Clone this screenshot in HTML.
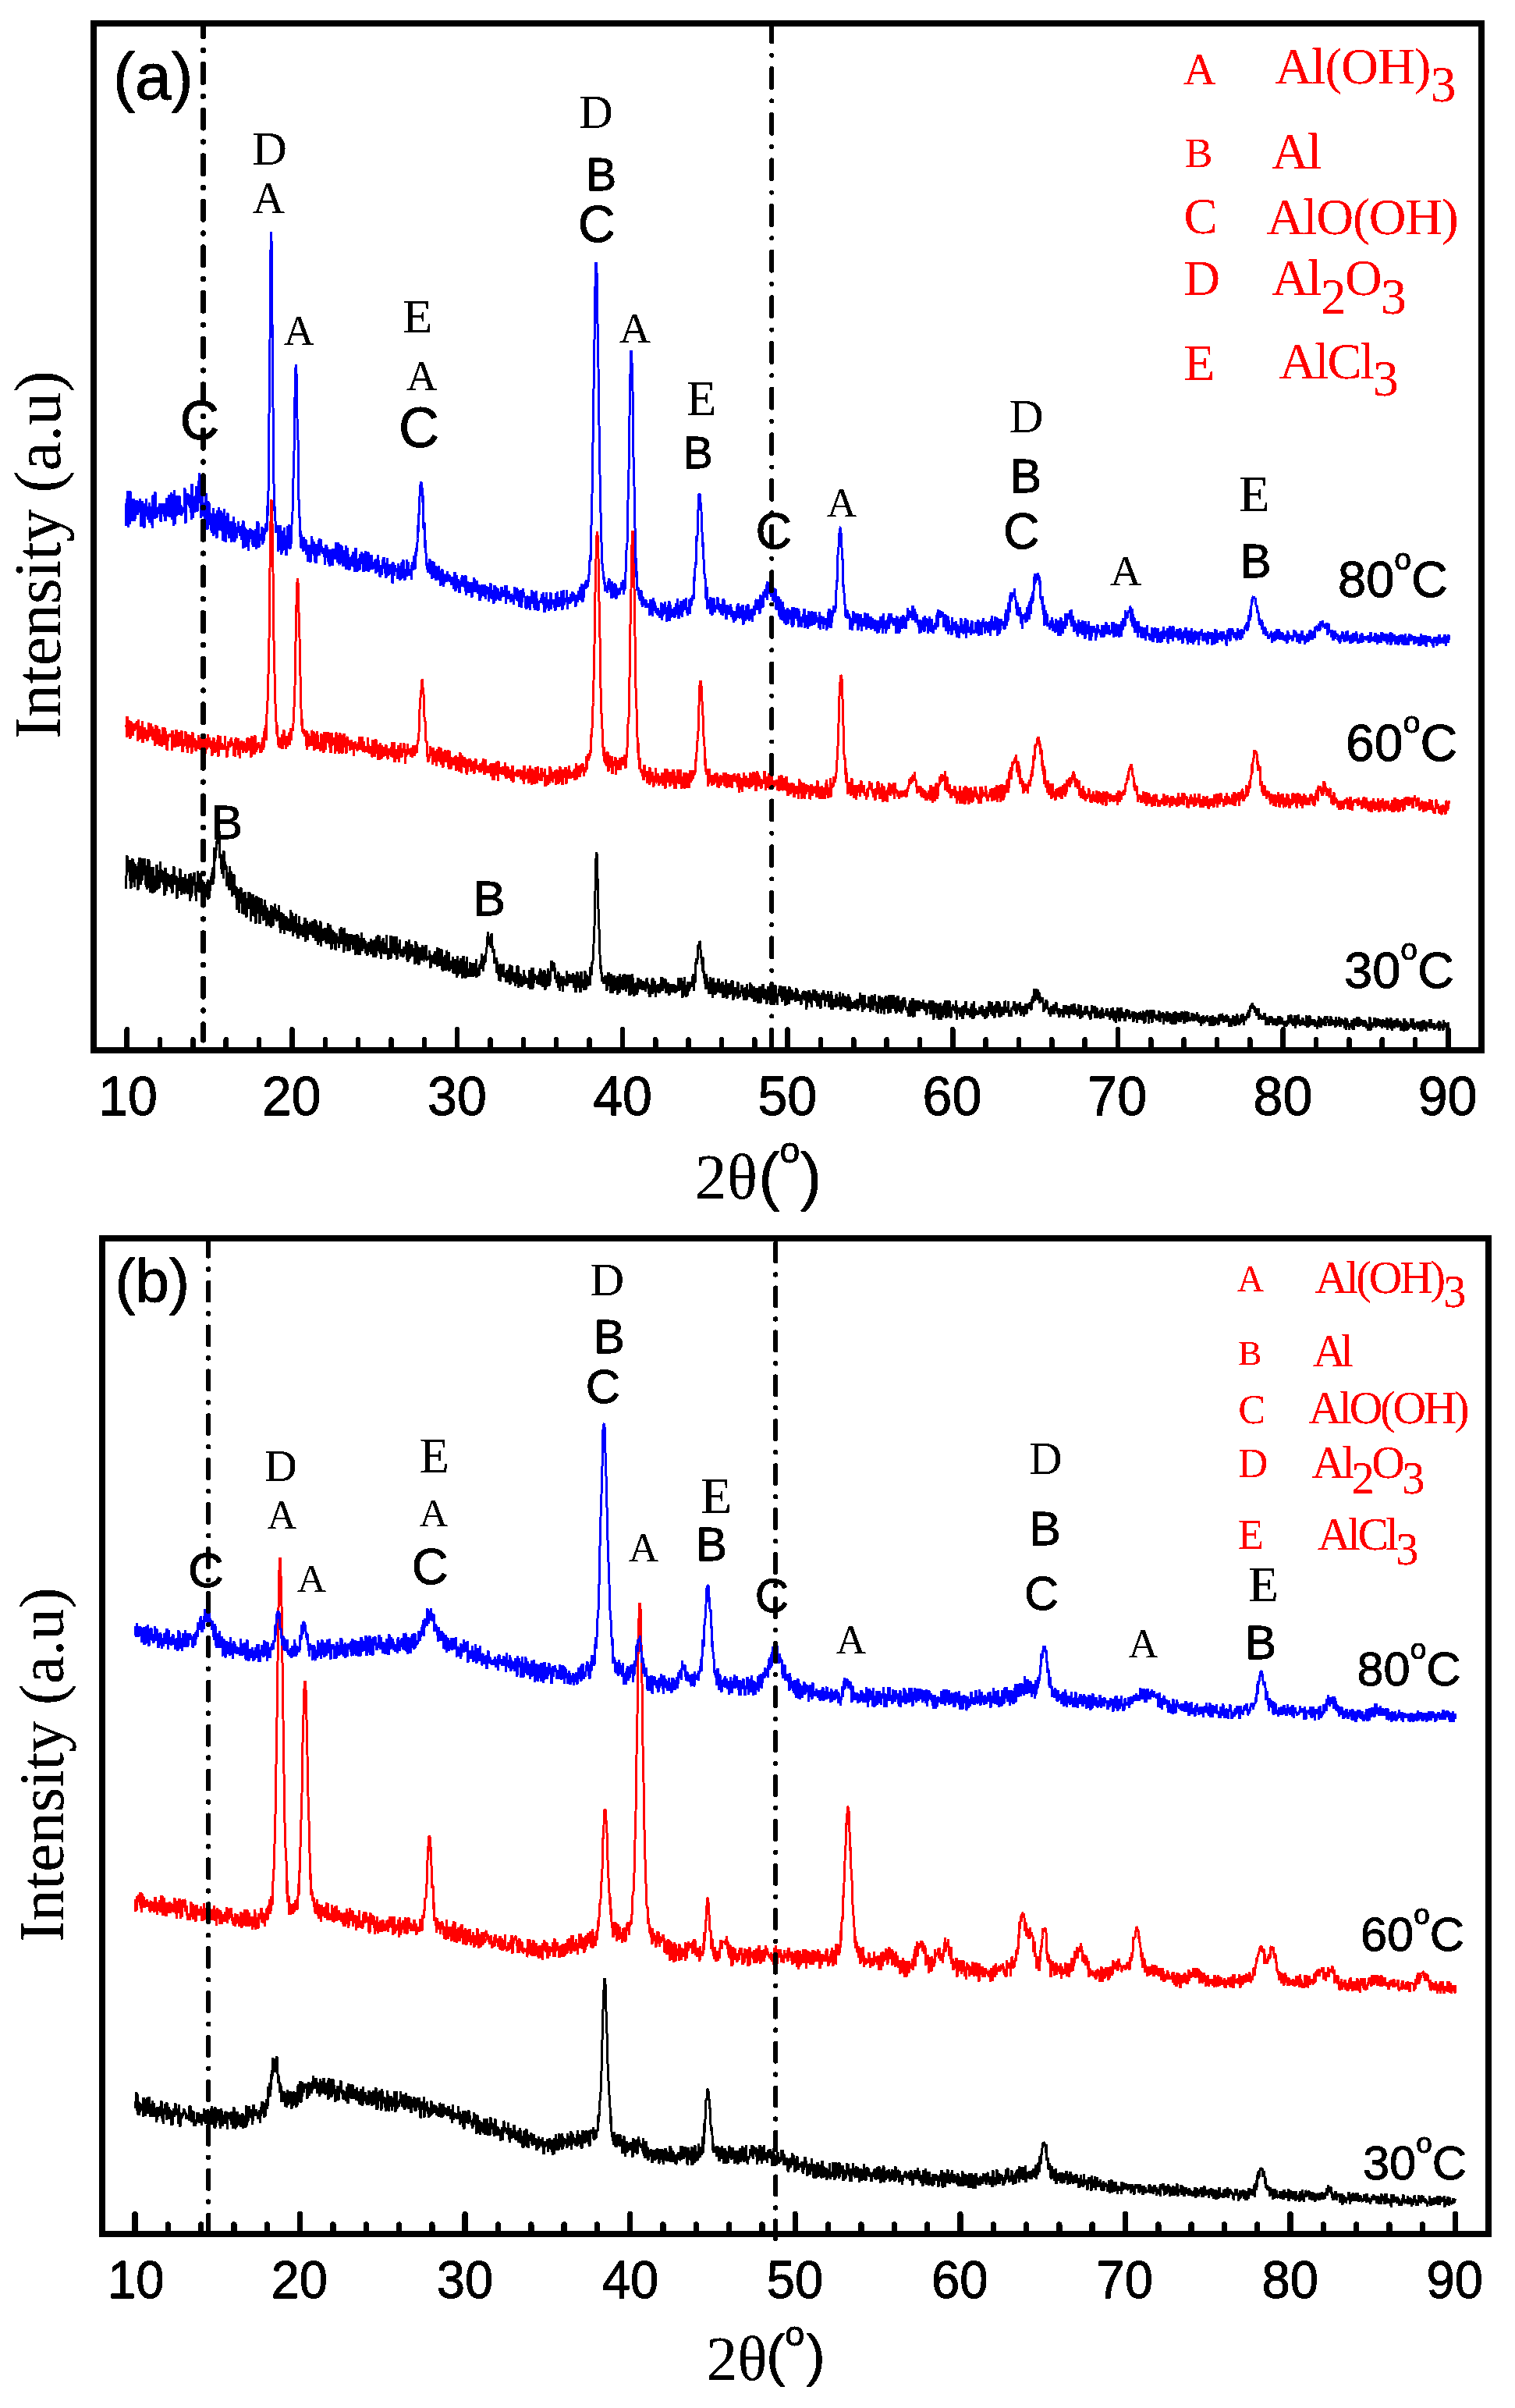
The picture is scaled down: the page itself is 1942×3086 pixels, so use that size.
<!DOCTYPE html>
<html lang="en"><head><meta charset="utf-8"><title>XRD patterns</title>
<style>html,body{margin:0;padding:0;background:#fff}svg{display:block}</style></head>
<body>
<svg width="1942" height="3086" viewBox="0 0 1942 3086">
<defs><filter id="bs" x="-5%" y="-5%" width="110%" height="110%" color-interpolation-filters="sRGB"><feComponentTransfer><feFuncA type="discrete" tableValues="0 0 1 1 1"/></feComponentTransfer></filter><filter id="ba" x="-5%" y="-5%" width="110%" height="110%" color-interpolation-filters="sRGB"><feComponentTransfer><feFuncA type="discrete" tableValues="0 1 1 1 1"/></feComponentTransfer></filter></defs>
<rect width="1942" height="3086" fill="#fff"/>
<g shape-rendering="crispEdges">
<path d="M161.5,1139l.5-16.5 .5-4 .5-22.5 .5,18.5 .5-1 .5,3 .5-6 .5,7 .5-5.5 .5-9.5 .5,26 .5,0 .5,10 .5-19.5 .5-5.5 .5-1.5 .5-12 .5,30.5 .5-25 .5-.5 .5,11.5 .5,20 .5-14.5 .5-15 .5,4 .5,16 .5-9.5 .5-7 .5,6.5 .5,11.5 .5,12.5 .5-35.5 .5,7 .5-2 .5-11.5 .5,10.5 .5-1 .5,25 .5-14.5 .5-17.5 .5,27 .5-12 .5-16 .5,13.5 .5,0 .5-3 .5,10.5 .5-21 .5,18 .5,15 .5-2 .5,3.5 .5,0 .5,4.5 .5-30.5 .5,23 .5-31 .5,14.5 .5-14 .5,33 .5,3.5 .5-17.5 .5,23 .5-28.5 .5,9.5 .5,.5 .5-14 .5,17.5 .5,16 .5-33 .5,22.5 .5-12 .5,22 .5-14.5 .5,2.5 .5-.5 .5-4.5 .5-19 .5,32.5 .5-32 .5,19 .5,4 .5-16.5 .5,11.5 .5,12 .5-13.5 .5-10 .5-10.5 .5,10 .5,4.5 .5,1 .5-5 .5,15.5 .5-11 .5,5.5 .5,9 .5-17.5 .5,6.5 .5,24.5 .5-10.5 .5-25 .5,14 .5,7.5 .5,8 .5-12.5 .5-7.5 .5-2 .5,16 .5-4 .5-9 .5,3.5 .5-2 .5,13 .5-16 .5,13.5 .5,4 .5-4 .5-14.5 .5,24.5 .5-22.5 .5,12.5 .5-13 .5-11 .5,22 .5,1 .5-4 .5,4 .5-10 .5-1 .5,6.5 .5,22.5 .5-11 .5-15 .5,12 .5-11.5 .5,.5 .5,15 .5-15.5 .5-12.5 .5,8.5 .5,11.5 .5,.5 .5,12.5 .5-22 .5,16.5 .5-3 .5-6.5 .5,11 .5-3.5 .5-15 .5,21.5 .5-25.5 .5,14.5 .5-.5 .5,5 .5-13 .5,8 .5-1 .5,12.5 .5-19.5 .5,9.5 .5-3.5 .5-11.5 .5,34.5 .5-20.5 .5-15.5 .5,32 .5-27.5 .5,16 .5,5.5 .5-16.5 .5,2.5 .5-1 .5,4.5 .5-16.5 .5,4.5 .5,12 .5,13 .5-4.5 .5,12 .5-11 .5-13.5 .5,4.5 .5-18.5 .5,9.5 .5-1 .5,14 .5,4.5 .5-13.5 .5,0 .5-10.5 .5,15.5 .5,4 .5,2 .5-13.5 .5,28 .5-6.5 .5-14 .5-5 .5,2.5 .5,5 .5-2 .5,5.5 .5,2.5 .5,6.5 .5-2.5 .5-14 .5,5.5 .5-9 .5-2.5 .5,25.5 .5-25 .5,24 .5-24 .5,5.5 .5,8 .5-12.5 .5,2.5 .5-8.5 .5-4.5 .5,1.5 .5-8 .5,21.5 .5-22.5 .5,17 .5-41.5 .5,15.5 .5,1.5 .5-13.5 .5,10 .5-9 .5-13 .5,2.5 .5,1.5 .5-9 .5-1 .5-1 .5,3 .5-9.5 .5,11.5 .5,23.5 .5-4 .5-1 .5,8 .5,11 .5-9.5 .5,15.5 .5-5.5 .5-7 .5,18.5 .5-35 .5,14.5 .5,10 .5-11 .5,9 .5-4.5 .5,1 .5,26.5 .5-11.5 .5-6 .5,15 .5-15.5 .5,13 .5-4.5 .5,14 .5-30.5 .5,24 .5-5.5 .5-12 .5,24.5 .5-19 .5,27 .5-10 .5,3 .5-5 .5,10 .5-27 .5,20.5 .5-6 .5,10.5 .5-2 .5,7.5 .5-14 .5,28.5 .5,.5 .5-19.5 .5,2.5 .5,4 .5,11 .5,6 .5-30 .5,6.5 .5-4 .5,0 .5-4.5 .5,20.5 .5-15 .5,28 .5-6 .5-19 .5,0 .5,5 .5,20.5 .5-22.5 .5-6 .5,15 .5,4.5 .5-10 .5,23 .5-13.5 .5,2.5 .5-13 .5,8.5 .5-1 .5-16 .5,21.5 .5-21 .5,18 .5-14 .5,33 .5-14.5 .5,5.5 .5,1 .5-22 .5-4.5 .5,15 .5,12.5 .5-8 .5,7 .5,2 .5-24 .5,18 .5,15.5 .5-23.5 .5-12 .5,16 .5-2.5 .5,9 .5-12.5 .5,10 .5-18.5 .5,26.5 .5,7.5 .5-2.5 .5-28 .5,18.5 .5-20.5 .5,20.5 .5-3 .5-9 .5,13.5 .5-2 .5,8 .5-7.5 .5,1 .5-19.5 .5,6 .5,7 .5,8 .5-3 .5,15 .5-23 .5,6.5 .5,5 .5-4.5 .5,7 .5-10 .5,19.5 .5-16.5 .5,14 .5-11 .5,15 .5-28 .5,19 .5-9 .5,6.5 .5,9.5 .5-22.5 .5-1.5 .5,3.5 .5,12 .5-19.5 .5,18.5 .5-13 .5,1.5 .5,7.5 .5,7.5 .5-9.5 .5,1.5 .5,4.5 .5-2 .5-14.5 .5,13 .5,5.5 .5,9.5 .5,7 .5-10.5 .5-5.5 .5-10 .5,10.5 .5,6.5 .5,5 .5-20.5 .5,11 .5,5.5 .5,9.5 .5-14 .5-7.5 .5-1.5 .5,3.5 .5-2.5 .5,14 .5,2.5 .5-3 .5,4.5 .5-15.5 .5,8 .5-7 .5,4.5 .5,11 .5-11.5 .5-16.5 .5,15 .5-4 .5-7.5 .5,7 .5,16.5 .5,7 .5-20 .5,14 .5,1.5 .5-21.5 .5,10.5 .5,.5 .5,2 .5-16 .5,11.5 .5,13 .5,2.5 .5,5 .5-19.5 .5,19.5 .5-10 .5-18.5 .5,19.5 .5-10 .5,8.5 .5-6 .5,12.5 .5-8.5 .5-5 .5,11.5 .5-6 .5-6 .5,15.5 .5-15 .5-2 .5,1 .5-8.5 .5,8.5 .5,22 .5-24.5 .5,8.5 .5-10 .5,4.5 .5,19.5 .5-5.5 .5-13.5 .5,6 .5-7.5 .5,.5 .5-1 .5,.5 .5,11 .5,3 .5-1 .5-6 .5-10.5 .5,12 .5-7.5 .5,16.5 .5-3 .5,2 .5-9.5 .5-13 .5,25 .5,2.5 .5-24 .5,14.5 .5,9.5 .5-20 .5,25.5 .5-18.5 .5-6.5 .5,22 .5-9.5 .5-8 .5,14 .5-24 .5,32.5 .5-23.5 .5,10 .5-6 .5,8 .5,4 .5-15 .5,14.5 .5-9.5 .5-3.5 .5,4.5 .5-7 .5,2 .5,16 .5-10 .5,12 .5-6.5 .5-12.5 .5-7 .5,10 .5,9 .5-2.5 .5-7 .5,16.5 .5-24.5 .5,4.5 .5,12.5 .5,15 .5-12.5 .5-12.5 .5,14.5 .5,1 .5,2.5 .5-12 .5-3.5 .5,8.5 .5,2.5 .5,11 .5,1.5 .5-22 .5,2 .5,4 .5-1.5 .5,6.5 .5,.5 .5-2 .5,9.5 .5-13 .5-8 .5-4 .5,4.5 .5,0 .5-6.5 .5,22 .5-4 .5-5.5 .5-4 .5-6 .5,6 .5,24 .5-31.5 .5,17.5 .5,5 .5-5 .5-4 .5,10 .5-16.5 .5,14.5 .5,8 .5-21.5 .5,2 .5,8.5 .5,7.5 .5,3.5 .5-6 .5-11.5 .5-4 .5,12 .5,1.5 .5-13 .5,10.5 .5,2.5 .5,6.5 .5-18 .5,13.5 .5-14.5 .5,6.5 .5,3 .5,14 .5,2.5 .5-13 .5,2 .5,4.5 .5-20.5 .5,18.5 .5-17 .5,25 .5-1.5 .5-8 .5-11.5 .5,21.5 .5-12 .5-1.5 .5,4.5 .5-20 .5,19 .5,5 .5-6 .5-1.5 .5-9.5 .5,14 .5-4 .5-1.5 .5-5 .5,12.5 .5,3.5 .5-7.5 .5,4.5 .5,4 .5,2 .5-11.5 .5-3.5 .5-2 .5,4 .5,4.5 .5,3.5 .5-12 .5,5 .5-9.5 .5,19.5 .5-14 .5,6.5 .5-9.5 .5,3.5 .5-3 .5,20.5 .5-11.5 .5-4.5 .5-6.5 .5,3 .5,10 .5,9.5 .5-26.5 .5,4.5 .5,6.5 .5-4 .5-8.5 .5,14.5 .5,6 .5-20 .5,15.5 .5,6.5 .5,.5 .5-12 .5,19 .5-10.5 .5-12 .5,15.5 .5-18 .5,17.5 .5-18.5 .5,17.5 .5-11.5 .5,14.5 .5-3 .5-2.5 .5-3.5 .5,9 .5-24.5 .5,19 .5,0 .5,1.5 .5,2 .5,8.5 .5-14.5 .5,6 .5-5.5 .5,12.5 .5-29 .5,30 .5-20 .5-9.5 .5,6 .5,8 .5,3 .5-2 .5,7.5 .5-7 .5-.5 .5-14.5 .5,19.5 .5,4.5 .5-12 .5-11.5 .5,4 .5,25.5 .5-19 .5-.5 .5-1 .5,12.5 .5-10.5 .5-2 .5-5.5 .5,12 .5,9.5 .5-9.5 .5,8.5 .5-5.5 .5-.5 .5,.5 .5-1 .5,8.5 .5-4.5 .5-9 .5,6 .5-1.5 .5,5 .5-2.5 .5,2 .5-15.5 .5,15.5 .5,8 .5-22.5 .5,25 .5-10.5 .5-4.5 .5-13 .5,24 .5-17 .5,4 .5,9 .5-13 .5,.5 .5-1.5 .5,9 .5,6 .5-1.5 .5,0 .5-6 .5,4 .5-6.5 .5,20.5 .5-13 .5-16.5 .5,6 .5,22.5 .5-24.5 .5,8 .5,7 .5-12.5 .5,18 .5,5.5 .5-21 .5,16.5 .5-16.5 .5-1 .5,10.5 .5,0 .5-6.5 .5,12 .5-19 .5,5 .5-1.5 .5,15 .5,.5 .5-1 .5-16 .5,12 .5,3 .5-17.5 .5,7 .5,12 .5,1 .5-3.5 .5,2.5 .5-2 .5-1 .5-2 .5-6.5 .5,5.5 .5-1 .5,18 .5-12.5 .5-2 .5-1.5 .5,1 .5-1 .5,7 .5-4.5 .5,7 .5-12.5 .5,9 .5,4.5 .5-16.5 .5,11 .5,1 .5-5 .5-1 .5-10.5 .5,24.5 .5-17 .5-2.5 .5,16 .5-20 .5,22.5 .5-4 .5,1.5 .5-6 .5-8.5 .5-4.5 .5,26.5 .5-15.5 .5,0 .5,17 .5-17.5 .5,3 .5,.5 .5,1 .5-7.5 .5,4.5 .5,15 .5-4 .5-21 .5,.5 .5,17.5 .5-3.5 .5-2 .5,11.5 .5-22.5 .5,24.5 .5-8.5 .5,3.5 .5-2.5 .5,5 .5-8.5 .5-2.5 .5,11 .5-4.5 .5-11.5 .5,21 .5-1 .5,2 .5-10.5 .5,2 .5-5.5 .5-4.5 .5,8.5 .5,1 .5-6.5 .5,20 .5-27.5 .5,6.5 .5,1.5 .5,16 .5-12.5 .5-.5 .5-4.5 .5,1 .5-4 .5,19 .5-3.5 .5,3.5 .5-13.5 .5,20 .5-22.5 .5-6.5 .5,12.5 .5,3.5 .5,5 .5-14 .5,13 .5,9 .5-20.5 .5,1 .5-8 .5,16 .5,5 .5-1 .5,1 .5,4.5 .5-10.5 .5,7 .5-15.5 .5,1.5 .5,8.5 .5-8.5 .5,11 .5,6.5 .5-8 .5-9 .5,0 .5,17 .5-17.5 .5,7 .5-2.5 .5,2.5 .5,8 .5-13 .5-7 .5,23 .5-10 .5,4 .5-6.5 .5,6.5 .5,3.5 .5,.5 .5-13.5 .5-1 .5,5.5 .5-2 .5,2.5 .5-11 .5-9 .5,16.5 .5,2 .5-2.5 .5,7 .5-8 .5-11.5 .5,9 .5-10 .5,8.5 .5-10 .5-1 .5-4 .5-3.5 .5-14.5 .5,10 .5-16 .5,15.5 .5,0 .5-1.5 .5-5 .5,0 .5-2.5 .5,12.5 .5-16 .5,17.5 .5-18.5 .5,16 .5,8.5 .5-.5 .5-.5 .5-3.5 .5,1.5 .5,17.5 .5-2.5 .5-3 .5,5 .5-7.5 .5,17 .5,3 .5-14.5 .5,8 .5,8.5 .5-12.5 .5,20 .5-1.5 .5-13.5 .5,10.5 .5,5.5 .5-22 .5,15 .5-5.5 .5-.5 .5,7.5 .5-9 .5-6.5 .5,0 .5,11 .5,5.5 .5-5 .5-1 .5,1.5 .5,10 .5-5.5 .5-9.5 .5,3.5 .5,11.5 .5-13.5 .5,1.5 .5,3 .5-8 .5,15.5 .5-20.5 .5,25 .5-14.5 .5-6 .5,12 .5-15.5 .5,17.5 .5,2 .5-10.5 .5,1.5 .5,10.5 .5-12.5 .5,5.5 .5,2.5 .5,9.5 .5-16 .5,4.5 .5,8.5 .5-22.5 .5,12 .5-12 .5,0 .5,28 .5-12 .5,9.5 .5-13 .5,6 .5-7.5 .5-.5 .5,3.5 .5,1.5 .5,11 .5-13.5 .5,4.5 .5-4.5 .5,3 .5-11 .5,18.5 .5-12.5 .5,4.5 .5-2 .5,9 .5-3.5 .5-3.5 .5,1 .5,1.5 .5,3 .5-1.5 .5,6 .5,2.5 .5-7.5 .5-15 .5,23.5 .5,.5 .5-16.5 .5-.5 .5-10.5 .5,20 .5-13.5 .5,21 .5-27 .5,14 .5,5 .5-8.5 .5-3 .5,8 .5-5.5 .5,1.5 .5,2 .5-3.5 .5,2.5 .5,7.5 .5-9 .5,4.5 .5-7 .5,12.5 .5-16.5 .5,17 .5-20.5 .5,6.5 .5-5 .5,19.5 .5-5.5 .5-12 .5,6 .5,14 .5-10.5 .5,5 .5-15.5 .5,0 .5,15.5 .5,9.5 .5-18 .5,8.5 .5-11.5 .5,16.5 .5-13 .5,0 .5-10 .5,10 .5,4 .5,8.5 .5-20 .5,14.5 .5-11.5 .5-1.5 .5-7 .5-7 .5,3 .5,10.5 .5-8 .5,1 .5,1.5 .5-6 .5,10.5 .5-4 .5,7.5 .5,7 .5-5.5 .5,1.5 .5,8 .5,.5 .5-9.5 .5,4.5 .5-8.5 .5,20 .5-18.5 .5,10.5 .5,12 .5-7 .5-8 .5-3.5 .5,1 .5,11.5 .5-4 .5-2.5 .5,13.5 .5-19.5 .5,2.5 .5,1 .5,4.5 .5,.5 .5-4 .5,7.5 .5-1.5 .5-6.5 .5-10.5 .5,19 .5-13 .5,2 .5,4 .5-8 .5,3 .5,6.5 .5-3 .5,5 .5-9 .5,5 .5-6.5 .5,6 .5,4 .5-3.5 .5-9 .5,9.5 .5,2.5 .5,7 .5-8.5 .5-3 .5-5.5 .5,23 .5-21 .5-1.5 .5,7.5 .5-12 .5,21 .5-6.5 .5,2 .5-11 .5,3.5 .5,10.5 .5,0 .5,7.5 .5-6 .5-21 .5,13.5 .5-3.5 .5,11 .5-9 .5,4.5 .5-6 .5,6.5 .5,6.5 .5-15.5 .5-8.5 .5,5 .5,19 .5-10 .5-4 .5-5 .5,14.5 .5-5.5 .5-3.5 .5-3.5 .5,2.5 .5-1.5 .5,6 .5,4.5 .5-23.5 .5,1.5 .5,8.5 .5-1 .5-15 .5,2.5 .5-5 .5-9 .5-12 .5-12 .5-11 .5-22 .5-23 .5-23 .5-19 .5-7.5 .5,1.5 .5,10.5 .5,21 .5,19 .5,20 .5,23 .5,3 .5,24.5 .5,8 .5,19 .5-5 .5,11 .5-2 .5,8.5 .5,3 .5-5.5 .5,3 .5,1 .5,5 .5-7.5 .5,3 .5-3 .5-3.5 .5,8.5 .5,2 .5-8.5 .5,17.5 .5-17 .5,11.5 .5-2.5 .5-15.5 .5,12.5 .5-11 .5,11 .5,5.5 .5,9 .5-8 .5-17 .5,9 .5,13.5 .5-9.5 .5,12 .5-18.5 .5,1.5 .5-6 .5,7.5 .5,12 .5-16 .5,13 .5-2.5 .5,2 .5-7.5 .5,2 .5,14 .5-23 .5,15 .5,5.5 .5-8 .5,9 .5-24.5 .5,10 .5-6 .5,5.5 .5,2.5 .5,4 .5-9.5 .5,12.5 .5-18 .5,19 .5-9 .5-10.5 .5,0 .5,0 .5,5 .5,8.5 .5,8.5 .5-3.5 .5-15.5 .5-3 .5,10.5 .5-8.5 .5,9.5 .5-4 .5,19.5 .5-26.5 .5,14.5 .5,11.5 .5-16.5 .5-3 .5,18 .5-24.5 .5,0 .5,3.5 .5,12 .5,2.5 .5-6.5 .5,15.5 .5-16 .5,1.5 .5-2 .5,11.5 .5-9 .5-3 .5,15.5 .5-3 .5-2 .5-16.5 .5,1.5 .5,6 .5,0 .5-1 .5,1.5 .5,6.5 .5-12.5 .5,9.5 .5-4.5 .5-1 .5,1.5 .5,8 .5-3.5 .5-8 .5,8.5 .5-1.5 .5,2 .5-4.5 .5,9 .5-4.5 .5-11 .5-1 .5-1 .5,13.5 .5-8 .5,2.5 .5,2 .5,10 .5,4 .5-14 .5,14 .5-9 .5,5 .5-11 .5-7 .5,12.5 .5,6 .5-20.5 .5,11 .5,2 .5,2.5 .5-12 .5,3.5 .5,11 .5,6.5 .5-12.5 .5,6.5 .5-6 .5,2 .5-6 .5,1.5 .5-2.5 .5,5 .5,7 .5-6.5 .5,3.5 .5-9.5 .5,10 .5-18.5 .5,3 .5,8 .5-10.5 .5,17 .5-2.5 .5-8.5 .5,7.5 .5-11.5 .5,4.5 .5,3.5 .5-8.5 .5,19 .5-12 .5,12 .5-8.5 .5,3.5 .5-9 .5,4.5 .5-1 .5,5 .5,8 .5-14 .5,3 .5,4 .5,3.5 .5-7 .5-2 .5-1.5 .5,4.5 .5,1.5 .5-6.5 .5,3 .5,7.5 .5-5.5 .5-4 .5,9 .5,0 .5-.5 .5,.5 .5-8 .5,4.5 .5,1 .5-1.5 .5-13.5 .5,12.5 .5,2.5 .5,1 .5-5.5 .5,2.5 .5-13.5 .5,2 .5-2 .5,11.5 .5,13 .5,1 .5-21 .5,13 .5,4.5 .5-11.5 .5-11 .5,23.5 .5-13 .5-.5 .5,15 .5-9 .5,3 .5,5 .5-12.5 .5-6 .5,12.5 .5-6 .5,5.5 .5-3 .5-8.5 .5,5.5 .5-3 .5,.5 .5,1 .5,2.5 .5-2 .5-11.5 .5,13 .5-16.5 .5,21.5 .5-20 .5,2.5 .5,7.5 .5-14.5 .5-11.5 .5-5 .5,7.5 .5-4 .5-2 .5-9 .5-9.5 .5,1 .5-2 .5-4.5 .5,1 .5,0 .5,10 .5,9.5 .5,0 .5,1 .5,8 .5,9 .5-18.5 .5,21 .5-2.5 .5,1 .5,8.5 .5,2.5 .5,4 .5-6 .5,13.5 .5-20 .5,6.5 .5-1 .5,10 .5-4 .5,8 .5-9.5 .5,15.5 .5-4 .5-8.5 .5-8.5 .5,4 .5-2.5 .5,20 .5-3.5 .5-14 .5,22 .5-15 .5-10.5 .5,20.5 .5,1.5 .5-9 .5-6.5 .5,15.5 .5-12.5 .5,3.5 .5,4 .5-1.5 .5-5 .5-4 .5,12.5 .5-18 .5,15.5 .5-.5 .5,2 .5-6.5 .5,4.5 .5,4 .5-13 .5,8 .5,2.5 .5-12 .5,2.5 .5,18 .5-3.5 .5-13 .5,10.5 .5-2 .5,7 .5-1.5 .5-21 .5,11 .5,12 .5,1.5 .5-15.5 .5-4.5 .5,10.5 .5-6 .5,4.5 .5-8.5 .5,14 .5-1.5 .5-.5 .5-11 .5-4 .5,3 .5,12.5 .5-16.5 .5,18 .5,7.5 .5-17 .5,3.5 .5,8.5 .5-.5 .5-11 .5,3.5 .5,2 .5-2.5 .5,6 .5-2 .5,7 .5-21 .5,20.5 .5-2.5 .5-7 .5,4 .5,4 .5-4.5 .5-4 .5,4 .5-7 .5-4 .5,3 .5,.5 .5,7 .5,4.5 .5-4 .5,8.5 .5-10.5 .5-4 .5-.5 .5-1 .5,4 .5,12 .5-20 .5,14.5 .5-4 .5,6 .5-9 .5,8.5 .5-9 .5,8.5 .5-17.5 .5,16.5 .5,2 .5-16.5 .5,17 .5-14 .5,15 .5-6.5 .5,4.5 .5-2 .5-11 .5,19.5 .5-2.5 .5-15.5 .5,11 .5-.5 .5-8 .5-2.5 .5,16.5 .5-12 .5,9.5 .5,6 .5-9 .5-9.5 .5,13 .5-16.5 .5,3.5 .5,18.5 .5-17.5 .5,8 .5-10 .5,6.5 .5,2.5 .5-14.5 .5,8.5 .5,9.5 .5,1.5 .5-4 .5-9 .5,9.5 .5-6 .5-2 .5,5.5 .5,12 .5-18 .5,13.5 .5-5.5 .5-12 .5,4 .5,5 .5-2 .5,5.5 .5-9 .5,0 .5,14 .5-7 .5-6 .5,6 .5,12.5 .5-16.5 .5-6 .5,17 .5,5.5 .5-3 .5-18 .5-4 .5,22 .5-10 .5,4.5 .5-4.5 .5,13 .5-11 .5-3 .5,3.5 .5-9.5 .5,9.5 .5-1.5 .5-12.5 .5,5 .5-.5 .5-2.5 .5,13.5 .5,5.5 .5-5.5 .5-12.5 .5-2 .5,18 .5-7.5 .5,1.5 .5-8.5 .5-3.5 .5,25 .5-16.5 .5,3 .5-7 .5,19 .5-13 .5,1 .5,1.5 .5,0 .5,10 .5-22.5 .5,17 .5-8.5 .5,1.5 .5-1.5 .5,7 .5-11.5 .5,5 .5,8 .5-8 .5,.5 .5,6 .5-2 .5-2.5 .5,2.5 .5-6.5 .5,12.5 .5-14 .5-3.5 .5,14.5 .5-12 .5,2.5 .5,5 .5,6.5 .5-8 .5,0 .5,0 .5,6 .5-6 .5,5 .5,8 .5-11 .5-1 .5-4 .5,1.5 .5-3.5 .5,1 .5,3.5 .5,6.5 .5,1 .5-6 .5,5 .5-11 .5,22 .5,0 .5-13.5 .5,4 .5-2.5 .5,4.5 .5-9.5 .5-6 .5,16 .5-13 .5,10 .5-9 .5,1.5 .5,12 .5,4.5 .5-12 .5-2 .5,5 .5-6 .5-8 .5,12 .5-12 .5,15 .5-6 .5,4.5 .5-11.5 .5,5 .5,9.5 .5,5.5 .5-3.5 .5-3 .5-10.5 .5,11.5 .5-3 .5-3 .5,11.5 .5-14.5 .5,17.5 .5-16.5 .5,0 .5,4 .5-8.5 .5,6 .5,4 .5-12.5 .5,6 .5-3.5 .5,6.5 .5,11 .5-11 .5,2 .5,3 .5-9.5 .5,9.5 .5-5 .5-1 .5-7.5 .5,7.5 .5,12 .5,1 .5-10.5 .5,2.5 .5-3 .5-5 .5-4 .5,23.5 .5-18.5 .5,8.5 .5,9.5 .5-13.5 .5,1.5 .5,3 .5-4 .5,4 .5-4 .5,10.5 .5-4.5 .5-11.5 .5-1 .5,4.5 .5,.5 .5-1 .5,11.5 .5-11 .5,1.5 .5,4.5 .5-13.5 .5,15.5 .5,1 .5,6 .5-16.5 .5,3.5 .5,4.5 .5-4 .5-7.5 .5,16.5 .5-8 .5,4.5 .5-10 .5,14 .5-9 .5-2.5 .5,10.5 .5,2 .5-14 .5,13.5 .5,4.5 .5-9.5 .5-11.5 .5,13.5 .5,3.5 .5-14 .5,18.5 .5-13 .5,.5 .5,8.5 .5-6 .5,7 .5-8.5 .5,3 .5-2.5 .5,1.5 .5,2.5 .5-1 .5-5.5 .5,9 .5-7.5 .5,9 .5-4 .5-4.5 .5-4.5 .5,5.5 .5,9 .5-8 .5,5.5 .5-7.5 .5-1.5 .5-2.5 .5-8 .5,15 .5-2 .5-.5 .5,5.5 .5-12 .5,18.5 .5-21.5 .5,11.5 .5-10 .5,6.5 .5,10 .5-18.5 .5,12 .5-.5 .5,.5 .5,.5 .5,3.5 .5-2 .5-.5 .5,3.5 .5-1.5 .5-5.5 .5-7.5 .5,14 .5-8 .5,13.5 .5-15 .5-4.5 .5,16 .5-12.5 .5-5.5 .5,18.5 .5-18 .5,19 .5-15.5 .5,9.5 .5-1.5 .5-13.5 .5,12 .5-2.5 .5,3.5 .5,3 .5,7 .5-12.5 .5,1 .5,13.5 .5-7.5 .5,0 .5-15.5 .5,1 .5,5.5 .5,3 .5,4.5 .5,9 .5-21 .5,6 .5,7 .5-2.5 .5,6 .5-9.5 .5-4.5 .5,19 .5-9.5 .5-11.5 .5,6 .5,2 .5-10 .5,16 .5-4.5 .5-3.5 .5-2 .5,16 .5-12 .5-4.5 .5-7 .5,5 .5,12 .5,5.5 .5-18.5 .5-4 .5,12.5 .5-.5 .5,6 .5-10.5 .5,5.5 .5-12.5 .5,3.5 .5,4.5 .5,1 .5,6.5 .5,5 .5-18 .5,21 .5-16.5 .5,2.5 .5,10.5 .5-19.5 .5,2 .5,4.5 .5,6 .5,7 .5,0 .5-13.5 .5,11.5 .5-8 .5,13 .5-12 .5,9.5 .5-14.5 .5,12.5 .5-14.5 .5,10 .5-11.5 .5,10 .5-4 .5-1.5 .5,8.5 .5,4 .5-4.5 .5,1.5 .5,2.5 .5,3.5 .5-1 .5-4 .5,9.5 .5-16 .5,9.5 .5-13.5 .5,20.5 .5-14 .5,2.5 .5,8.5 .5-10.5 .5-4.5 .5-6 .5,10 .5,14.5 .5-11 .5,10.5 .5-6 .5-8.5 .5-6.5 .5,8 .5,6 .5-6 .5,3 .5,3 .5-6.5 .5-7.5 .5,8 .5,6 .5-9.5 .5-1.5 .5,.5 .5,5 .5,1 .5,.5 .5-8 .5,9 .5-4.5 .5-2 .5-5.5 .5,4.5 .5,3.5 .5,5 .5,2 .5-2.5 .5,1.5 .5-9.5 .5,13.5 .5,0 .5-1 .5-8 .5,3 .5-2.5 .5-5.5 .5,6.5 .5-8 .5-1.5 .5,16 .5,0 .5,2 .5-9 .5,3.5 .5,3.5 .5-6 .5-9.5 .5,24.5 .5-4 .5,0 .5-8 .5-6 .5,6 .5,1.5 .5-11 .5,6 .5,7 .5,6.5 .5-6 .5-7 .5-6 .5,21 .5-11.5 .5,4.5 .5-5 .5-9.5 .5,21.5 .5-7.5 .5,3.5 .5-13.5 .5,5 .5,9.5 .5-11.5 .5-2.5 .5-3 .5-1.5 .5,15 .5-6 .5-12 .5,22.5 .5-2 .5-.5 .5-20 .5,13 .5,8 .5-15.5 .5,1.5 .5,3.5 .5-10.5 .5,13.5 .5,5 .5-2 .5,5.5 .5-9.5 .5-.5 .5-1 .5-3.5 .5-2.5 .5,2 .5,4.5 .5-3 .5,4.5 .5-.5 .5,4 .5-8 .5-8.5 .5,5.5 .5,18.5 .5-7 .5-7.5 .5,1 .5,1 .5-2.5 .5,4.5 .5,3 .5,3.5 .5-10.5 .5,.5 .5,0 .5,2 .5,7 .5-12 .5,16.5 .5-8 .5,3.5 .5-13 .5,3.5 .5-1 .5,3.5 .5-11.5 .5,14.5 .5-14 .5,13.5 .5,4 .5-7 .5-.5 .5,0 .5-.5 .5,3 .5,4.5 .5-2 .5,5.5 .5-9 .5-3.5 .5,0 .5-5 .5,5.5 .5-1 .5,15 .5-8 .5,7.5 .5-22.5 .5,13.5 .5,5 .5-4.5 .5-5 .5,4 .5-.5 .5,0 .5,1 .5,4.5 .5-5 .5,.5 .5-1.5 .5,2.5 .5-7 .5,8 .5-5.5 .5,7 .5-9 .5,3.5 .5-.5 .5-5.5 .5,13 .5-4.5 .5-2 .5,7.5 .5-9.5 .5,1.5 .5,7 .5,4 .5-10 .5,9.5 .5-9 .5-6 .5,8 .5,4.5 .5-6.5 .5,1.5 .5-9.5 .5-5 .5,13 .5-10 .5,8 .5-3.5 .5,4.5 .5,4.5 .5-15.5 .5,9 .5,0 .5,9 .5-7.5 .5-5.5 .5,1.5 .5,14.5 .5-16.5 .5,5.5 .5,1.5 .5-8.5 .5,2 .5-6 .5,5.5 .5,9.5 .5-3 .5-12 .5,19.5 .5-16.5 .5,2 .5,15.5 .5-7 .5-3 .5,9.5 .5-9.5 .5,2.5 .5-5.5 .5,2.5 .5,.5 .5,7 .5-10.5 .5,2.5 .5-9.5 .5,.5 .5,14.5 .5-6.5 .5,0 .5,6 .5-6 .5,3 .5-2.5 .5-9 .5,14.5 .5,5 .5-2 .5-6.5 .5,1 .5,1 .5,6.5 .5-2 .5-9 .5,1 .5,0 .5-2.5 .5,0 .5,2.5 .5-9.5 .5,12.5 .5-5 .5-4.5 .5,6 .5-3.5 .5,11.5 .5-13.5 .5,7 .5,1.5 .5-7 .5-2 .5,9 .5-4.5 .5-3 .5-3 .5,12 .5,5 .5-12 .5,6 .5,3.5 .5-1 .5-9 .5,6.5 .5,.5 .5,7 .5-9.5 .5,4.5 .5-1.5 .5-1 .5-9.5 .5,7 .5,7 .5-11 .5,3 .5-6 .5,5.5 .5,0 .5,1.5 .5-6.5 .5-1 .5-1.5 .5,4 .5-1.5 .5,8 .5-14.5 .5,6 .5-8 .5-1 .5,7.5 .5-5 .5-.5 .5-12 .5,16 .5-1.5 .5-13 .5-1.5 .5,2.5 .5,.5 .5-.5 .5,2 .5-3 .5,13 .5-9.5 .5,0 .5,14 .5-7 .5-.5 .5,1 .5,5 .5-4.5 .5,4 .5-2.5 .5-3 .5,6.5 .5,3.5 .5,8 .5-6.5 .5-2.5 .5,3 .5,3 .5-12.5 .5,8 .5-7.5 .5,1 .5,5.5 .5,3.5 .5,1 .5,1 .5,6.5 .5-4.5 .5-.5 .5-3.5 .5,11.5 .5-2.5 .5-10 .5,0 .5,7 .5,1.5 .5-7 .5,8 .5-12.5 .5,5.5 .5,6.5 .5-8.5 .5,4 .5-1 .5-1 .5-8.5 .5,8 .5,2.5 .5,.5 .5,3 .5,1 .5-7 .5,1 .5,10 .5-4.5 .5-4 .5-1.5 .5,6.5 .5,.5 .5-6 .5,2.5 .5-2 .5-.5 .5,9.5 .5-15.5 .5,10.5 .5-9.5 .5,2 .5,8 .5-11 .5,2 .5-1 .5,2.5 .5,5 .5,4 .5-9 .5,8 .5-11 .5,15.5 .5-11.5 .5,0 .5,3.5 .5-.5 .5-1.5 .5-7.5 .5,13 .5-1 .5-5.5 .5-4 .5,7.5 .5,4 .5-14.5 .5,3.5 .5,6 .5-4.5 .5,2.5 .5,1 .5,4.5 .5,.5 .5,1 .5-.5 .5-7.5 .5-6 .5,10.5 .5,1 .5,0 .5-5.5 .5,12.5 .5-17.5 .5,12.5 .5-1 .5,1.5 .5,2.5 .5-4.5 .5-1 .5-3 .5,5.5 .5-2 .5,2 .5-9.5 .5-2 .5,8 .5,2.5 .5-10 .5,2.5 .5,3.5 .5,3 .5,0 .5,3.5 .5-5.5 .5,3 .5,4 .5-7.5 .5,10.5 .5-11 .5,2.5 .5-9.5 .5,8.5 .5-2 .5-.5 .5,4.5 .5-6.5 .5,6.5 .5-10 .5,6.5 .5,9 .5-6 .5,2.5 .5-7.5 .5-2 .5,13.5 .5-2 .5-.5 .5-4.5 .5,6 .5-8 .5,5.5 .5,0 .5-7.5 .5,11.5 .5-6.5 .5,3.5 .5-11 .5,1.5 .5,3.5 .5,4.5 .5,3.5 .5-4 .5-2.5 .5,3.5 .5-3.5 .5,1.5 .5,1.5 .5-5.5 .5,5.5 .5-9 .5,3 .5,7.5 .5-6.5 .5,5.5 .5-1 .5-2 .5,8 .5-5 .5-5 .5,.5 .5,3 .5-7.5 .5,12.5 .5-5.5 .5-8 .5,3.5 .5,11.5 .5-5.5 .5,7.5 .5-8.5 .5,2 .5,7 .5,0 .5-13.5 .5,9 .5-9.5 .5,3 .5-6.5 .5,11.5 .5-7.5 .5,1 .5,12.5 .5-4.5 .5-5 .5-8 .5,10.5 .5-10.5 .5,4.5 .5,8 .5,.5 .5-3 .5,3 .5-3 .5-4.5 .5,4 .5,8 .5-8.5 .5,2 .5,1 .5-9 .5,1.5 .5-2.5 .5,9.5 .5-3.5 .5-4.5 .5,0 .5,10 .5,.5 .5-2 .5-2 .5,2.5 .5-2.5 .5,1.5 .5-3.5 .5-3 .5,1.5 .5,5 .5,6.5 .5-12 .5-1 .5,8.5 .5,.5 .5-7 .5,.5 .5,0 .5,4.5 .5,7.5 .5-12.5 .5,5 .5-4 .5,3 .5,1.5 .5-.5 .5-6.5 .5,.5 .5,9 .5-3 .5-.5 .5,2 .5-6.5 .5,9.5 .5-9.5 .5-1.5 .5,.5 .5,4 .5,10 .5-9 .5,1 .5,6 .5-9 .5-5 .5,3.5 .5,1.5 .5-6 .5,6.5 .5,2 .5,8.5 .5-5.5 .5-3 .5-3 .5-1 .5-5 .5,7.5 .5-7.5 .5,7.5 .5,9 .5-10 .5,4 .5-6 .5-4 .5,9 .5-2 .5,3.5 .5-2 .5,2.5 .5-5 .5,4.5 .5,2.5 .5-7.5 .5,1 .5,7 .5-3 .5-3 .5-6.5 .5,6 .5,8.5 .5-9 .5,1 .5-3.5 .5,4 .5,.5 .5,1.5 .5-4.5 .5-2.5 .5,15 .5-8.5 .5-5 .5,3.5 .5,3 .5,3 .5-4 .5-3 .5,4 .5-9 .5,2.5 .5,10.5 .5-5 .5-1.5 .5-2.5 .5-2.5 .5,6.5 .5-1 .5,8.5 .5-12.5 .5,4 .5-1.5 .5-2.5 .5,13 .5-2.5 .5-5.5 .5-7.5 .5,8 .5,1 .5-5 .5-5 .5,16.5 .5-15 .5,11.5 .5-8.5 .5,1.5 .5,6.5 .5-10 .5,4 .5,1 .5,6 .5-1 .5-4 .5-6.5 .5,11.5 .5-7.5 .5,3.5 .5-9.5 .5,7.5 .5,3 .5-4 .5,4.5 .5,3.5 .5,1.5 .5-10.5 .5-4.5 .5-1 .5,7 .5-6.5 .5,10 .5-10.5 .5,13.5 .5-5 .5-7.5 .5,8.5 .5,1.5 .5,0 .5-2.5 .5,3 .5-.5 .5-4 .5,2 .5-6.5 .5,9.5 .5-9.5 .5,5 .5-4.5 .5,10 .5-3.5 .5-6 .5,6.5 .5-2.5 .5,4 .5-2.5 .5-.5 .5-1 .5-6.5 .5,10 .5,1 .5-8 .5,7 .5,3 .5-1 .5,2 .5-2 .5-6 .5,11.5 .5-9 .5-3 .5,9.5 .5-10 .5,7.5 .5-8 .5,9.5 .5,.5 .5-8 .5,5 .5,.5 .5-3.5 .5,2.5 .5-2.5 .5-3 .5-1.5 .5,6 .5,1.5 .5,1.5 .5-1.5 .5,1 .5-5 .5,10 .5-12 .5,7.5 .5-4.5 .5-.5 .5,10 .5-6 .5-8 .5,7 .5-3.5 .5,10.5 .5-12 .5,4 .5-3 .5,0 .5,6 .5,2 .5,.5 .5-6.5 .5-2 .5,5.5 .5-4.5 .5,9 .5-13.5 .5,8.5 .5-8 .5,1 .5-2.5 .5,1 .5,8.5 .5-5.5 .5-2 .5-.5 .5,1.5 .5,2 .5,6 .5-4 .5,0 .5-.5 .5,4 .5-7.5 .5,5.5 .5-6.5 .5,0 .5,8 .5-2.5 .5-1.5 .5-3.5 .5,6.5 .5,7 .5-6 .5,0 .5-3 .5,5.5 .5-7 .5,10.5 .5-7.5 .5-1 .5,5.5 .5-11 .5,2 .5,0 .5,2.5 .5,9 .5-12.5 .5,12.5 .5-3.5 .5,2.5 .5-6 .5-8.5 .5,1.5 .5,12 .5-8 .5,3.5 .5-.5 .5,5.5 .5-1 .5-4.5 .5-1 .5,4 .5-9.5 .5,1.5 .5-3 .5,2 .5-3 .5,11 .5-5.5 .5,9.5 .5-10 .5,2.5 .5-4 .5,5.5 .5-1 .5-4.5 .5,2.5 .5-5.5 .5,.5 .5-3 .5,8 .5-9 .5-1.5 .5,8.5 .5-6 .5-6.5 .5,0 .5,1.5 .5-3.5 .5,4 .5-6 .5,0 .5,6.5 .5-.5 .5-2 .5-.5 .5,1 .5-1 .5,8 .5-5 .5,2 .5,7 .5-1.5 .5-4 .5-4.5 .5,4 .5-4 .5,15 .5-7.5 .5,4.5 .5-1.5 .5-3.5 .5,5.5 .5,.5 .5-1 .5,.5 .5,2 .5-5.5 .5,4 .5-1.5 .5-1 .5,4 .5-8.5 .5,2 .5,5.5 .5,8 .5-4 .5-6 .5,10 .5-6 .5-3.5 .5,2.5 .5,7.5 .5-3 .5-7 .5-1.5 .5,7.5 .5-8 .5,3.5 .5,5.5 .5-8 .5,1 .5,4.5 .5-2 .5,7 .5-5.5 .5,2.5 .5,.5 .5-5.5 .5,6 .5,2.5 .5-7 .5-1.5 .5,1.5 .5,7.5 .5-6.5 .5-2 .5-3.5 .5,5.5 .5-6 .5,10.5 .5-8 .5-2 .5,10 .5-2.5 .5,.5 .5-6.5 .5,8 .5-2 .5-1 .5,3.5 .5,1 .5-5.5 .5,7.5 .5-4.5 .5-3 .5,3.5 .5-1.5 .5,5.5 .5-5.5 .5-2 .5,.5 .5,4 .5-11 .5,1.5 .5,4.5 .5,3.5 .5,.5 .5-4 .5-5.5 .5-1.5 .5,7.5 .5-1 .5,3 .5,3 .5-8 .5,10 .5-8 .5,1 .5,1.5 .5-8.5 .5,16.5 .5-10 .5,6.5 .5-8 .5-4 .5,2.5 .5-.5 .5-3 .5,0 .5,11.5 .5-6.5 .5,3.5 .5,5 .5-7.5 .5,2 .5,5 .5-3 .5-1 .5-5 .5,0 .5,7.5 .5-4.5 .5,5.5 .5-1 .5-1 .5,1 .5-2 .5,4.5 .5-13.5 .5,5 .5,4.5 .5,6 .5-15 .5,5.5 .5,4 .5,4 .5-8 .5-6 .5,10 .5,2 .5-1.5 .5,0 .5,.5 .5-6 .5,6 .5,1 .5-3.5 .5-4 .5,1.5 .5,5.5 .5-6 .5,8.5 .5-4.5 .5-2 .5,5 .5-4 .5,8.5 .5-2 .5-9.5 .5,1.5 .5-6.5 .5,12 .5-2 .5-1 .5-7 .5,13 .5-1 .5-7.5 .5-1 .5,.5 .5,6 .5-2 .5-2 .5-1 .5-5 .5,3.5 .5-5 .5,12.5 .5-5 .5,.5 .5-2 .5-2.5 .5-3.5 .5,4 .5,1.5 .5,.5 .5,5.5 .5,.5 .5-8.5 .5,.5 .5,8.5 .5-12.5 .5,6.5 .5,5 .5-3 .5-2.5 .5,5 .5-5.5 .5-1 .5,4.5 .5-1.5 .5,3.5 .5,2.5 .5,1 .5-14 .5,9.5 .5,1 .5,1 .5-5 .5,0 .5,3 .5-5 .5-4 .5,10.5 .5,0 .5-8.5 .5,10.5 .5-9 .5,6 .5-7.5 .5,5.5 .5-3 .5,1 .5,3.5 .5,1.5 .5-7 .5,11 .5-10.5 .5-3.5 .5,5.5 .5,10 .5-10.5 .5-4 .5,3 .5,4.5 .5,1 .5-.5 .5,3 .5,4 .5-8 .5,1.5 .5-2 .5,1.5 .5,4 .5-4 .5-6 .5,8.5 .5,3 .5-6 .5,7.5 .5-3.5 .5-11.5 .5,4.5 .5-3 .5,3 .5-2 .5,5 .5,2 .5-11 .5,11.5 .5-4 .5,5 .5-5.5 .5-7 .5,7.5 .5,2.5 .5,0 .5-2 .5-4.5 .5,.5 .5,.5 .5-1 .5,5 .5,1.5 .5,2 .5-2 .5-2.5 .5,3.5 .5-2.5 .5-4.5 .5,8.5 .5-4.5 .5,0 .5,6 .5-3 .5,.5 .5,5.5 .5-3.5 .5-1 .5-3.5 .5-8.5 .5,0 .5,4 .5,12.5 .5-9 .5-1.5 .5,4.5 .5,2.5 .5-3 .5,.5 .5-1 .5-3 .5-1 .5-5.5 .5,8 .5,0 .5,1.5 .5,3 .5-10.5 .5,1 .5,8 .5-10 .5,8 .5-1 .5,2 .5-6 .5,6.5 .5-8 .5,9 .5-3.5 .5-2 .5,2.5 .5,5 .5-10 .5,3.5 .5-4.5 .5,9.5 .5-1 .5-7 .5,3 .5-4 .5,5 .5,4.5 .5-7 .5,2.5 .5-7.5 .5,15 .5-12.5 .5,5.5 .5-2 .5,6 .5-5.5 .5-.5 .5-4.5 .5,11.5 .5-13 .5,14.5 .5-1 .5,2.5 .5-12.5 .5,1 .5,4 .5,4.5 .5-9.5 .5,10 .5-10.5 .5,8 .5-2.5 .5,.5 .5-1 .5,3 .5-10.5 .5,12 .5-7 .5,2 .5-2.5 .5,6 .5-1 .5-3.5 .5-2.5 .5,12.5 .5-9 .5,3.5 .5-4 .5,6 .5,1.5 .5-1.5 .5,3 .5,0 .5-15.5 .5,5.5 .5-2.5 .5,8 .5-1.5 .5-6.5 .5,12.5 .5-6.5 .5,6.5 .5-10 .5,6.5 .5,2 .5-7 .5,3 .5-1.5 .5-1.5 .5,3 .5-9.5 .5,11 .5-2.5 .5-6 .5,8.5 .5-11 .5,3 .5,10 .5-2.5 .5-5.5 .5,9.5 .5-8 .5,1 .5,1 .5,2.5 .5-.5 .5-6.5 .5,2.5 .5,4 .5,2.5 .5-3.5 .5,2.5 .5,0 .5-8 .5,3.5 .5,8.5 .5-9 .5,4.5 .5-9 .5,13.5 .5-11 .5,6.5 .5-1 .5-9 .5,6 .5,6 .5-8 .5,7 .5-5.5 .5,7 .5,2.5 .5-12.5 .5,6 .5-4.5 .5-1 .5,4 .5,1 .5,1 .5,0 .5-10 .5,6 .5-6 .5,9.5 .5,2 .5-2 .5-3.5 .5,3.5 .5,2 .5-1 .5-5 .5,1 .5,7 .5-5.5 .5,1 .5-.5 .5,2 .5,0 .5-3.5 .5-.5 .5,.5 .5,2 .5,1.5 .5-8.5 .5,13 .5-11.5 .5,5 .5-5 .5,2.5 .5,2 .5,2.5 .5-1 .5,2.5 .5-5 .5,8 .5-13.5 .5,8 .5,0 .5-3 .5,1.5 .5-3.5 .5,5.5 .5-3.5 .5,5 .5-1.5 .5,0 .5-1 .5-4.5 .5,7 .5,.5" fill="none" stroke="#000" stroke-width="3" stroke-linejoin="miter" stroke-miterlimit="2"/>
<path d="M161.5,928.5l.5,3 .5-13.5 .5,27 .5-27 .5,7.5 .5,11 .5-13.5 .5,1.5 .5,1 .5,11.5 .5,10 .5-13.5 .5-9 .5,13 .5-8.5 .5,4.5 .5,9.5 .5-15 .5,6.5 .5-7 .5,6 .5,3 .5-9.5 .5,5.5 .5,1 .5-3 .5-4 .5-2 .5,10 .5-.5 .5,16 .5-27.5 .5,15 .5,2 .5,8 .5-6.5 .5-10.5 .5,7 .5,4 .5-6.5 .5,8.5 .5-19.5 .5,27.5 .5-2 .5-13.5 .5,7.5 .5-4.5 .5-6.5 .5,7 .5,7.5 .5-10.5 .5,0 .5,2.5 .5,4 .5,7 .5-14.5 .5,9 .5-2.5 .5-15.5 .5,11 .5,2.5 .5,1 .5,3 .5-16.5 .5,14.5 .5-5.5 .5-5.5 .5,15 .5,2 .5-10.5 .5,11.5 .5-9 .5,3.5 .5-9 .5,21 .5-26 .5,13.5 .5,6 .5-19 .5,12.5 .5,1 .5,7 .5,3.5 .5-12.5 .5-7.5 .5,21.5 .5-1.5 .5-12.5 .5,6.5 .5,0 .5,1.5 .5-2.5 .5,9.5 .5-24.5 .5,21.5 .5-5 .5-4.5 .5,11 .5-23 .5,23 .5-6 .5-11.5 .5,12.5 .5-6 .5,16.5 .5,0 .5-10.5 .5-8.5 .5,1 .5,2 .5-1.5 .5-3 .5,2.5 .5,2.5 .5-1.5 .5-1.5 .5-1.5 .5,21 .5-25 .5,3.5 .5,11.5 .5-6 .5,6 .5,3 .5,3.5 .5-4 .5-13 .5,16 .5-22 .5,13 .5-3 .5-4.5 .5,13 .5-6 .5,9.5 .5-19 .5,18 .5-3 .5-2.5 .5-12 .5,9 .5-9.5 .5-2 .5,27.5 .5-6 .5,6.5 .5-17 .5,8.5 .5,0 .5-.5 .5-4.5 .5-1.5 .5-12 .5,18.5 .5-1.5 .5,5.5 .5-10.5 .5,15.5 .5-17 .5-6 .5,17 .5-10.5 .5-6 .5,10.5 .5,5 .5-4 .5,2 .5,10 .5-7.5 .5,6 .5-25.5 .5,16.5 .5,3 .5-8.5 .5-3.5 .5,9.5 .5-5.5 .5-2 .5,13.5 .5,1.5 .5-7.5 .5-6 .5,7.5 .5,2.5 .5-1.5 .5-15.5 .5,8.5 .5,5.5 .5,2 .5,2.5 .5-1.5 .5-14.5 .5,3.5 .5-4 .5,23.5 .5-12.5 .5,3 .5,3.5 .5-10 .5-6.5 .5,5.5 .5,2.5 .5,12.5 .5-5 .5-14.5 .5,13.5 .5,.5 .5-13.5 .5,7 .5-13 .5,16.5 .5-5 .5-7.5 .5,5 .5,7 .5-6 .5,6.5 .5,2 .5-10.5 .5,4 .5,16 .5-12.5 .5-7.5 .5,7 .5-10.5 .5,19 .5-6 .5,5.5 .5-1 .5-4 .5,4.5 .5-6 .5-6.5 .5-2.5 .5,4.5 .5-10.5 .5,27.5 .5-26.5 .5,12.5 .5-9.5 .5-3.5 .5,13 .5-1.5 .5,1 .5,5.5 .5-9 .5,7.5 .5,1 .5-6 .5,.5 .5,6 .5-3.5 .5,1 .5-15 .5,14 .5,2.5 .5-3.5 .5,3.5 .5,11 .5-13 .5,4.5 .5-11.5 .5,0 .5,3 .5-4 .5,7.5 .5-7 .5,6 .5-9.5 .5-1.5 .5,7.5 .5-3 .5,3 .5,.5 .5,2 .5,10.5 .5,2.5 .5-5 .5-8 .5,14 .5-22.5 .5-2 .5,15.5 .5-2 .5-1 .5,1.5 .5-13 .5,4 .5,18 .5-1.5 .5-13.5 .5,19 .5-21.5 .5,4 .5,6.5 .5-11.5 .5,5.5 .5,2.5 .5-2 .5,9.5 .5-2 .5-12.5 .5,3 .5,6.5 .5-2 .5-5.5 .5,9 .5,3 .5-11 .5,10.5 .5-18 .5,0 .5,16 .5-10.5 .5-1 .5,5.5 .5-3.5 .5,7.5 .5-13.5 .5,8 .5,16.5 .5-13 .5-14.5 .5,18 .5-.5 .5,6 .5-9.5 .5-6 .5,15.5 .5-5.5 .5-19 .5,19 .5-7.5 .5,10 .5-11.5 .5,8.5 .5-4.5 .5,2.5 .5-4.5 .5-3.5 .5,3.5 .5,4 .5-2 .5,8.5 .5-9.5 .5,1.5 .5,8 .5-13.5 .5,3 .5-9 .5,4 .5,11 .5-10.5 .5,7.5 .5-20 .5-4.5 .5,11 .5-15 .5,20 .5-8.5 .5-25.5 .5-1 .5-15.5 .5-9.5 .5-24.5 .5-19 .5-26.5 .5-47.5 .5-43 .5-24.5 .5-35 .5-19.5 .5-9 .5,8.5 .5,21.5 .5,28.5 .5,34 .5,45 .5,42.5 .5,23.5 .5,19 .5,27 .5,12 .5,2 .5,21 .5,16 .5-9.5 .5-2.5 .5,14.5 .5,11.5 .5-5 .5,1.5 .5,6.5 .5-.5 .5-6 .5-6.5 .5,3 .5-1 .5,7 .5-12.5 .5,18.5 .5-10.5 .5-3.5 .5,9 .5-19.5 .5,7.5 .5,1 .5,11 .5-9.5 .5,14 .5-14 .5,7 .5-9 .5,13.5 .5-10.5 .5,5 .5-7.5 .5-5 .5,6 .5,9.5 .5-16.5 .5-4.5 .5,8 .5,7 .5-15.5 .5,1.5 .5,2.5 .5-8.5 .5-1.5 .5-1.5 .5-19.5 .5-15 .5-11.5 .5-26.5 .5-30 .5-24.5 .5-23.5 .5-8.5 .5-20.5 .5-5 .5,6 .5,10.5 .5,27.5 .5,16.5 .5,15.5 .5,34.5 .5,14.5 .5,23 .5,19 .5,22 .5-9 .5,8.5 .5,8.5 .5,2 .5-.5 .5-5 .5,2 .5,7 .5-6.5 .5,4 .5-3.5 .5,18 .5-19 .5,24.5 .5-17 .5-3.5 .5-.5 .5,14.5 .5,2 .5-13.5 .5,9 .5-3.5 .5-.5 .5,3 .5,4.5 .5-19 .5,.5 .5,14.5 .5-2 .5,6 .5-18 .5,5.5 .5,19 .5-21 .5,12 .5-8.5 .5,3 .5-7 .5,19 .5-22 .5,4.5 .5,2 .5,15.5 .5-6.5 .5,3 .5-5 .5,1.5 .5,2 .5,8 .5-9.5 .5-12.5 .5,19 .5-7.5 .5-9 .5,7 .5-6 .5,20.5 .5-15.5 .5-11 .5,15.5 .5-8 .5,15.5 .5-8.5 .5-14 .5,9.5 .5-4.5 .5,2.5 .5,1 .5-8.5 .5,14.5 .5-7.5 .5,0 .5,12 .5,7.5 .5-17.5 .5,17.5 .5-26 .5,17 .5-8.5 .5,4 .5-6.5 .5,2.5 .5,2.5 .5-.5 .5,5.5 .5,10.5 .5-18 .5,3.5 .5-11.5 .5-.5 .5,23.5 .5-20 .5,4.5 .5,5.5 .5,6.5 .5-4.5 .5,11 .5-14.5 .5-11.5 .5,14 .5,0 .5-7 .5,4 .5-2 .5,17 .5-17 .5-6 .5,12.5 .5-15 .5,16 .5,0 .5-9 .5,2 .5,0 .5,16.5 .5-9 .5-11.5 .5-.5 .5,8.5 .5,1 .5-5.5 .5,7.5 .5-3.5 .5,9.5 .5-4.5 .5-3.5 .5,1.5 .5-7.5 .5,13 .5-3.5 .5-5.5 .5,4 .5-5 .5,17.5 .5-16.5 .5,7 .5-1 .5-8 .5,5.5 .5-2 .5,4 .5,.5 .5,3.5 .5,.5 .5-8.5 .5-1 .5-.5 .5-1.5 .5-6.5 .5,17 .5-5 .5-.5 .5-10.5 .5,1 .5-2 .5,12.5 .5,5.5 .5,0 .5-5 .5-7 .5,7.5 .5,.5 .5,5 .5,.5 .5-7.5 .5,2 .5,5.5 .5-2 .5-4 .5-12 .5,8.5 .5,11 .5-5 .5,6 .5-9.5 .5,3 .5,5.5 .5-.5 .5-2 .5,5 .5,2 .5,.5 .5-22 .5,8.5 .5,1 .5,0 .5-9 .5,21 .5-16.5 .5,8 .5-13.5 .5,9.5 .5,2 .5-5 .5,12 .5,8 .5-19.5 .5,.5 .5,19 .5-8.5 .5-6.5 .5-7 .5,15 .5-4 .5,10 .5-17.5 .5,5 .5-1 .5,1 .5,9 .5-1.5 .5-10.5 .5,4 .5-1 .5,8.5 .5-8 .5-6.5 .5,5.5 .5,2.5 .5,7 .5,2.5 .5,.5 .5-7 .5-6 .5,8 .5-5.5 .5-3 .5,6.5 .5,1 .5,3.5 .5-13 .5-5.5 .5,16 .5-10.5 .5,14 .5-15 .5,4 .5-9 .5,26 .5-16 .5,2.5 .5-3 .5,2 .5,8 .5-5 .5-1 .5,8.5 .5-18 .5,18 .5,3.5 .5-21.5 .5,12 .5-11 .5-3.5 .5,6.5 .5,10 .5,1.5 .5-8 .5-3.5 .5,3 .5-2 .5,1 .5-8.5 .5,11.5 .5,.5 .5,14 .5-8 .5-6 .5,1.5 .5,2 .5-7.5 .5-7.5 .5,7.5 .5,3.5 .5,2.5 .5-6 .5-1.5 .5,4.5 .5,2.5 .5,3.5 .5-6 .5,5 .5-10.5 .5,13 .5-6.5 .5-9.5 .5,7.5 .5,2.5 .5-8.5 .5,12.5 .5-8 .5,5 .5-11 .5,8.5 .5,1.5 .5-10 .5-1 .5-5.5 .5,2 .5-8 .5-3.5 .5-12 .5-18 .5-10.5 .5-4 .5-5 .5-5 .5-10.5 .5-3 .5,0 .5,9.5 .5,7 .5,2 .5,25 .5,4 .5,6.5 .5-1.5 .5,26.5 .5-.5 .5,2 .5-1.5 .5,6.5 .5,13.5 .5-4 .5,10.5 .5-4.5 .5-4.5 .5,4.5 .5-5 .5-11 .5,6 .5,7 .5-8.5 .5,3 .5-5 .5,21 .5-21 .5,2 .5,1.5 .5,13 .5,1.5 .5-12 .5,8 .5-10 .5,6.5 .5,13 .5-6 .5-7 .5-9 .5,7 .5-7 .5-3 .5,17 .5,0 .5-3 .5,6 .5-19 .5,22 .5-17.5 .5,10.5 .5,.5 .5,4.5 .5,5.5 .5-10.5 .5-5 .5-5 .5,10 .5-8 .5-3.5 .5,8.5 .5,6.5 .5-7 .5-5 .5,8.5 .5-9.5 .5-2 .5,21.5 .5-8.5 .5,11 .5-23 .5,18 .5-8.5 .5,14 .5-14 .5-1.5 .5,6.5 .5-1.5 .5-4.5 .5,9.5 .5-1 .5,1.5 .5-3.5 .5-7.5 .5,0 .5,9.5 .5-11 .5,19 .5-11.5 .5-6 .5,13.5 .5-7.5 .5,9 .5-7 .5,11 .5-15 .5-10 .5,2.5 .5-1 .5,16 .5,9 .5-14 .5-8 .5,14.5 .5-1.5 .5-6 .5,6 .5-3 .5-8 .5,13 .5-8 .5-3 .5,5 .5,13 .5,2 .5-3 .5-13 .5-3.5 .5,9.5 .5-3 .5,2 .5-9 .5,2 .5-1 .5,13 .5,2.5 .5-12.5 .5,9 .5,1 .5-10 .5,5.5 .5,6 .5-13 .5,16.5 .5-10.5 .5,2 .5-2 .5-8.5 .5,13 .5-2.5 .5-2.5 .5,1.5 .5,4.5 .5-4 .5-2.5 .5,4.5 .5,5 .5-5 .5-6 .5,11.5 .5-7.5 .5,6 .5-5 .5-5.5 .5-2 .5,2.5 .5,5 .5-11 .5,15.5 .5,5 .5-9.5 .5-6 .5-4 .5,13.5 .5,1.5 .5-2.5 .5,4.5 .5-9.5 .5,3 .5,4 .5-3.5 .5,5 .5,.5 .5-5.5 .5-5 .5,2 .5,13 .5-16.5 .5,9 .5-7 .5,19.5 .5-17 .5,9 .5-11 .5,19.5 .5-22 .5,12 .5-11.5 .5,15 .5-14.5 .5,5.5 .5-8 .5,8.5 .5,3 .5,12.5 .5-25 .5,16.5 .5-3.5 .5-4.5 .5,3 .5,4.5 .5-3 .5,0 .5-5 .5,2.5 .5,6.5 .5-10 .5,3 .5,4 .5,2 .5,.5 .5-4 .5-11 .5,18 .5,1.5 .5,1.5 .5-6 .5,4 .5-8 .5-5.5 .5,6.5 .5-.5 .5,8.5 .5-1 .5-9 .5,.5 .5,2.5 .5,1 .5,9.5 .5-13 .5,12 .5-18.5 .5,5 .5,16.5 .5-9 .5-2 .5,3.5 .5-5.5 .5,2 .5,1.5 .5,0 .5,1 .5-6.5 .5,6.5 .5-7.5 .5,9 .5-5 .5,3 .5,0 .5-7 .5,1.5 .5,3 .5,4 .5,3.5 .5-7 .5-4 .5,6.5 .5-2 .5,5.5 .5,3 .5,4.5 .5-24 .5,8.5 .5,2.5 .5,6 .5-.5 .5-4.5 .5,5 .5-9 .5,1.5 .5,4.5 .5-9.5 .5,18.5 .5-16.5 .5-2 .5,10 .5-14.5 .5,9.5 .5,2 .5,10 .5,3.5 .5-11 .5-10 .5,10.5 .5,3 .5-11 .5,9 .5,8.5 .5-7.5 .5-9 .5,2 .5-7.5 .5,8 .5-.5 .5,13.5 .5-20.5 .5,0 .5,12.5 .5,2.5 .5-7.5 .5,5 .5,3.5 .5,.5 .5-2.5 .5,1 .5-14.5 .5,16.5 .5-4.5 .5-7 .5,3 .5,1 .5-2 .5,3 .5-1.5 .5-7.5 .5,22.5 .5-10 .5,10 .5-14.5 .5,13 .5-12 .5,11.5 .5-4 .5-1.5 .5-6.5 .5,3 .5,7.5 .5-21.5 .5,7.5 .5-4 .5,2.5 .5,10.5 .5,1.5 .5-7.5 .5,9.5 .5-13 .5,1 .5,5 .5,1.5 .5-3.5 .5-6.5 .5,11 .5,8 .5-14.5 .5,3 .5-8 .5,7.5 .5-6 .5,7 .5,9.5 .5-7 .5-8.5 .5,10.5 .5-17.5 .5,20 .5-6 .5-9.5 .5,5 .5-4 .5,18.5 .5-8.5 .5-11 .5,2 .5,6 .5-5 .5,5.5 .5,.5 .5-12.5 .5,14 .5,7.5 .5-9.5 .5,2 .5-8 .5,0 .5,5.5 .5-8 .5-5 .5,16.5 .5-10.5 .5,6 .5-.5 .5,1.5 .5,1.5 .5-.5 .5-6 .5,7.5 .5-8 .5,4.5 .5-6.5 .5,4.5 .5-6.5 .5,15 .5-7.5 .5-7 .5-7.5 .5,7 .5,13.5 .5-13.5 .5,11 .5-8.5 .5-1 .5-5 .5,9 .5,5 .5-2 .5-2 .5-11 .5,7.5 .5-9 .5,2 .5,8 .5-10.5 .5,10.5 .5-6 .5,11.5 .5-11.5 .5,4 .5,3 .5-3.5 .5,0 .5-17 .5,17.5 .5-18 .5,5.5 .5-8 .5,8.5 .5-4 .5,1.5 .5-7 .5,3.5 .5-7 .5,0 .5,2.5 .5-23.5 .5,3.5 .5-10.5 .5-21.5 .5-7.5 .5-4.5 .5-27.5 .5-29.5 .5-16.5 .5-29.5 .5-38 .5-20.5 .5-22 .5-18.5 .5-12.5 .5-5 .5,4.5 .5,10.5 .5,19 .5,22.5 .5,33 .5,23 .5,23 .5,34.5 .5,30.5 .5,6 .5,27 .5,2.5 .5,17 .5,14.5 .5,9 .5,11 .5-11.5 .5,7.5 .5,11.5 .5,1.5 .5-13 .5,7.5 .5,8 .5,2 .5-14 .5,9.5 .5-14 .5,19.5 .5,5.5 .5-19 .5,6.5 .5-8 .5,7 .5,7 .5,.5 .5-1 .5-12 .5,4 .5,18.5 .5-10.5 .5-4.5 .5,5 .5-5.5 .5,5 .5-6 .5,.5 .5-6 .5,23 .5-7 .5-.5 .5,1.5 .5-6.5 .5-6.5 .5,11 .5,1 .5-1 .5-6.5 .5-7.5 .5,15.5 .5-2.5 .5-3.5 .5-1.5 .5,.5 .5-3 .5-6.5 .5,8.5 .5-2.5 .5,4.5 .5-5 .5,3 .5-11 .5,9.5 .5,7.5 .5-15.5 .5,2 .5-3 .5-9.5 .5-8.5 .5-22 .5-8 .5,0 .5-29 .5-22.5 .5-15.5 .5-52.5 .5-12 .5-33 .5-41.5 .5-15.5 .5-13 .5-5.5 .5,5 .5,18 .5,20.5 .5,30.5 .5,28 .5,33 .5,30 .5,37 .5,13.5 .5,12.5 .5,24 .5,12.5 .5,20.5 .5-13.5 .5,20.5 .5,2 .5,12 .5-14.5 .5,1 .5,12.5 .5,4.5 .5-1.5 .5,2.5 .5-3.5 .5,8 .5-5.5 .5-3.5 .5,14 .5-15.5 .5-4.5 .5,9 .5,2 .5,1 .5-1 .5,5 .5-5 .5-3 .5,15.5 .5-10.5 .5,9 .5-6 .5,2.5 .5,7.5 .5-23 .5,20.5 .5-7.5 .5,6 .5-9 .5,3 .5-1 .5-6 .5,7 .5,13 .5-3.5 .5,1 .5-11 .5,0 .5-1.5 .5-9.5 .5,11 .5-3.5 .5,11 .5,.5 .5-3 .5-9 .5,2 .5,13 .5-7 .5,5 .5-10 .5,9.5 .5-8.5 .5-1 .5,5 .5-6.5 .5-3 .5,17 .5-4.5 .5-8 .5,3.5 .5,7.5 .5-11 .5-9 .5,25 .5-22.5 .5,7 .5-9 .5,0 .5,14.5 .5-11.5 .5,13.5 .5-5.5 .5,0 .5,5.5 .5,0 .5,5 .5-18.5 .5,4 .5,10 .5,.5 .5-9 .5-4.5 .5,8.5 .5-12.5 .5,1 .5,19 .5-16.5 .5,21 .5-11.5 .5,1 .5,10.5 .5-6 .5-8.5 .5-1.5 .5-.5 .5-8 .5,15 .5-2.5 .5-5 .5,11 .5-10.5 .5-8 .5,4.5 .5,7.5 .5,2.5 .5,10 .5-15 .5,6 .5,3.5 .5-3 .5-2 .5-10 .5,5.5 .5,15 .5-11.5 .5-1.5 .5-7.5 .5,9.5 .5,10 .5-16 .5-2.5 .5,6 .5-3 .5-1.5 .5,17 .5-7.5 .5-15 .5,9 .5,6.5 .5-8.5 .5,7 .5-13.5 .5,11 .5-4.5 .5,3.5 .5-5 .5-5 .5,5.5 .5-1 .5-1.5 .5-17 .5,2 .5-3.5 .5-7.5 .5-8.5 .5-6.5 .5-2 .5-9.5 .5-16.5 .5-17 .5-23.5 .5-3 .5-3.5 .5-2.5 .5,3.5 .5,3 .5,12 .5,8 .5,17.5 .5,1 .5,19.5 .5,7 .5,8 .5,4.5 .5,25 .5-9 .5,17 .5-3 .5,7 .5-1.5 .5,1 .5-7 .5,22.5 .5-5 .5,0 .5-18 .5,7.5 .5,0 .5,6.5 .5-5.5 .5,9 .5-3.5 .5,5 .5,2.5 .5-13 .5,1.5 .5-2 .5,12.5 .5-6.5 .5-2 .5-6 .5,11.5 .5-2.5 .5,1 .5-3 .5-7.5 .5,18.5 .5-8.5 .5,2 .5-7 .5,14.5 .5-14.5 .5,2.5 .5-3 .5-1.5 .5,13 .5-8.5 .5-4 .5,6 .5-.5 .5,2 .5-4 .5,5.5 .5-12.5 .5,5 .5,11 .5,1 .5-17.5 .5,14.5 .5-3 .5,8.5 .5-15.5 .5,10 .5,3.5 .5-15.5 .5,5 .5,11 .5-8 .5,8 .5-5 .5-10.5 .5,10 .5,2 .5-6.5 .5,11 .5-16 .5,8.5 .5-1.5 .5-3.5 .5-4.5 .5-1.5 .5,3 .5,7.5 .5-3 .5,3 .5-.5 .5-1.5 .5,4.5 .5,4.5 .5-16.5 .5,12 .5-13 .5,24.5 .5-19.5 .5,3.5 .5,9 .5-3.5 .5,3.5 .5,3.5 .5-12 .5,15 .5-17.5 .5,2.5 .5,8 .5-18 .5,7.5 .5,3 .5,7 .5-10.5 .5,10.5 .5-13 .5,14 .5-1.5 .5-9 .5,1.5 .5,.5 .5-1 .5-1.5 .5,13 .5-6.5 .5,.5 .5-14 .5,10.5 .5,7.5 .5-6.5 .5-4.5 .5,3 .5,6 .5-7 .5-10.5 .5,6.5 .5,6 .5-11.5 .5,10.5 .5,3 .5,10 .5-3 .5-7.5 .5-14.5 .5,14 .5-12.5 .5,3 .5,15 .5-13.5 .5,10 .5-3 .5,5 .5-8 .5,.5 .5,11.5 .5-5.5 .5-2.5 .5-2.5 .5,4 .5-4.5 .5,5 .5-5 .5-11 .5,.5 .5,7 .5,17 .5-3 .5-12 .5-2.5 .5,2 .5,2 .5,10 .5-12 .5-6.5 .5,7 .5-4.5 .5,18.5 .5-11 .5,1.5 .5-.5 .5-12 .5,14 .5,2 .5-6 .5,5.5 .5-5 .5,2 .5,6.5 .5-8.5 .5,6.5 .5-2.5 .5-.5 .5-3.5 .5-1.5 .5,5.5 .5,8 .5-5.5 .5,6 .5-8 .5-11 .5,19.5 .5-8.5 .5,8 .5-2 .5,.5 .5-2.5 .5-15.5 .5,18.5 .5-3.5 .5,3.5 .5,1 .5-4 .5,2.5 .5-14.5 .5,11 .5,4.5 .5-.5 .5-10.5 .5-6.5 .5,8.5 .5,5 .5,1.5 .5,9.5 .5-2.5 .5-13.5 .5,9.5 .5-7 .5,8.5 .5-10 .5,13.5 .5-12.5 .5,1.5 .5-4 .5,12.5 .5-5 .5,2.5 .5,2.5 .5-11 .5,17.5 .5-6 .5-4 .5-1.5 .5-1.5 .5-2 .5,10.5 .5-5 .5-1.5 .5-3.5 .5,5 .5,11.5 .5-9.5 .5-15.5 .5,0 .5,17.5 .5-14.5 .5,11.5 .5,2.5 .5,.5 .5,7.5 .5-15 .5,4.5 .5-6 .5-4.5 .5,3.5 .5,15.5 .5,0 .5-16 .5,11.5 .5-7 .5,7.5 .5-12.5 .5,8.5 .5-1 .5-7 .5,2 .5,.5 .5,3.5 .5,11.5 .5-.5 .5,0 .5-7 .5,3 .5-14 .5,7.5 .5,7.5 .5-5.5 .5-7 .5,8 .5-2 .5,0 .5-5 .5,8.5 .5-6 .5-4 .5,5 .5,4 .5,5.5 .5-1.5 .5-20 .5,19.5 .5-3.5 .5-.5 .5,6.5 .5,2 .5-7.5 .5-5 .5-3 .5,5 .5,1.5 .5-7.5 .5,16.5 .5-1 .5-5 .5,6 .5-5.5 .5-9 .5,8.5 .5,6 .5-14 .5-7 .5,15.5 .5-19 .5,5 .5,9.5 .5-5.5 .5,14.5 .5-12 .5,4.5 .5,3 .5-7.5 .5,3 .5-16.5 .5,24.5 .5-12 .5-2.5 .5-3 .5,5 .5-6 .5,5 .5-6.5 .5-6.5 .5,3 .5-2 .5,6.5 .5-5 .5-8 .5,1 .5-13 .5-3.5 .5-11 .5-6.5 .5-21.5 .5-8.5 .5-13.5 .5-21.5 .5-6 .5-11.5 .5-6 .5-3.5 .5,1 .5,3.5 .5,17.5 .5,9 .5,11 .5,22.5 .5,18.5 .5,19 .5,7 .5-3.5 .5,22 .5-9 .5,13 .5,6.5 .5-13 .5,13.5 .5,1.5 .5,13 .5-16 .5,10.5 .5-6 .5,2.5 .5-6.5 .5,13.5 .5,2 .5,0 .5-20 .5,0 .5,12 .5,8.5 .5-2 .5-7 .5-3 .5,16.5 .5-1.5 .5-15 .5,5 .5,0 .5,13 .5-7.5 .5,3 .5-14 .5,8.5 .5-2.5 .5,1.5 .5,2 .5-3.5 .5-6.5 .5,15.5 .5-14.5 .5,1 .5-7 .5,15 .5-1.5 .5-5.5 .5-1.5 .5,7.5 .5-3 .5-5 .5,10 .5,3.5 .5-4 .5,3.5 .5-4 .5,9 .5-4.5 .5-8.5 .5,10 .5-5 .5-6 .5-1 .5,2.5 .5-10.5 .5,7.5 .5,1.5 .5-7 .5,4.5 .5-.5 .5-4 .5,10 .5,2 .5,1 .5,5.5 .5-9 .5-2 .5,3.5 .5,8.5 .5,2.5 .5-15 .5,7 .5-4 .5,5 .5-16 .5,9.5 .5-9.5 .5,0 .5,15 .5-9 .5,15 .5-3 .5,3 .5-3 .5-8.5 .5,5.5 .5-13 .5,2.5 .5,11.5 .5,9 .5-11 .5-9 .5,7 .5,5 .5,2.5 .5-5.5 .5,10.5 .5-4.5 .5-4.5 .5-5 .5,14.5 .5-15 .5,1 .5-4.5 .5,8 .5-13.5 .5,15.5 .5-14.5 .5,15.5 .5-14.5 .5,1 .5,3.5 .5,6.5 .5-3 .5-5 .5,5.5 .5,5 .5-15.5 .5,20.5 .5-9 .5-11.5 .5,13 .5-2.5 .5-1.5 .5,.5 .5-.5 .5,8 .5-3.5 .5,2.5 .5-5.5 .5,10 .5-9.5 .5,5 .5-5 .5,0 .5,7 .5-.5 .5-5 .5,0 .5-3 .5,6.5 .5-2 .5,3 .5-4.5 .5-2 .5,5.5 .5-7 .5,5.5 .5,1 .5,2.5 .5-9.5 .5,0 .5,3 .5-6 .5,1.5 .5-4 .5-2.5 .5-5.5 .5,4.5 .5,1.5 .5-3.5 .5-4.5 .5,2 .5,4.5 .5-7.5 .5-1 .5,.5 .5-.5 .5,6.5 .5-1.5 .5-10 .5,8.5 .5,1 .5,1.5 .5,1 .5,7.5 .5-.5 .5,8 .5-9.5 .5,2.5 .5,6 .5-4 .5-1.5 .5,6 .5-8 .5-.5 .5,5 .5,7 .5,2 .5-11.5 .5,3.5 .5,5.5 .5,0 .5-7 .5,11 .5-7.5 .5,1.5 .5-3.5 .5,11 .5,0 .5-8.5 .5,9.5 .5-1 .5-2.5 .5-4.5 .5,6 .5-10 .5,1 .5,1.5 .5,5.5 .5,4.5 .5-20 .5,11 .5-4.5 .5,8 .5-12 .5,20 .5-15 .5,12.5 .5-17.5 .5,11 .5,7 .5-2.5 .5-16 .5-.5 .5-3 .5,12 .5-13 .5,20 .5-7.5 .5,3.5 .5-13.5 .5,.5 .5,0 .5-10 .5-1.5 .5,8.5 .5-4.5 .5,.5 .5-7.5 .5,9 .5,.5 .5-4.5 .5-.5 .5,1 .5,2.5 .5-.5 .5-6 .5-5 .5,24 .5-7 .5-4 .5-.5 .5-6 .5,19.5 .5-6 .5,3.5 .5-1.5 .5,1.5 .5,4.5 .5-11 .5,5 .5,8 .5,4.5 .5-4 .5,1 .5-8.5 .5,1.5 .5,6 .5-.5 .5-2 .5,1.5 .5-10 .5,0 .5,14.5 .5-4 .5-5 .5,7 .5,9.5 .5-15.5 .5,6.5 .5-2.5 .5-3.5 .5-1 .5,11.5 .5-10 .5-8 .5,22.5 .5-15 .5,8.5 .5-3 .5-3.5 .5,13 .5-17 .5,8 .5,1 .5-12.5 .5,4.5 .5,10.5 .5,6 .5-7 .5-16 .5,18.5 .5-17 .5,4.5 .5,5.5 .5,1.5 .5-2.5 .5-.5 .5,13 .5-20.5 .5,11 .5,5 .5-2.5 .5-14.5 .5,19 .5-.5 .5-13.5 .5,1 .5,12.5 .5-7 .5-7.5 .5,9 .5-8 .5-1.5 .5-4.5 .5,13.5 .5-7.5 .5-1 .5,3 .5,8 .5-5.5 .5,6 .5-6.5 .5,8 .5,3.5 .5-10.5 .5-.5 .5-10 .5,7 .5,14 .5-6 .5-15 .5,4 .5,2.5 .5,4 .5,0 .5-.5 .5,2.5 .5-2.5 .5-3.5 .5,5 .5-12.5 .5,5 .5,5 .5,5 .5-.5 .5,4.5 .5-1 .5-5.5 .5-.5 .5,2.5 .5-7 .5,.5 .5,4 .5-8 .5,8 .5,.5 .5,7 .5-16.5 .5,4 .5,11 .5-11.5 .5,5.5 .5-6 .5,12 .5-16 .5,5 .5-2 .5,12.5 .5-7 .5-11.5 .5,21 .5-19.5 .5,10.5 .5,4 .5-9 .5-1.5 .5-3.5 .5-2 .5,21 .5-5 .5,1 .5-18.5 .5,7 .5-5.5 .5,13 .5,6 .5-15 .5-1 .5,12.5 .5-16 .5,10.5 .5-8 .5,7.5 .5-8.5 .5-7.5 .5,9.5 .5-11.5 .5,11 .5,6.5 .5-4.5 .5-18 .5-3.5 .5-2.5 .5,2 .5-5.5 .5,1 .5,14.5 .5-11 .5-4.5 .5-7 .5,2.5 .5,0 .5-4 .5,.5 .5-2.5 .5-1 .5-1 .5,5.5 .5-9 .5,10 .5,2 .5,10 .5-12 .5-2 .5,20.5 .5-12 .5-3 .5,5 .5,9.5 .5,9.5 .5-3 .5-2 .5-2.5 .5,6 .5,5 .5-8 .5,7 .5,9.5 .5-11 .5,0 .5,.5 .5,3 .5-5 .5,9 .5-3 .5,1.5 .5-7 .5,7 .5,4.5 .5-11.5 .5-1.5 .5,.5 .5-4.5 .5,1 .5,7 .5-6.5 .5-5.5 .5-3 .5-5 .5,8 .5-13 .5,2.5 .5-3 .5-13.5 .5,4.5 .5,0 .5-16.5 .5-1.5 .5,4 .5-5.5 .5,.5 .5,0 .5-6.5 .5-1 .5-1 .5-1 .5,2 .5,2 .5,8.5 .5-4 .5,9.5 .5,4 .5-6.5 .5,1 .5,20.5 .5-7.5 .5,14 .5-2 .5,6.5 .5-11 .5,23 .5-18 .5,4 .5,11.5 .5,6.5 .5-1 .5,2.5 .5-10 .5,9.5 .5,6.5 .5-16 .5,3.5 .5,8 .5,7.5 .5-3.5 .5-9.5 .5,3.5 .5,1.5 .5-6.5 .5,19 .5-12.5 .5-.5 .5-6 .5,11 .5-1.5 .5,8 .5-2 .5-5.5 .5,4 .5,7 .5-14 .5,2 .5,6.5 .5-7.5 .5,6 .5-8.5 .5,10.5 .5-.5 .5-7 .5-4 .5,9 .5-2 .5-7.5 .5,13 .5-10 .5,12 .5-1 .5-6 .5,2 .5-12 .5,7.5 .5,2.5 .5-10.5 .5-1.5 .5,16 .5-7 .5,4.5 .5-3 .5-16 .5,3 .5,4.5 .5,0 .5,0 .5-5.5 .5,2.5 .5-6 .5,11.5 .5-13 .5,1.5 .5,7 .5-8.5 .5,3.5 .5-6 .5,4.5 .5,2 .5-10.5 .5-.5 .5,3 .5,11 .5-1 .5,2 .5,4.5 .5-9.5 .5-1 .5,4.5 .5,3 .5,5.5 .5-4.5 .5,3.5 .5-5 .5-4.5 .5,19 .5-8 .5-1.5 .5,3.5 .5,9.5 .5-11 .5,.5 .5-1 .5,2.5 .5-7 .5,17 .5-6 .5-4.5 .5,11 .5-7.5 .5,10 .5-8.5 .5,1 .5,2 .5,2 .5-6.5 .5,.5 .5,4.5 .5-10.5 .5,0 .5,9.5 .5,1 .5,5.5 .5-6.5 .5,6.5 .5,1.5 .5-6.5 .5-4 .5-1.5 .5,4 .5-6.5 .5,9 .5,3 .5-7.5 .5,8.5 .5-9.5 .5,4.5 .5,1 .5-10.5 .5,8 .5,6.5 .5,1 .5,.5 .5-10 .5,4.5 .5-9 .5,12 .5-3.5 .5,4.5 .5-11.5 .5,14 .5-7 .5-7 .5,11 .5,5 .5-7.5 .5,0 .5-10 .5,7.5 .5,6 .5-3.5 .5-2.5 .5-2.5 .5,13 .5-12.5 .5-5.5 .5,9.5 .5-2.5 .5-.5 .5-2 .5-.5 .5-1.5 .5,11 .5-10.5 .5,.5 .5,6 .5,2.5 .5-2 .5-3.5 .5-1.5 .5,3.5 .5-3 .5,1.5 .5,6 .5-5.5 .5,5 .5-7.5 .5,1 .5,2 .5,1.5 .5-7.5 .5,.5 .5,14.5 .5-8 .5-4.5 .5-6 .5,5 .5,8.5 .5,1.5 .5-13.5 .5,6 .5,3 .5,0 .5-3.5 .5-1.5 .5,1.5 .5-6 .5,3.5 .5,1 .5-6.5 .5,7 .5-3.5 .5-9.5 .5-2 .5,1.5 .5-2 .5-2 .5-4 .5-4.5 .5,7 .5-2.5 .5-9 .5-2.5 .5-2 .5-1 .5,.5 .5,3 .5-7.5 .5,5.5 .5,2.5 .5-2.5 .5,9 .5,1.5 .5,1 .5,2 .5,10.5 .5-5 .5,9 .5-5 .5,6.5 .5-6.5 .5-.5 .5,12 .5-1.5 .5,10.5 .5-5.5 .5,0 .5-.5 .5-3.5 .5,6 .5-4.5 .5,5 .5-5.5 .5,9.5 .5-6 .5-1 .5,3.5 .5-4.5 .5-7 .5,8.5 .5,5.5 .5-8 .5,8 .5,0 .5-1 .5-12 .5,18 .5-1.5 .5-6.5 .5-5 .5-1 .5-3 .5,6.5 .5,7.5 .5-12 .5,5.5 .5,5 .5,1.5 .5-4 .5-5 .5,13 .5-6 .5,0 .5,2 .5-8.5 .5-2.5 .5,.5 .5,13.5 .5-5.5 .5-9.5 .5,1 .5,6.5 .5-7 .5,5.5 .5,2.5 .5,0 .5,4 .5,3.5 .5-8.5 .5,1 .5,7 .5-6 .5-1 .5,3.5 .5-3.5 .5-1.5 .5,6 .5-7.5 .5,1 .5,2 .5,4 .5-13 .5,15 .5-2 .5-10.5 .5,10.5 .5-8 .5,9.5 .5-6.5 .5,2 .5-8.5 .5,6.5 .5-2 .5,5.5 .5-6.5 .5,6 .5,6.5 .5-9.5 .5,6 .5-8 .5,6.5 .5-10 .5,12.5 .5-9 .5-2 .5,.5 .5,1 .5,6 .5-2 .5,3.5 .5-1.5 .5-6 .5,1.5 .5,7 .5,2.5 .5-2 .5-1 .5-9.5 .5-5 .5,16 .5-7 .5-4.5 .5,4.5 .5,4.5 .5-5 .5-3.5 .5,3.5 .5,5.5 .5-.5 .5-13.5 .5,13 .5-3.5 .5,6 .5-15.5 .5,8.5 .5-2 .5,1.5 .5-4 .5,3.5 .5-3.5 .5,8.5 .5,6 .5-8.5 .5-2.5 .5,11.5 .5-9.5 .5-1 .5,6 .5-10 .5,4 .5-6.5 .5,10.5 .5-7 .5,0 .5,1 .5,8 .5-7 .5,1 .5,4.5 .5,4 .5-16.5 .5,14 .5,.5 .5,.5 .5-3 .5-7 .5,6.5 .5-1 .5,0 .5-2.5 .5-.5 .5-7.5 .5,11 .5,3 .5,1.5 .5,2.5 .5-2 .5-8 .5,5 .5-6 .5,9 .5-8.5 .5,10.5 .5-14.5 .5,8 .5-.5 .5-4.5 .5,0 .5,0 .5,9.5 .5-9 .5-3 .5,.5 .5,9.5 .5-7 .5,11.5 .5,0 .5-6 .5-4.5 .5,8.5 .5-10 .5,9.5 .5-3 .5-2.5 .5-4 .5,5 .5-2 .5,1.5 .5-2 .5,9 .5-16.5 .5,1 .5,10 .5-2.5 .5-8 .5,10 .5-2.5 .5-9.5 .5,18 .5-10.5 .5-1 .5-.5 .5-5.5 .5,4 .5,9 .5-8.5 .5,4.5 .5-10 .5,11 .5-3.5 .5,2 .5-1 .5-.5 .5-.5 .5,8 .5,0 .5-7.5 .5,3.5 .5-6.5 .5-.5 .5,2.5 .5,8 .5-15 .5,4.5 .5,6.5 .5,.5 .5-3 .5-4.5 .5,6.5 .5,2.5 .5,1.5 .5-4 .5-3.5 .5,4 .5,3 .5-5.5 .5,0 .5-7 .5,13.5 .5-6.5 .5-9.5 .5,11.5 .5,5.5 .5-17 .5,17.5 .5-9 .5,4 .5-10 .5,8 .5-2.5 .5,2.5 .5-9 .5,1.5 .5-3.5 .5,17.5 .5-6 .5-5 .5,1 .5-5.5 .5,3 .5,3.5 .5-10.5 .5-.5 .5,1.5 .5,2 .5,11 .5-7 .5-2 .5,6 .5-2.5 .5-2 .5-1 .5-.5 .5-11.5 .5,14.5 .5-3.5 .5,.5 .5-1.5 .5-6 .5,.5 .5-10 .5,9 .5-3.5 .5-7.5 .5-6 .5,.5 .5-14 .5,3.5 .5,8 .5-13.5 .5-5.5 .5,0 .5-7 .5-4 .5,5 .5-4 .5,1 .5,0 .5,1 .5,3 .5,0 .5,13 .5-5 .5,12.5 .5-7 .5,4 .5,2 .5-4 .5,3 .5,21.5 .5-4.5 .5-1.5 .5,13.5 .5-1.5 .5,3.5 .5-6.5 .5,1 .5,9 .5-11 .5-2.5 .5,13 .5-1 .5-.5 .5-2 .5,7.5 .5-10.5 .5,3 .5,5.5 .5-4 .5,3.5 .5-6.5 .5,3 .5,8.5 .5-6.5 .5,10 .5,0 .5-12 .5,1 .5,6.5 .5-.5 .5,.5 .5,2 .5-8.5 .5,14 .5-10 .5-3 .5,0 .5,13 .5,1 .5-5 .5-.5 .5-3.5 .5-5.5 .5,5 .5-8.5 .5,8 .5,10.5 .5-13.5 .5,14 .5-11.5 .5-5 .5,10 .5-1.5 .5,4.5 .5-3 .5-11 .5,7 .5,4 .5-4.5 .5,10.5 .5,.5 .5-12 .5,3 .5-3 .5,9.5 .5,0 .5-15 .5,3 .5,11 .5-13 .5,9.5 .5,1 .5-5.5 .5,12.5 .5-4 .5-7 .5,7 .5-7.5 .5,6 .5,1.5 .5-5 .5-9 .5,0 .5,11.5 .5-1 .5,1 .5-3.5 .5-8 .5,1.5 .5,7 .5,8 .5-11 .5,13 .5-18.5 .5,0 .5,4.5 .5,7.5 .5-10 .5,.5 .5-2.5 .5,8.5 .5,3 .5,4 .5-13 .5,6 .5-5 .5,14.5 .5-13.5 .5,9.5 .5-3.5 .5-10.5 .5,11.5 .5,2 .5-12 .5,11.5 .5-6 .5,7 .5-2 .5-7.5 .5,6 .5-2 .5,1.5 .5-5.5 .5,10 .5-5.5 .5,1 .5-9 .5,8.5 .5-2.5 .5-7 .5,9 .5-1 .5,4 .5-2 .5,4.5 .5-12 .5,12.5 .5-.5 .5-4.5 .5-2.5 .5-8.5 .5,4.5 .5-9 .5,5.5 .5,2 .5,2 .5,5.5 .5-19 .5-.5 .5,5 .5,.5 .5-6 .5,6.5 .5-.5 .5,3.5 .5-7.5 .5,3 .5,8 .5-11 .5,9 .5-4 .5-13 .5,4.5 .5-2.5 .5,11.5 .5-6 .5,.5 .5,1.5 .5,9 .5-8.5 .5-1 .5,7 .5-5 .5,3.5 .5,4 .5,1 .5-.5 .5-9 .5-1 .5,9.5 .5,10 .5-10 .5,1.5 .5,4.5 .5-3.5 .5,9.5 .5-1.5 .5-14.5 .5,10.5 .5,2 .5-3.5 .5,5.5 .5-7.5 .5,5 .5-2.5 .5,.5 .5,9 .5-4 .5,0 .5,2 .5,5 .5-11.5 .5,9 .5,3 .5-8 .5,2.5 .5,4.5 .5-8.5 .5,4.5 .5-6.5 .5,10.5 .5-1 .5-9 .5-1 .5,4.5 .5-3.5 .5-3 .5,2 .5,5 .5-4 .5-3.5 .5,0 .5,13 .5-9 .5,3.5 .5-2.5 .5,2 .5-2 .5,9.5 .5-17 .5,15 .5-10 .5,7.5 .5-3 .5,8.5 .5-6.5 .5-1.5 .5-2 .5-2.5 .5-1 .5,3 .5-4.5 .5,3 .5-1 .5-.5 .5,1.5 .5,2.5 .5-3 .5,5.5 .5,.5 .5-10 .5,7.5 .5-4 .5,0 .5,6 .5-3 .5,0 .5,3 .5,3 .5,1.5 .5-11 .5,7 .5-7.5 .5-3 .5,0 .5,7.5 .5,5.5 .5-1.5 .5,1 .5-.5 .5-12 .5,5.5 .5-1.5 .5,4.5 .5,6 .5,.5 .5,3 .5-9.5 .5-3 .5,6.5 .5-2 .5,7.5 .5-13 .5,14 .5-1 .5-3.5 .5-9 .5,1.5 .5-5 .5,13.5 .5-1.5 .5-8.5 .5,11.5 .5-4.5 .5-1.5 .5-1 .5,5.5 .5-7.5 .5-.5 .5,9 .5-15 .5,6 .5,2.5 .5,9 .5-5 .5-8 .5,12 .5-13.5 .5,5 .5-6 .5,10.5 .5-3 .5-9 .5,4 .5,3 .5,7.5 .5,0 .5-6 .5,7 .5-12 .5,0 .5,2.5 .5-2 .5,1.5 .5,.5 .5,7 .5-10 .5,5.5 .5,2.5 .5,4 .5-2 .5-1 .5-.5 .5-3.5 .5-1 .5-.5 .5,10.5 .5-15 .5,7.5 .5-3 .5,3 .5,7.5 .5-13.5 .5-4.5 .5,1.5 .5,8 .5-5.5 .5,4 .5-4 .5,12 .5-14 .5,5.5 .5,10.5 .5-8 .5-4 .5,11 .5-14.5 .5,10.5 .5-8 .5,4 .5,1 .5-5 .5-3 .5,4 .5,11.5 .5-16 .5,8.5 .5-1.5 .5,7 .5-15.5 .5,4.5 .5-1 .5-5 .5,2.5 .5,8.5 .5-1 .5-3 .5-7 .5,9.5 .5,2.5 .5-6.5 .5,5 .5-5.5 .5,3 .5-4 .5-3 .5,1.5 .5,6.5 .5-7 .5,13 .5-9.5 .5-4 .5,1.5 .5,1 .5-5.5 .5,7.5 .5-1 .5-3 .5,11 .5-8.5 .5,2 .5-2.5 .5,6.5 .5-9.5 .5,4 .5,7 .5-1 .5,6.5 .5-10.5 .5,2 .5,0 .5-1 .5,.5 .5-3 .5,10 .5-7.5 .5,11.5 .5-7 .5-6.5 .5,3.5 .5,1.5 .5-.5 .5-4 .5,12 .5-7 .5,1 .5-5.5 .5,2.5 .5,6 .5,1 .5-4.5 .5,4 .5-1 .5-11.5 .5,8.5 .5-3.5 .5,8.5 .5-1 .5-12 .5,13 .5-5.5 .5,4 .5,4 .5,0 .5-3 .5,5.5 .5-7 .5-.5 .5-10.5 .5,.5 .5,5 .5,6 .5-.5 .5-5.5 .5,1.5 .5,3.5 .5-1 .5,7 .5,.5 .5-8.5 .5,3 .5,3 .5-7 .5,10.5 .5,.5 .5-7.5 .5-5 .5,8.5 .5-6.5 .5,0 .5,3 .5,5 .5-6.5 .5,9 .5-17 .5,.5 .5,2 .5,3.5 .5,6 .5-8 .5,6.5 .5-6.5 .5-4.5" fill="none" stroke="#f00" stroke-width="3" stroke-linejoin="miter" stroke-miterlimit="2"/>
<path d="M161.5,674l.5-29 .5,1 .5-7 .5,25 .5-34.5 .5,46 .5-32.5 .5,14 .5-7 .5,22 .5-42.5 .5,19.5 .5-1 .5,20 .5-29 .5,12 .5-9.5 .5,12 .5,7 .5-21.5 .5,29 .5-3 .5-5.5 .5,5.5 .5-20.5 .5,7 .5-10.5 .5,9 .5,10 .5-15.5 .5,3.5 .5-3.5 .5-2 .5,2 .5,8.5 .5-14 .5,17.5 .5,18 .5-11.5 .5-12 .5-9 .5,1.5 .5,31.5 .5-21 .5-9 .5,11 .5,20.5 .5-21.5 .5,6.5 .5-4 .5-8.5 .5-10 .5,10 .5,2 .5,10 .5,3.5 .5,1 .5-8.5 .5,8 .5-21 .5,25.5 .5-9.5 .5-10.5 .5,10.5 .5-7.5 .5,15.5 .5,5 .5,3.5 .5-41 .5-.5 .5,12 .5,8.5 .5,9.5 .5-7.5 .5-27 .5,19 .5,14.5 .5-7.5 .5,7 .5-13 .5,.5 .5,5 .5,3 .5-3 .5-1 .5-10 .5,13 .5-3 .5,12.5 .5,1 .5-13 .5-7 .5-3.5 .5,13.5 .5-4.5 .5-5.5 .5,5 .5-8.5 .5,16.5 .5-14.5 .5,21 .5-10.5 .5,2.5 .5-21.5 .5,16 .5,7 .5-21.5 .5,9 .5,3.5 .5-18 .5,21.5 .5,6.5 .5-21.5 .5,15 .5-21 .5,16 .5-20 .5,34.5 .5-9 .5-5.5 .5-9.5 .5,26 .5,6.5 .5-46 .5,38.5 .5,5 .5-16.5 .5-19.5 .5,26 .5-13.5 .5-5 .5-8 .5,22 .5,3 .5-18 .5,14.5 .5-21 .5,24.5 .5-9.5 .5-3 .5,1 .5,12 .5-1.5 .5-3 .5-5 .5-1 .5,6.5 .5-5 .5,5.5 .5-12.5 .5-19 .5,35.5 .5,9.5 .5-17 .5-7 .5-1 .5,0 .5,1.5 .5-14.5 .5,7 .5-6 .5,15 .5-7 .5,9.5 .5-9 .5,14.5 .5-10.5 .5,19.5 .5-45.5 .5,14 .5,19 .5,11 .5-26 .5,3.5 .5-4 .5,19.5 .5-20.5 .5,12 .5-13 .5-12 .5,20 .5,2 .5,10 .5-17 .5-5.5 .5,2 .5-18.5 .5-10.5 .5,10.5 .5,23.5 .5,4.5 .5,19 .5-6 .5-4.5 .5-27.5 .5,28.5 .5-1.5 .5,5.5 .5,3.5 .5-16.5 .5,15.5 .5-16 .5,30 .5-37.5 .5-4.5 .5,2.5 .5,10 .5-2 .5,36 .5-25 .5-11.5 .5,30 .5-19.5 .5-7.5 .5,26 .5-2.5 .5-12 .5,22.5 .5-14.5 .5,18 .5-13 .5,13 .5-16.5 .5-15.5 .5,36 .5-27.5 .5,4.5 .5-5.5 .5,6 .5,6 .5-.5 .5,6 .5,13.5 .5-22.5 .5-12.5 .5,1 .5,6 .5-11.5 .5,29.5 .5-15 .5,2.5 .5,3.5 .5-16 .5,6.5 .5,18 .5,0 .5-12.5 .5,26.5 .5-36 .5,11.5 .5,1.5 .5-18 .5,42 .5-16.5 .5-16 .5,33 .5-13.5 .5-1.5 .5-12 .5,8.5 .5-18.5 .5,27 .5-13.5 .5,6 .5,12.5 .5-10 .5,0 .5,0 .5-11 .5,18 .5,8 .5-8.5 .5,1.5 .5-19.5 .5,.5 .5-6.5 .5,30.5 .5-16.5 .5,18.5 .5-24 .5,4 .5,6 .5,9.5 .5-9.5 .5,2 .5-2 .5,2 .5-14 .5,13.5 .5-3 .5,2 .5,6 .5-12.5 .5,6.5 .5-2 .5,8 .5,4.5 .5-19 .5,17 .5,13.5 .5-35.5 .5,7 .5,0 .5,6.5 .5,21 .5-17 .5-7.5 .5,14.5 .5-13.5 .5,19 .5-8.5 .5,12 .5-22 .5,26.5 .5-10.5 .5-1.5 .5-7.5 .5-7 .5-1.5 .5,8 .5-6.5 .5,11.5 .5-11.5 .5,15.5 .5,3.5 .5-17.5 .5,20 .5-15 .5,15 .5-7.5 .5,7 .5-22 .5,9.5 .5,16.5 .5-22 .5-12.5 .5,0 .5,0 .5,0 .5,14.5 .5,18 .5-18 .5,7.5 .5-4.5 .5,1 .5-2 .5,0 .5,6.5 .5-17.5 .5,22.5 .5-1.5 .5-12 .5,9.5 .5-16 .5,1 .5,6 .5-4.5 .5-4.5 .5-4 .5-1.5 .5,12 .5-34 .5,13.5 .5-20.5 .5-11 .5-33.5 .5-66 .5-30 .5-64 .5-64.5 .5-51.5 .5-23.5 .5,10.5 .5,49.5 .5,56 .5,75.5 .5,33 .5,37.5 .5,60.5 .5,27 .5,8.5 .5-5.5 .5,18 .5,15.5 .5-5 .5,3 .5,1 .5-6 .5,5.5 .5-8 .5,33 .5-22 .5,10.5 .5-14.5 .5,18.5 .5-25.5 .5,27.5 .5-9 .5,18.5 .5-30.5 .5,14 .5,3 .5,9 .5-16.5 .5,5 .5-18.5 .5,9.5 .5,13 .5,6.5 .5-14 .5,20.5 .5-.5 .5-18.5 .5-17.5 .5,0 .5,9.5 .5,18.5 .5-9 .5-21.5 .5,14.5 .5,16.5 .5-21.5 .5-6.5 .5,21 .5-23.5 .5-13.5 .5-3.5 .5-19 .5-23.5 .5-7.5 .5-28 .5-32 .5-36.5 .5-18.5 .5-20 .5-3.5 .5,11 .5,21.5 .5,36 .5,19 .5,8.5 .5,30.5 .5,46.5 .5,2 .5,21 .5-1.5 .5,26 .5-8 .5,21.5 .5-16.5 .5,18 .5-2.5 .5-12.5 .5,18.5 .5-18 .5,1.5 .5,15.5 .5-12.5 .5,1 .5,2.5 .5-5.5 .5,20 .5-4 .5-6 .5,0 .5,5.5 .5,13 .5-8.5 .5-13 .5,12.5 .5-8.5 .5-.5 .5,19.5 .5-21 .5-.5 .5-12 .5,3.5 .5,18 .5-10.5 .5,11.5 .5-15.5 .5,3.5 .5,14 .5,7.5 .5-8 .5,5.5 .5,5 .5-6 .5-18.5 .5,8 .5,7 .5-10 .5,8.5 .5-19 .5,7 .5,13 .5-21.5 .5,6.5 .5,10 .5-15.5 .5,16.5 .5-8 .5,5 .5,.5 .5,4 .5-6.5 .5,6 .5-6.5 .5,11 .5,10.5 .5-13.5 .5-.5 .5-12 .5,17 .5-13 .5-.5 .5,12.5 .5-3 .5,8.5 .5,3 .5-18 .5,6 .5,15 .5-7 .5-2 .5,5.5 .5-17.5 .5,11.5 .5,7 .5,2 .5-22 .5,5 .5,6 .5-6 .5-1 .5,10 .5-9.5 .5-12.5 .5,19.5 .5-7 .5-3 .5-7 .5,23 .5-25 .5,1 .5,12.5 .5,14 .5,.5 .5-22 .5,9 .5-12 .5,23 .5-22 .5,12 .5,10.5 .5-11 .5,15 .5-20.5 .5,11 .5,4.5 .5-9 .5,14 .5-7.5 .5-19 .5,30.5 .5-10 .5-5 .5-13 .5,13.5 .5-5 .5,10 .5-2.5 .5,13 .5-14.5 .5,3.5 .5-1 .5-4.5 .5,0 .5,11 .5-2.5 .5-12 .5-4 .5,9 .5,11 .5-10 .5,15.5 .5-22 .5,8 .5-16.5 .5,10.5 .5,3 .5,7 .5,10.5 .5-14.5 .5,12.5 .5-6.5 .5,3 .5-12.5 .5,16 .5-21 .5,13.5 .5-12 .5,4 .5-8 .5,8 .5,7.5 .5-3 .5-11 .5,24 .5-9.5 .5,6 .5-1.5 .5-12.5 .5-9 .5,7.5 .5,18 .5-19 .5,16 .5-12 .5,8.5 .5-18 .5,25 .5-10 .5,8 .5-5.5 .5,5 .5-7.5 .5,7.5 .5-19 .5,4 .5,15 .5-6 .5-1.5 .5,.5 .5,6 .5-9 .5,9 .5-11.5 .5,4.5 .5,11.5 .5,1 .5-18 .5,16.5 .5-15.5 .5,15 .5-21 .5,6 .5,5 .5,3 .5,13 .5-4 .5,5.5 .5-2.5 .5-12 .5,0 .5,11 .5-8 .5-1.5 .5-9.5 .5,10 .5-13.5 .5,11 .5-4 .5,13.5 .5-9 .5,1 .5,14 .5-19.5 .5,11.5 .5-17 .5,15.5 .5,2.5 .5,4 .5-14 .5,9.5 .5,.5 .5-3 .5,1.5 .5,3 .5-.5 .5-11 .5-1.5 .5,24 .5,0 .5-25.5 .5,15 .5,1.5 .5,1 .5-5 .5-8.5 .5,6 .5-2.5 .5,5 .5-3 .5,1 .5,9 .5,2 .5-19.5 .5,6 .5-3 .5,16 .5-10 .5,12 .5-15.5 .5,4 .5-11 .5,21 .5-13 .5-9 .5,7 .5-9.5 .5,14 .5,1 .5,1.5 .5,9.5 .5-14.5 .5,8.5 .5-4 .5-4 .5-12.5 .5,21.5 .5-11.5 .5,4 .5-10.5 .5,12 .5-1.5 .5-.5 .5-1.5 .5,9 .5-1 .5-2 .5,8 .5-19 .5,1.5 .5-5.5 .5,11 .5-9.5 .5-9.5 .5,3.5 .5,8.5 .5,5.5 .5-22.5 .5,4.5 .5,0 .5-9 .5,4 .5-11 .5-5 .5-17 .5,8 .5-22.5 .5-.5 .5-22.5 .5-2.5 .5-12.5 .5-2.5 .5-.5 .5,2.5 .5,4.5 .5,18.5 .5-8.5 .5,10 .5,32 .5,2 .5-9.5 .5,26.5 .5,5.5 .5-9.5 .5,16.5 .5,7 .5,9.5 .5,4.5 .5-4.5 .5,9 .5-8 .5-4.5 .5,.5 .5,12 .5-17.5 .5,19.5 .5-13 .5,6 .5,7 .5,6 .5-23 .5,8 .5,6.5 .5-4.5 .5,11.5 .5-20.5 .5,17 .5,1 .5-3 .5,8.5 .5-18 .5,18.5 .5-14 .5,11.5 .5-8 .5,9 .5-.5 .5-17 .5,10.5 .5,.5 .5-1 .5-4 .5,20 .5-12 .5,10.5 .5-16 .5-4 .5,9.5 .5-5 .5,18 .5-11.5 .5,7 .5-10.5 .5-.5 .5,2.5 .5,3 .5,4 .5-7 .5-4 .5-3 .5,8 .5,5 .5-1 .5-3 .5-4.5 .5,6 .5,3.5 .5-4.5 .5,1.5 .5-2 .5,8.5 .5-10 .5,4.5 .5,2 .5,2.5 .5,6.5 .5-6.5 .5,0 .5-15.5 .5,16 .5,9 .5-19.5 .5-1.5 .5,6.5 .5,9.5 .5-3.5 .5-7.5 .5,3.5 .5,8.5 .5-2.5 .5,8.5 .5-5.5 .5-5 .5,2 .5-7 .5-4.5 .5,9 .5,2.5 .5-14 .5,7 .5,1 .5,5 .5-3.5 .5,5.5 .5-2.5 .5,7.5 .5-20.5 .5,25.5 .5-2 .5-10 .5,5 .5-.5 .5-9.5 .5,7 .5,4.5 .5-3 .5,5.5 .5-7 .5,0 .5-6 .5,3 .5-.5 .5,16.5 .5-10.5 .5-9 .5,10.5 .5-4.5 .5-11.5 .5,17 .5-15 .5,16 .5-11 .5-3.5 .5,14.5 .5-14.5 .5,8 .5,5 .5,3 .5,1 .5-5.5 .5-6 .5,20 .5-18 .5,18 .5-16.5 .5,12 .5-.5 .5-15.5 .5,10.5 .5,3 .5,0 .5-6.5 .5,3.5 .5-5 .5-5.5 .5,16 .5-11.5 .5,14.5 .5-5.5 .5-11 .5,5.5 .5-1 .5-4 .5,10 .5-7 .5,15.5 .5-5.5 .5-12.5 .5,6.5 .5-1.5 .5-10 .5,18.5 .5,.5 .5,0 .5-10 .5,11 .5-9 .5,8.5 .5,6.5 .5-12.5 .5-11 .5,8 .5,7 .5,4.5 .5-17 .5,7 .5,3 .5,1.5 .5,4 .5-13.5 .5,3.5 .5,11 .5-4.5 .5,.5 .5,5 .5-7.5 .5,3.5 .5-6.5 .5-7 .5,.5 .5,10 .5-2 .5-3 .5,7 .5-8.5 .5,7 .5-.5 .5-6 .5-7 .5,24 .5-8.5 .5-15 .5,10 .5,6 .5-4.5 .5,6 .5-11 .5,8.5 .5-1.5 .5-1 .5,0 .5,3 .5,5.5 .5-10.5 .5,1 .5,4 .5-2 .5,4 .5,2.5 .5,4 .5-10 .5-12 .5,12.5 .5,3 .5-3.5 .5,0 .5-11.5 .5,16.5 .5-5.5 .5-8.5 .5,4.5 .5,0 .5,11 .5-.5 .5,7 .5-6 .5-14.5 .5,0 .5,18 .5,3.5 .5-13 .5,6 .5-15 .5-2 .5,4.5 .5,6 .5-1 .5,2 .5-1.5 .5,8.5 .5,5.5 .5-10 .5,12.5 .5-17 .5,.5 .5,7 .5-5.5 .5,11 .5-13 .5,14.5 .5-8 .5,11.5 .5-16 .5,2 .5,2.5 .5-14 .5,17.5 .5-1 .5-2.5 .5-11.5 .5,0 .5,15 .5,4.5 .5,3 .5-17.5 .5-1 .5,5.5 .5-11 .5,9 .5,10 .5,5.5 .5-9 .5,9.5 .5-8.5 .5-1.5 .5-2.5 .5,2.5 .5-3 .5,1 .5-4 .5,6.5 .5-1.5 .5-10.5 .5,9 .5-4.5 .5-6.5 .5,16 .5,7.5 .5,2 .5-2 .5-17 .5,14.5 .5-.5 .5-20.5 .5,18.5 .5-1.5 .5-3.5 .5,1 .5-1.5 .5,11 .5-14.5 .5,1.5 .5,1.5 .5,2 .5-14.5 .5,22 .5-8 .5,2 .5-2.5 .5-3 .5-1 .5,3 .5,.5 .5,7 .5-6 .5-3.5 .5,13.5 .5-21.5 .5-.5 .5,12 .5-4 .5-11 .5,10 .5-3 .5,13 .5-12.5 .5,12 .5-4.5 .5-4.5 .5,1.5 .5,2.5 .5-15.5 .5,15 .5-5 .5,15 .5-17.5 .5,12.5 .5-20.5 .5,18 .5-3.5 .5-4 .5,1 .5-1 .5,4.5 .5-4 .5-11.5 .5,11 .5,14 .5-12.5 .5,1.5 .5-5 .5,4 .5,0 .5-3.5 .5,8 .5-12.5 .5,5.5 .5,4 .5-5.5 .5-7 .5,12.5 .5-11 .5,3.5 .5-2.5 .5,4.5 .5-2.5 .5-.5 .5,8 .5,7.5 .5-15 .5,6 .5-6.5 .5,3 .5,7 .5-8 .5-6 .5,0 .5,.5 .5,4 .5,6 .5-16 .5,2 .5,0 .5-6 .5,21 .5-10 .5,12.5 .5-23 .5,18 .5-14.5 .5,1.5 .5-5 .5-.5 .5-3.5 .5,10 .5-12 .5,6.5 .5,0 .5,3 .5-6 .5-1 .5-1.5 .5-7.5 .5-2.5 .5-15.5 .5-7 .5,8 .5-25.5 .5-21 .5-5 .5-34 .5-30.5 .5-36 .5-18.5 .5-49.5 .5-34 .5-29 .5-38 .5-30.5 .5-21.5 .5-10 .5,1.5 .5,11 .5,26.5 .5,39 .5,31.5 .5,25 .5,39 .5,35 .5,31 .5,32 .5,32 .5,16.5 .5,28.5 .5,10 .5,8.5 .5,19 .5,3.5 .5,5.5 .5,10 .5,0 .5-2 .5,9.5 .5-2.5 .5,11.5 .5-3.5 .5,1.5 .5,2 .5-8 .5,9.5 .5-8.5 .5-5.5 .5,2.5 .5,8 .5-14.5 .5,13 .5-6.5 .5,10.5 .5-10 .5,18 .5-7 .5-14 .5,21.5 .5-13.5 .5-3.5 .5-2 .5,11.5 .5,6.5 .5-14.5 .5-3 .5-.5 .5,18.5 .5,1 .5-14 .5,6.5 .5-4 .5-.5 .5,7.5 .5-4 .5-.5 .5-4.5 .5,7.5 .5-8 .5,2 .5,1 .5-10 .5,5.5 .5-.5 .5,2.5 .5-9.5 .5-1.5 .5,18.5 .5-5 .5-4 .5,3.5 .5-14 .5-8.5 .5-3 .5-25.5 .5-7 .5-2 .5-24 .5-31 .5-12 .5-26.5 .5-32.5 .5-36 .5-34.5 .5-20.5 .5-19 .5-10.5 .5,1.5 .5,13 .5,21.5 .5,15 .5,49 .5,36.5 .5,15.5 .5,21 .5,40 .5,14.5 .5,14.5 .5,30 .5-6 .5,24 .5-7 .5,24.5 .5-2.5 .5-2 .5,5.5 .5,5 .5,3 .5,1.5 .5-.5 .5-6.5 .5,9 .5-13 .5,17 .5,0 .5,4.5 .5-13.5 .5,6 .5,5.5 .5-3.5 .5-4.5 .5,5.5 .5-1 .5,6.5 .5-10.5 .5,7 .5,0 .5,3.5 .5-5.5 .5,2 .5-1 .5,1 .5,0 .5-2 .5,15.5 .5-18.5 .5-2 .5,3 .5,1 .5,5.5 .5,10 .5,2 .5-10 .5-14 .5,15.5 .5-11.5 .5,6 .5-4 .5,11 .5-7 .5,10 .5-2 .5-4.5 .5,2.5 .5,6 .5-9 .5,9.5 .5-6.5 .5,2 .5,4 .5,4 .5-5.5 .5-3 .5,4.5 .5-15.5 .5,22.5 .5-21 .5,16 .5-10 .5,7.5 .5-4.5 .5,3 .5-7.5 .5-7 .5,15 .5-7 .5,0 .5-1 .5,18 .5-17 .5,6.5 .5-10.5 .5,18.5 .5-14.5 .5-9 .5,25 .5-20.5 .5,17 .5-4 .5-1 .5-6.5 .5,3 .5,7 .5-10.5 .5,3.5 .5,4.5 .5-6 .5-3.5 .5,13 .5-8 .5-3.5 .5-4.5 .5-2 .5,13 .5,.5 .5-19.5 .5,8 .5,11 .5,6 .5-.5 .5-6 .5,3 .5-13.5 .5,9 .5-14.5 .5,5 .5,6 .5,10 .5-7.5 .5-3.5 .5-3 .5-8.5 .5,13.5 .5-7 .5,4 .5-8 .5,7 .5-12 .5,14 .5,5.5 .5-3 .5,6 .5-10.5 .5,1 .5-.5 .5-10 .5,18.5 .5-6.5 .5-9 .5-5.5 .5,9.5 .5,.5 .5-6 .5-1.5 .5-5 .5-1.5 .5,6 .5-3.5 .5-25 .5,5.5 .5-16.5 .5-8.5 .5,4.5 .5-20 .5-17 .5,6 .5-7 .5-8 .5-25.5 .5,1 .5-20.5 .5,0 .5-.5 .5,2 .5,8.5 .5,8 .5,3.5 .5,21.5 .5,5.5 .5,18.5 .5-6.5 .5,18.5 .5,4.5 .5,17.5 .5,1 .5,6.5 .5-1.5 .5,16 .5,10 .5,2.5 .5-17 .5,3.5 .5,25.5 .5-12.5 .5,1.5 .5,10 .5-6 .5-5 .5,3 .5,15 .5-22 .5,19 .5-11 .5,.5 .5,15 .5-17 .5,10.5 .5-8 .5-7.5 .5,9 .5,9.5 .5-9 .5,5 .5-2.5 .5-.5 .5-3 .5,4 .5-13.5 .5,9.5 .5-9 .5,14.5 .5,1 .5-8 .5,11.5 .5-3 .5-.5 .5-4.5 .5,6 .5,4.5 .5-12 .5-.5 .5,14 .5-20.5 .5,0 .5,0 .5,14.5 .5-.5 .5,3 .5-3 .5,10.5 .5,.5 .5-2.5 .5-16 .5,10.5 .5-8.5 .5,3 .5-3.5 .5,7.5 .5,4 .5-3.5 .5-8.5 .5-2 .5,5.5 .5,0 .5,11 .5-7.5 .5,1 .5,.5 .5,9 .5,4 .5-8.5 .5-4.5 .5,11.5 .5-6.5 .5-6 .5,10 .5-5.5 .5-11 .5,14.5 .5-2.5 .5-14.5 .5,0 .5,13.5 .5,4 .5-.5 .5-13.5 .5,7 .5,7 .5-15 .5,11 .5,1 .5,5 .5-19 .5,13.5 .5,12 .5-17 .5,2 .5,9 .5-12 .5,13 .5-4 .5-15 .5,11.5 .5-10.5 .5,16.5 .5-18.5 .5-1 .5,5 .5,2 .5,14.5 .5-9 .5,2 .5,5 .5-12.5 .5,.5 .5-2 .5,11.5 .5,5.5 .5-10 .5-6.5 .5,.5 .5-4.5 .5,12.5 .5-13 .5,5 .5-7 .5-5 .5-.5 .5,6 .5,7 .5-4.5 .5,0 .5-7 .5,.5 .5-2 .5,8 .5,10.5 .5-14.5 .5-10 .5,17.5 .5-17 .5,10 .5-8 .5,2.5 .5,11 .5-19 .5,0 .5,6 .5-4 .5-3.5 .5-3 .5,8 .5,2.5 .5-15 .5-1.5 .5,20 .5-23.5 .5,15 .5-2.5 .5-11 .5,13 .5-13 .5,.5 .5-1.5 .5,15.5 .5-8 .5,11 .5-12.5 .5,11 .5,6.5 .5-10 .5-6 .5,6.5 .5,12 .5-2.5 .5-6.5 .5-8.5 .5,18.5 .5,7.5 .5,1 .5-7 .5-3.5 .5-3 .5,2.5 .5-6.5 .5,25 .5-12 .5,14 .5-12.5 .5-10 .5,25 .5-18 .5,4 .5,15 .5-.5 .5-22.5 .5,13.5 .5-7 .5,11.5 .5,9.5 .5-16 .5,14.5 .5-16.5 .5,19.5 .5-18 .5,2.5 .5,6 .5-12 .5,21 .5-18 .5,12 .5-13 .5,9.5 .5-.5 .5-2.5 .5,6.5 .5-11.5 .5,18.5 .5-9 .5-14 .5,25.5 .5-9.5 .5,8 .5-12 .5-11.5 .5,10 .5-5.5 .5,8 .5-3 .5,5 .5-14 .5,13 .5-3.5 .5,7.5 .5-16 .5,9 .5,14.5 .5-20 .5,13.5 .5,4.5 .5-9.5 .5,7 .5,.5 .5,4 .5-13.5 .5,1.5 .5,6.5 .5-10.5 .5,5.5 .5-5.5 .5-7.5 .5,15 .5,9.5 .5-14.5 .5,3.5 .5-4 .5-1.5 .5,6 .5,6.5 .5,5 .5-6.5 .5-12.5 .5-3.5 .5,19.5 .5-7 .5-6.5 .5-3 .5,2 .5,14 .5-8.5 .5-10 .5,16 .5-3.5 .5-4.5 .5,6.5 .5-10 .5,12.5 .5-16.5 .5,3.5 .5-3.5 .5,7 .5-2.5 .5,3 .5,2.5 .5,4 .5-3 .5,.5 .5,9.5 .5-13 .5-8 .5,16.5 .5,6 .5-11 .5,4.5 .5-10.5 .5,6 .5,3 .5-2 .5-6.5 .5,15.5 .5-10.5 .5,5.5 .5-4 .5,3.5 .5,.5 .5-8.5 .5,7.5 .5,6.5 .5,0 .5-7 .5,6 .5-21 .5,19.5 .5-10 .5-13.5 .5,13.5 .5,5.5 .5-12 .5,17.5 .5-3.5 .5-19 .5,15.5 .5-7 .5-5.5 .5,.5 .5-2.5 .5-7 .5,2.5 .5,5 .5,1.5 .5-4.5 .5-20 .5-4 .5-13 .5,4.5 .5-28.5 .5-8.5 .5-5.5 .5-4 .5-12.5 .5-5.5 .5-5 .5-1.5 .5,.5 .5,5 .5,11.5 .5,8 .5,16 .5-2.5 .5,22 .5,14 .5-2.5 .5,11 .5,6.5 .5,8 .5,4 .5,11.5 .5-3.5 .5,5 .5-1.5 .5-8.5 .5,11.5 .5-3.5 .5-2 .5-1 .5,6 .5-3 .5,17 .5-1 .5-13 .5,7.5 .5,3 .5-9 .5,14 .5-6 .5-7 .5-11.5 .5,6 .5,9 .5-5 .5,3 .5-5.5 .5,7.5 .5-5 .5-7.5 .5,8.5 .5-1.5 .5-6.5 .5,21 .5-10.5 .5-2 .5,8 .5-6 .5,6 .5-15.5 .5,3 .5,11 .5,7 .5-10.5 .5,1.5 .5-7 .5,5.5 .5-5 .5,4 .5,6 .5-17.5 .5,14 .5-7 .5,1.5 .5,12.5 .5-6 .5,4.5 .5-19 .5,9.5 .5,0 .5-1 .5,7 .5,3.5 .5-14 .5,1 .5-2 .5,16.5 .5-11.5 .5,3 .5-1.5 .5-4.5 .5,9.5 .5,0 .5,4 .5-8.5 .5-.5 .5-2 .5,14.5 .5-3 .5-7.5 .5,5 .5-8.5 .5,16.5 .5-16.5 .5,1.5 .5,0 .5,14.5 .5-11 .5,6.5 .5-8.5 .5-7.5 .5,14 .5-10 .5-4.5 .5,6 .5,7.5 .5,8 .5-22 .5-3 .5,19 .5-4.5 .5-6 .5,7 .5,2.5 .5,7.5 .5-13.5 .5,9.5 .5-12 .5-.5 .5,6.5 .5-10.5 .5-1.5 .5,16 .5-19.5 .5,13.5 .5-3 .5-.5 .5-6.5 .5-3.5 .5,8 .5-3.5 .5,5.5 .5,3.5 .5-6 .5-2 .5,9.5 .5-7.5 .5-1.5 .5,4.5 .5,4.5 .5,10.5 .5-1.5 .5-20 .5-.5 .5,10 .5,3.5 .5-5 .5,13.5 .5-4.5 .5,3.5 .5-14.5 .5-3.5 .5-1 .5,6.5 .5-8 .5,4 .5,1.5 .5,9.5 .5-10 .5-7 .5,6.5 .5,4.5 .5,2 .5-10.5 .5,10 .5,5 .5-7 .5-2.5 .5-6 .5-2 .5-9 .5,16 .5-8 .5,2.5 .5,1.5 .5-9 .5,9.5 .5-5.5 .5,1 .5-1.5 .5,.5 .5-1 .5,9 .5-18.5 .5,9 .5,2.5 .5-7.5 .5,6 .5-6 .5,15 .5-10.5 .5,13.5 .5-3.5 .5-3.5 .5-4 .5,6.5 .5,7.5 .5-2.5 .5,5.5 .5-9.5 .5,17 .5-13 .5-4 .5,15.5 .5,.5 .5-10 .5-3 .5,10 .5-12.5 .5,13 .5-16.5 .5,9.5 .5,.5 .5,8.5 .5-21 .5,14 .5-2.5 .5,1 .5-6 .5-3 .5,6 .5,1.5 .5,12 .5-9.5 .5-.5 .5,4.5 .5-16 .5,16.5 .5,1 .5,0 .5-8.5 .5-6.5 .5,2 .5,8.5 .5,2 .5,5 .5,1.5 .5-5 .5-6 .5,1.5 .5-4 .5,8.5 .5-4 .5-3 .5-11.5 .5,15.5 .5-19 .5,18.5 .5-3 .5-19 .5,9.5 .5-9 .5,6.5 .5,3.5 .5-5 .5-4 .5,4 .5,0 .5,0 .5-3 .5,2 .5,4.5 .5-2 .5,15 .5-9.5 .5-2.5 .5,6 .5-10 .5,12 .5,9.5 .5-16.5 .5,9 .5,4 .5-16.5 .5,23.5 .5-18 .5,5 .5,5.5 .5-4 .5,7.5 .5-4.5 .5,3.5 .5-3.5 .5,10 .5-23 .5,15.5 .5-4.5 .5-4.5 .5,1 .5,1.5 .5,8 .5-10 .5,5 .5,3.5 .5-10 .5,15.5 .5,5 .5-17 .5,11 .5-8.5 .5,6 .5-5 .5,14 .5-15 .5,8 .5-1.5 .5-11.5 .5-5 .5,16.5 .5,2 .5-10 .5-.5 .5,11.5 .5-1 .5,.5 .5-4.5 .5-7.5 .5-3 .5-4 .5,12 .5,13 .5-9 .5-4 .5-10 .5,6 .5,4.5 .5-1.5 .5,7.5 .5-7.5 .5,6 .5-5.5 .5-.5 .5,10 .5-14 .5,3 .5-7 .5,9.5 .5,7 .5-2.5 .5,0 .5,2.5 .5-3.5 .5,1 .5-2.5 .5-9.5 .5,10.5 .5,3 .5-13 .5,7.5 .5,6 .5-10 .5-7 .5,10 .5,10.5 .5-17.5 .5,5.5 .5-4.5 .5,2.5 .5,4 .5,9 .5-15.5 .5,0 .5-1 .5-2 .5-3 .5,5 .5,5 .5,1 .5,8 .5-14.5 .5,.5 .5,0 .5,6.5 .5-2.5 .5,6.5 .5-11 .5,12 .5,0 .5-8.5 .5-2.5 .5,5.5 .5-7 .5,18.5 .5-12 .5,4.5 .5-14.5 .5-3.5 .5,17 .5-1 .5-9 .5,1 .5-1 .5,6.5 .5,4.5 .5-17 .5,14 .5-9.5 .5,2 .5,2.5 .5-8.5 .5,22 .5,0 .5-7.5 .5-.5 .5-12 .5,19.5 .5-12.5 .5-1.5 .5,9.5 .5-7 .5-7.5 .5,3.5 .5-1 .5,2.5 .5,3 .5-.5 .5,5 .5-9.5 .5,6 .5,4.5 .5-21 .5,12.5 .5-13.5 .5-4 .5,20.5 .5-4.5 .5-6 .5-8.5 .5,12 .5-22 .5,8 .5,1 .5,3.5 .5-22 .5-4 .5,11.5 .5-.5 .5-3 .5-7.5 .5,3.5 .5-2 .5,1 .5,1 .5-2.5 .5-6 .5,10 .5,1.5 .5,2.5 .5,11.5 .5-6 .5,14 .5-8 .5-8 .5,17 .5-6.5 .5-1.5 .5,7 .5,0 .5-10 .5,6 .5,14.5 .5-6 .5,4 .5,3.5 .5,5.5 .5-16.5 .5,0 .5-1.5 .5,2.5 .5-2 .5,6 .5-1 .5,4.5 .5-12.5 .5,3.5 .5,6.5 .5,1.5 .5-18 .5,7.5 .5,1.5 .5-12 .5,14.5 .5,3.5 .5-22 .5-.5 .5,15.5 .5-1 .5-19.5 .5-.5 .5,8 .5-9 .5-5.5 .5,11 .5-12.5 .5-18 .5,10.5 .5-14.5 .5,11 .5-2 .5-5.5 .5-2 .5-1 .5,1 .5-.5 .5-2.5 .5,9.5 .5-5 .5,.5 .5,10.5 .5-5.5 .5,7 .5,16 .5-3 .5,4.5 .5,5 .5-9.5 .5,16.5 .5,1 .5,2 .5,4.5 .5-13 .5,26.5 .5-13 .5-6.5 .5,11.5 .5-8 .5,10 .5,4 .5-12 .5,15 .5-4 .5,2 .5,.5 .5,1.5 .5,4.5 .5-1.5 .5-2.5 .5-8 .5,7.5 .5-5.5 .5-6 .5,10 .5-6 .5,14 .5-7.5 .5,.5 .5,5 .5-7.5 .5,1 .5,10 .5-17.5 .5,3.5 .5,5.5 .5,6 .5-3.5 .5-9.5 .5,1.5 .5,18 .5-9.5 .5-6 .5,.5 .5,15.5 .5-3.5 .5-20 .5,7.5 .5,7.5 .5-7 .5,9 .5,3.5 .5-12.5 .5,1.5 .5-4.5 .5,6.5 .5,3 .5-5 .5-15 .5,11 .5-10 .5,14.5 .5-10 .5,2 .5-6 .5-.5 .5,0 .5,0 .5,5.5 .5-10 .5,11 .5-7 .5,11 .5-16.5 .5,22 .5-9.5 .5-4.5 .5,14 .5-5 .5,4.5 .5,7 .5-14.5 .5,3 .5,6 .5,4 .5-8 .5,0 .5,10.5 .5,2 .5,3 .5-11 .5-10 .5,15.5 .5,2 .5-15 .5,10.5 .5,1.5 .5,.5 .5-5.5 .5,4 .5,3.5 .5-16 .5,18 .5-8.5 .5,7.5 .5-9.5 .5-6.5 .5,19 .5,3.5 .5-23 .5,3.5 .5,9 .5-7.5 .5,12 .5-10 .5,2 .5,4.5 .5-13 .5,10 .5,14 .5-8 .5-10.5 .5,13.5 .5,5 .5-3.5 .5-12 .5-.5 .5,2 .5-4.5 .5,7 .5-6.5 .5,.5 .5,8 .5-5.5 .5,2 .5,13.5 .5-9.5 .5,5.5 .5-5 .5,1 .5-12.5 .5,5 .5,2 .5-1 .5,1.5 .5,2.5 .5-2.5 .5,6 .5-6.5 .5,9 .5-7 .5-4 .5-4.5 .5,3.5 .5,3 .5,9.5 .5-16 .5,15 .5-7 .5-5 .5-3 .5,12 .5-15.5 .5,9 .5,0 .5,2 .5,4.5 .5-7.5 .5,4.5 .5-8.5 .5,8.5 .5,3.5 .5-6.5 .5,4.5 .5-1.5 .5-3 .5,2 .5-1 .5-10.5 .5,2 .5,12.5 .5-14.5 .5,19 .5-16.5 .5,9 .5,3 .5-7.5 .5,11.5 .5-16.5 .5,15 .5-5 .5-2.5 .5,7.5 .5-3 .5-11.5 .5,16.5 .5-3 .5-6.5 .5,0 .5,7.5 .5,1.5 .5-7.5 .5-12 .5,7.5 .5,3.5 .5-11.5 .5-3.5 .5,6.5 .5-.5 .5,.5 .5,4 .5-21 .5,10.5 .5-3.5 .5,0 .5-.5 .5,4 .5-4.5 .5-4 .5-.5 .5-.5 .5,0 .5,2.5 .5-8.5 .5,.5 .5,18 .5-4.5 .5,2 .5,5 .5-17.5 .5,22 .5-15 .5,3 .5,14 .5-12.5 .5,12 .5,6.5 .5-12 .5,1.5 .5,8.5 .5,2.5 .5-3 .5-11.5 .5,20.5 .5-5.5 .5-15 .5,6 .5-.5 .5,2 .5,6.5 .5-5.5 .5,12 .5-.5 .5-6 .5-7 .5,6.5 .5,3 .5,4.5 .5-10 .5,3.5 .5-6.5 .5,3.5 .5,10 .5,3 .5-12 .5,.5 .5-3 .5-5 .5,12 .5,.5 .5,1 .5-3.5 .5,3.5 .5-2.5 .5,7 .5-5.5 .5,6.5 .5-2 .5-4.5 .5-10 .5,11 .5-1 .5,9 .5-6.5 .5-11.5 .5,2 .5,11 .5-7 .5-6.5 .5,10.5 .5,.5 .5-4 .5,6 .5-6 .5,12 .5-18 .5,12.5 .5,.5 .5,2 .5-9 .5-1.5 .5,13.5 .5-7.5 .5-7 .5,9 .5,4.5 .5-5.5 .5-8.5 .5,10.5 .5-15.5 .5,14 .5,1.5 .5-7.5 .5,3 .5-.5 .5-4 .5-2 .5,3.5 .5-2 .5,13 .5-17.5 .5,19.5 .5-12.5 .5-3.5 .5,1.5 .5-3 .5-4.5 .5,16 .5-6 .5-4 .5-3 .5,4.5 .5-4 .5,15.5 .5-19 .5,5.5 .5,.5 .5,8 .5-1 .5-2.5 .5,0 .5,3.5 .5-7.5 .5,8 .5-11 .5,11.5 .5-6.5 .5,10 .5-14.5 .5,5 .5-2.5 .5,11 .5-14.5 .5,14 .5-2.5 .5,1 .5-8 .5,7.5 .5,7.5 .5-14.5 .5,5.5 .5-3 .5-5 .5,1.5 .5,8.5 .5-3.5 .5-10.5 .5,14 .5-5 .5,7.5 .5-9.5 .5,15 .5-17 .5,10.5 .5-11 .5,7.5 .5-8 .5,14.5 .5-7.5 .5,9 .5-9.5 .5-9 .5,4.5 .5,3 .5,10.5 .5,2.5 .5-11.5 .5,3 .5,5.5 .5-14.5 .5,5 .5,6 .5-2 .5-2.5 .5-5.5 .5,6.5 .5,4 .5-8.5 .5,4.5 .5,10.5 .5-8 .5,1 .5-10 .5,3 .5,1.5 .5-3 .5-2.5 .5-2 .5,8 .5,6.5 .5-1.5 .5,.5 .5,1.5 .5-10.5 .5,1 .5,2.5 .5-3.5 .5,6.5 .5-5 .5,10.5 .5-12 .5,8.5 .5,6.5 .5-17 .5,4 .5-1 .5-2 .5,8 .5,1 .5-7 .5,1.5 .5,4 .5,.5 .5-8 .5,17 .5-12 .5,2 .5-4.5 .5,2.5 .5-4 .5,14.5 .5-19.5 .5,9 .5,5 .5-13 .5,12 .5,5 .5-6 .5-2 .5,0 .5-1.5 .5,5 .5-8.5 .5,7 .5-4 .5-1.5 .5-3 .5,10.5 .5-7.5 .5,9.5 .5-6 .5,0 .5-6.5 .5,.5 .5,9 .5-3.5 .5,.5 .5,3.5 .5-1 .5-5 .5,12.5 .5,0 .5-8 .5-10.5 .5,3 .5,8.5 .5-6.5 .5,2.5 .5-9.5 .5,12.5 .5,4 .5-13.5 .5,5 .5-.5 .5-8 .5,7.5 .5-.5 .5-5 .5,3 .5,6 .5,.5 .5,0 .5-5 .5-1.5 .5,5 .5-3 .5,8 .5,.5 .5-9 .5-6.5 .5,9.5 .5-4.5 .5,8 .5-1 .5-10 .5,11.5 .5,1.5 .5-5.5 .5,.5 .5-6.5 .5-2 .5,11 .5-6 .5-2 .5-.5 .5,3.5 .5-5.5 .5-2.5 .5,0 .5,0 .5-3 .5,2 .5-4.5 .5-1 .5,10.5 .5-11.5 .5,7.5 .5-16.5 .5,7 .5-6 .5,6.5 .5-14 .5,9.5 .5-15 .5,.5 .5-8.5 .5,4 .5-3 .5-4 .5-.5 .5,3 .5-.5 .5-.5 .5,1.5 .5-1.5 .5,4.5 .5,4 .5,3 .5-2 .5,4 .5,6 .5-3.5 .5,3 .5,5.5 .5,4.5 .5-3 .5,8.5 .5-3 .5-1.5 .5,5.5 .5-6.5 .5-1 .5,12.5 .5-10 .5,6 .5,10 .5-3 .5-5 .5,4.5 .5-6.5 .5,2 .5,5 .5,4.5 .5-3 .5,0 .5-2.5 .5,4 .5,4 .5,1.5 .5-3.5 .5-1 .5,1.5 .5,1 .5-5 .5,.5 .5-1.5 .5,.5 .5,12.5 .5-5 .5-7.5 .5,3.5 .5,1.5 .5-2 .5-4 .5,12 .5-13 .5,10.5 .5-4 .5-4.5 .5,3.5 .5-8 .5,10 .5,2.5 .5-6.5 .5,4.5 .5-10.5 .5,6.5 .5-4 .5,11 .5-3.5 .5-1 .5-1 .5,0 .5,5 .5-9 .5,9.5 .5-1 .5,1.5 .5-6.5 .5,7 .5-.5 .5-2.5 .5,3 .5-7.5 .5,2 .5,7 .5,2 .5-16.5 .5,12.5 .5-10.5 .5,7 .5-4 .5,4 .5-2.5 .5,3.5 .5,1 .5-4.5 .5,4.5 .5-4.5 .5,4.5 .5,2.5 .5-5 .5,.5 .5-9.5 .5,5 .5,.5 .5,2 .5-5.5 .5,0 .5,6 .5,1.5 .5,3.5 .5,2 .5-4 .5-4.5 .5,5 .5-7 .5,5 .5,7.5 .5-1.5 .5-8.5 .5,6 .5-6.5 .5-1 .5-5 .5,10 .5-1 .5,3.5 .5-1 .5-5.5 .5,5.5 .5,4.5 .5,0 .5-5 .5-2.5 .5,.5 .5-1.5 .5-3 .5,10 .5-4 .5-3 .5,6 .5-3 .5-10 .5,11.5 .5-8 .5-4.5 .5,7 .5-3 .5-2 .5,10.5 .5-7.5 .5-1 .5-1.5 .5-1 .5,2 .5-3 .5,9.5 .5-14 .5,4.5 .5-3.5 .5-1.5 .5-1 .5,2.5 .5,3.5 .5,.5 .5-3 .5-6 .5,9.5 .5-1 .5-.5 .5-11 .5,4.5 .5,0 .5-1 .5-.5 .5,0 .5-4 .5,7.5 .5,1 .5-3 .5-2 .5,2 .5,4.5 .5-5.5 .5,4.5 .5-5.5 .5,5.5 .5-6.5 .5,1.5 .5,14 .5-6.5 .5,5 .5-12.5 .5,7.5 .5,1 .5-1 .5,4 .5-4 .5,10 .5-2.5 .5-7.5 .5,7.5 .5,0 .5,6 .5-2 .5-10 .5,2 .5,8.5 .5-10.5 .5,9 .5-6 .5,5.5 .5,.5 .5-.5 .5-5 .5,3.5 .5,5.5 .5-6.5 .5,3 .5,5.5 .5,1 .5-1 .5-6.5 .5,0 .5-1.5 .5-1.5 .5,2 .5-6 .5,9 .5-3.5 .5,6.5 .5-.5 .5,1.5 .5-9.5 .5,2.5 .5-2.5 .5-3.5 .5,4 .5-.5 .5,8.5 .5-13 .5,10.5 .5-3.5 .5-1 .5,1 .5,3 .5-2.5 .5,9 .5-7.5 .5-3 .5,0 .5,1.5 .5,8 .5-4.5 .5,3.5 .5-11.5 .5,3.5 .5,2.5 .5-1.5 .5,4 .5,1.5 .5-6 .5-6.5 .5,4 .5-1 .5,8 .5,5 .5-6.5 .5,6.5 .5-6 .5,3.5 .5-4 .5,2 .5-7.5 .5,3 .5,8 .5-2.5 .5-10 .5,10.5 .5,1 .5-6.5 .5,2.5 .5-4 .5,4 .5-.5 .5-2.5 .5,1.5 .5-2.5 .5,5.5 .5-5.5 .5,4 .5,0 .5-4.5 .5,1.5 .5,3 .5,5 .5-9 .5,2.5 .5-.5 .5-7 .5,7 .5,4 .5,.5 .5-5.5 .5,4.5 .5-3.5 .5,2.5 .5,2.5 .5-7 .5,5 .5-9 .5,11.5 .5-11 .5,6.5 .5-.5 .5,4.5 .5,4 .5-8.5 .5,.5 .5-4.5 .5,7 .5,2 .5,1 .5-9.5 .5,.5 .5,8 .5,0 .5-12 .5,4.5 .5-4.5 .5,7 .5,1.5 .5,1 .5,.5 .5,1 .5-3.5 .5-6 .5,7.5 .5,2.5 .5-9.5 .5,2 .5,9.5 .5,1.5 .5-9 .5-3.5 .5,3 .5-1 .5,1.5 .5,6 .5-11.5 .5,0 .5,15.5 .5-11 .5,8.5 .5-13 .5,11.5 .5-9.5 .5,1.5 .5-1.5 .5,8 .5-6.5 .5,0 .5,7.5 .5,3.5 .5-4.5 .5-1 .5,2.5 .5,3.5 .5-8 .5-3 .5,11.5 .5-1.5 .5-11 .5,8.5 .5-1.5 .5-2 .5-4.5 .5-1.5 .5,4 .5,2 .5,7 .5-12.5 .5,10 .5-3.5 .5,3 .5,4 .5-9.5 .5,2.5 .5-7.5 .5,4 .5,9.5 .5,1 .5-7 .5-1 .5,2.5 .5-1 .5,6.5 .5-11.5 .5-3 .5,4 .5-2.5 .5,6 .5,0 .5-6.5 .5,6 .5-1 .5,2 .5-3.5 .5,1 .5,.5 .5,7 .5-10.5 .5,2.5 .5,2.5 .5-.5 .5,5 .5-6 .5,3 .5-1.5 .5-3.5 .5,2 .5,1.5 .5-3.5 .5,11 .5-6.5 .5,3.5 .5,2.5 .5,.5 .5-15 .5,5 .5-3 .5,3.5 .5,.5 .5-4.5 .5,10.5 .5,1 .5-8.5 .5,6 .5,.5 .5-.5 .5-8.5 .5,13 .5,0 .5-9 .5,0 .5-3.5 .5,8 .5-2.5 .5,2 .5-4 .5-3.5 .5,1.5 .5,1.5 .5,3 .5-1.5 .5,4 .5-.5 .5,1.5 .5-3 .5,6.5 .5,0 .5-9.5 .5-2 .5,7 .5-.5 .5,1 .5-5.5 .5-2 .5,3.5 .5,7.5 .5-7.5 .5,3.5 .5-5 .5-1.5 .5,.5 .5-4 .5,4.5 .5,6.5 .5-3.5 .5-3.5 .5,3 .5,1.5 .5,2 .5-6 .5,3 .5,1 .5,3 .5-9 .5,3.5 .5-6 .5,4 .5,5 .5,5.5 .5-8 .5-.5 .5-2.5 .5-1.5 .5,2 .5,6 .5-10 .5,6.5" fill="none" stroke="#00f" stroke-width="3" stroke-linejoin="miter" stroke-miterlimit="2"/>
<path d="M173,2693l.5,8.5 .5-4 .5-9 .5-7 .5,22 .5,1.5 .5-21 .5,25.5 .5-16.5 .5,18 .5-9.5 .5-7 .5,12.5 .5-9 .5,.5 .5,0 .5-2 .5,6.5 .5,1.5 .5-3 .5,11.5 .5-25 .5,7.5 .5,10.5 .5-16 .5,22 .5-6.5 .5-7 .5,6 .5-9 .5-7 .5,19 .5,1 .5-6.5 .5-1 .5-14 .5,8 .5,3 .5,6 .5,9 .5-15 .5-1.5 .5,14 .5-8.5 .5-10 .5,21 .5-16.5 .5,2.5 .5-3.5 .5,11.5 .5,6 .5-11.5 .5,6 .5-6.5 .5,18.5 .5-2.5 .5-16.5 .5,9 .5,3.5 .5-4 .5-9 .5,5 .5,7 .5-2 .5-10.5 .5,11 .5-12 .5-6 .5,16 .5,6.5 .5-4 .5,8 .5,2.5 .5-11 .5-8 .5,5 .5-11 .5,11.5 .5-.5 .5,2 .5,7.5 .5-23 .5,20.5 .5-10 .5,10.5 .5-5 .5-9.5 .5,15.5 .5-13 .5,10 .5-8.5 .5,1 .5,4.5 .5,14 .5-9 .5-5.5 .5,13.5 .5-13 .5-2.5 .5-5.5 .5,9 .5,0 .5-6.5 .5-9 .5,13.5 .5,2 .5-4 .5-4 .5-1 .5,4.5 .5,15 .5-9.5 .5-14.5 .5,18.5 .5-8.5 .5,18 .5-17 .5,2 .5,2.5 .5,.5 .5-1.5 .5,0 .5-2 .5-3 .5,1.5 .5-6 .5,5 .5-1 .5,2 .5,0 .5,2.5 .5,5 .5-6 .5,3 .5,1.5 .5-4.5 .5,1.5 .5,4 .5-16.5 .5,19 .5-9 .5-10.5 .5,18.5 .5-13.5 .5,16.5 .5-14.5 .5,6 .5,7 .5-11.5 .5-1.5 .5,7 .5,12 .5-2 .5,2.5 .5-8.5 .5,1 .5,4.5 .5-4 .5-10.5 .5,12.5 .5-10 .5-3 .5,8 .5-2 .5,8 .5-5 .5-5.5 .5,3 .5-4 .5,2 .5,12.5 .5-7 .5-6 .5,.5 .5-2.5 .5,3.5 .5-10.5 .5,17 .5-7 .5,7.5 .5,2 .5-5 .5-10.5 .5-2 .5,16.5 .5,0 .5-17.5 .5,3.5 .5,16 .5-8 .5,14 .5-10.5 .5,3.5 .5-8 .5-3 .5-8 .5-3 .5,23.5 .5-2.5 .5-10.5 .5,12.5 .5-20 .5,24 .5-8.5 .5,9.5 .5-27 .5,25 .5-4 .5-5 .5-9.5 .5,10 .5-1 .5-7 .5-6 .5,2.5 .5,4.5 .5,13 .5,.5 .5,4 .5-9.5 .5-15.5 .5,5.5 .5-3 .5,7 .5,13 .5-12.5 .5-2 .5,8 .5,1.5 .5,2 .5-15.5 .5,.5 .5,3.5 .5,9.5 .5-4.5 .5-9.5 .5,22.5 .5-19 .5,3.5 .5,0 .5-5.5 .5,6 .5,1 .5,1.5 .5,.5 .5-7 .5-3 .5,16 .5-10.5 .5,10.5 .5-5 .5,10.5 .5-15 .5-12.5 .5,10.5 .5,12.5 .5,4.5 .5-.5 .5-8.5 .5,7.5 .5-20.5 .5,3 .5-2.5 .5,12 .5,5.5 .5-10 .5,3 .5-7 .5,1 .5,3.5 .5,11.5 .5-8.5 .5,.5 .5,4.5 .5-3.5 .5-11 .5,19.5 .5-15 .5,1 .5-.5 .5,5 .5-6.5 .5,5 .5,10.5 .5-20 .5-8.5 .5,25 .5-8.5 .5,3.5 .5,0 .5-8.5 .5,4 .5-15 .5,12.5 .5,1.5 .5-10 .5,3.5 .5,4.5 .5,3.5 .5-4.5 .5,12.5 .5-5.5 .5,.5 .5-20.5 .5,10.5 .5,4.5 .5-5 .5,5 .5-7 .5-2 .5,6 .5,.5 .5-3 .5,1.5 .5,8 .5-4 .5,2 .5-2 .5-4 .5-4 .5,16.5 .5-13.5 .5,4.5 .5-11.5 .5-6.5 .5,1 .5,6.5 .5-7.5 .5,15.5 .5-10.5 .5-1 .5,16 .5-16.5 .5-2 .5,17 .5-12 .5-4 .5-5.5 .5,12 .5-2.5 .5-26 .5,12.5 .5,0 .5,0 .5-17.5 .5,7 .5,11 .5-8 .5-20.5 .5,7 .5-12 .5,8.5 .5-24.5 .5,18.5 .5-8 .5,1 .5-10.5 .5,1.5 .5,0 .5,2 .5,1.5 .5,12.5 .5-3 .5-18 .5,21 .5,2 .5,10.5 .5,.5 .5-8.5 .5,7 .5,14.5 .5-12.5 .5,9.5 .5-7 .5,19.5 .5,2 .5-7 .5-7 .5,5 .5,3.5 .5-.5 .5,6 .5-13.5 .5,2.5 .5,3 .5,14.5 .5-16 .5,11 .5,5.5 .5-18.5 .5-3 .5,0 .5,18.5 .5-1 .5-5 .5-6.5 .5,8 .5-13 .5,16 .5-4 .5-.5 .5,11 .5-20 .5-1 .5,12 .5,5 .5-17 .5-1 .5,6.5 .5,5.5 .5-11.5 .5,13.5 .5,6.5 .5-16 .5-4 .5,18.5 .5-26 .5,19.5 .5-1.5 .5-20.5 .5,17 .5,5.5 .5-15.5 .5-11 .5,7 .5,21 .5-23.5 .5,16 .5-19 .5,6 .5-2.5 .5,5 .5,4.5 .5-4 .5-7.5 .5,6 .5-1 .5-2 .5-1.5 .5-1.5 .5,7.5 .5,12.5 .5-14.5 .5,1.5 .5-9 .5,2 .5,16 .5-14.5 .5,6 .5,3.5 .5-11.5 .5,13.5 .5-3 .5-1 .5-11.5 .5,8 .5-15.5 .5,15 .5,0 .5-4 .5,6 .5-14 .5,6 .5-6 .5,12.5 .5-4.5 .5,11.5 .5-14 .5,10 .5-4 .5,2.5 .5,3.5 .5,6.5 .5-1.5 .5-21 .5,14.5 .5-12 .5,10.5 .5-9 .5,14.5 .5-1.5 .5-5.5 .5-8.5 .5-4.5 .5,2 .5,8.5 .5,7 .5,3 .5,.5 .5-15 .5,6.5 .5,7.5 .5-2.5 .5-5 .5-9 .5,24 .5-14.5 .5-12.5 .5,16 .5-1 .5-3 .5,.5 .5-8.5 .5,20 .5-11 .5-12 .5,10.5 .5-10.5 .5,14.5 .5-7.5 .5,8.5 .5,4 .5-6.5 .5,16 .5-13.5 .5,3.5 .5-4 .5-2.5 .5-3.5 .5,14.5 .5-3 .5,6.5 .5-16.5 .5-1 .5,4.5 .5,2 .5-1.5 .5-12.5 .5,13 .5,2.5 .5,2 .5-6 .5,2.5 .5,9 .5,1 .5-8.5 .5-1 .5,.5 .5,6.5 .5-5 .5,0 .5,9.5 .5-15 .5-3.5 .5,7 .5,15 .5-9.5 .5-16 .5,18.5 .5-5 .5,1 .5-14 .5,6.5 .5,1 .5,11 .5-13 .5-.5 .5-4.5 .5,17.5 .5-9 .5,9.5 .5-6.5 .5,5.5 .5-11 .5,11 .5-8.5 .5-1.5 .5,13.5 .5-17 .5,10.5 .5,2 .5-.5 .5-1.5 .5,7.5 .5-13 .5,17 .5-.5 .5-9 .5-2.5 .5-8 .5,2 .5,1.5 .5,7 .5,11 .5-24.5 .5,19.5 .5-5.5 .5,1.5 .5-1.5 .5-6.5 .5,2.5 .5,3.5 .5,8.5 .5-11 .5,13 .5-1.5 .5-10.5 .5,4.5 .5,7 .5-18.5 .5,2.5 .5,13 .5,0 .5-11.5 .5-2 .5,11.5 .5,6 .5-13.5 .5-3.5 .5,16 .5-2.5 .5-15.5 .5,2.5 .5,5 .5,10 .5-2 .5-5.5 .5-14 .5,28 .5-19.5 .5,18.5 .5-.5 .5-7.5 .5-1.5 .5-9 .5-2.5 .5,1.5 .5-3.5 .5,9.5 .5-9 .5,21 .5,3.5 .5-27.5 .5,3 .5,15.5 .5-3 .5-4 .5,1.5 .5,4 .5-6.5 .5,8.5 .5,5 .5,.5 .5,4 .5-11.5 .5,1.5 .5-16.5 .5,11 .5-5.5 .5,16.5 .5,5 .5-16.5 .5-.5 .5-1 .5,3.5 .5-5.5 .5,13.5 .5-9 .5,14.5 .5-6 .5-9 .5-2 .5,12 .5-10 .5-10 .5,11 .5-4.5 .5,20.5 .5-14 .5-4 .5-9 .5,22.5 .5-5 .5-4 .5-1.5 .5,3 .5,4.5 .5-4 .5-5 .5,5 .5-15 .5,9 .5,2 .5-2.5 .5,3.5 .5,7.5 .5-6.5 .5-9.5 .5,13 .5,5 .5,0 .5-2 .5,3 .5-8.5 .5-12.5 .5,10 .5-6 .5,10.5 .5,4 .5-10 .5,12.5 .5-17 .5,14.5 .5-12 .5,2 .5-3.5 .5,11.5 .5,9.5 .5-16 .5,2 .5,6.5 .5-10 .5,6.5 .5-2 .5-5 .5-2.5 .5,17.5 .5-8.5 .5-5 .5,14 .5-7.5 .5-9 .5,.5 .5,7.5 .5-3.5 .5,7.5 .5-12 .5-1 .5,9 .5,7 .5-8.5 .5,17.5 .5,0 .5-14.5 .5-5.5 .5,8.5 .5-5 .5,3 .5,4 .5-3 .5-13.5 .5,27 .5-19 .5,5 .5,6 .5-4 .5,.5 .5,3 .5-12 .5,11 .5,4.5 .5-8.5 .5,10.5 .5,3 .5-13 .5,8.5 .5-5 .5,7 .5-10.5 .5-9 .5,18 .5-1.5 .5-2 .5-9.5 .5,2.5 .5,7 .5-2.5 .5-6.5 .5,5.5 .5,5 .5-9.5 .5,4.5 .5-4 .5,12 .5-7.5 .5,.5 .5,7.5 .5-3.5 .5-6.5 .5,11.5 .5-18 .5,1 .5,12 .5-4 .5,10 .5-6.5 .5-.5 .5,6.5 .5-11.5 .5-6 .5,15.5 .5-10 .5,8.5 .5-9.5 .5,5.5 .5-2 .5-2.5 .5,1.5 .5,8 .5-4 .5,5 .5-10.5 .5,1 .5-3 .5,2 .5,6 .5,0 .5,4.5 .5,4 .5-3 .5-5.5 .5-4.5 .5,17.5 .5-7 .5-16.5 .5,14.5 .5,5.5 .5-10 .5,6.5 .5-3.5 .5,3.5 .5-3 .5,4.5 .5-3.5 .5,4 .5-7 .5,7 .5-6.5 .5-9.5 .5,14 .5,0 .5-7.5 .5,16.5 .5-12.5 .5,8 .5-7 .5,4 .5,2 .5,4 .5-11.5 .5-4 .5,20.5 .5-11 .5,14 .5-14.5 .5-9.5 .5,13 .5,3 .5-2.5 .5-5 .5,6 .5-12 .5-1 .5,9.5 .5,6 .5-17.5 .5,15 .5-4.5 .5-3.5 .5,7.5 .5-1.5 .5,1.5 .5,4.5 .5-1.5 .5,4.5 .5,0 .5-11.5 .5,4 .5-12 .5,9 .5-7 .5,6 .5,3.5 .5,4.5 .5-6 .5,17.5 .5-13.5 .5-11 .5,24 .5-14.5 .5-.5 .5,8 .5-9.5 .5,14.5 .5,3.5 .5-3.5 .5-8 .5-4.5 .5,8.5 .5,2 .5-3 .5-1 .5,8 .5-9.5 .5-8 .5-1.5 .5,12 .5,9 .5-10.5 .5-2 .5-2.5 .5,12.5 .5-18 .5,5 .5,16 .5-12.5 .5,1.5 .5,11 .5-1 .5-6 .5,6.5 .5-22.5 .5,6 .5,8 .5-7.5 .5,2.5 .5-1.5 .5,7.5 .5-6.5 .5,13 .5-6.5 .5,9 .5-20 .5-2 .5,12.5 .5,.5 .5,5.5 .5,.5 .5-9 .5,11.5 .5-9.5 .5,0 .5,9 .5-1 .5-4.5 .5,0 .5,12.5 .5-14.5 .5,2 .5,1 .5-5.5 .5,14 .5,2.5 .5-8 .5-16.5 .5,.5 .5,13 .5-5.5 .5,1 .5,2.5 .5-3 .5,2.5 .5,2 .5,3.5 .5-1 .5,0 .5-13.5 .5,7.5 .5,14 .5-1 .5,4.5 .5-18 .5,1.5 .5,3.5 .5,8.5 .5-7.5 .5,2.5 .5-2 .5,1 .5-5 .5,9.5 .5-16.5 .5,11 .5-4 .5,6 .5,6 .5-9.5 .5,10.5 .5-7.5 .5,3.5 .5-3.5 .5,3.5 .5,7 .5-15.5 .5,.5 .5-.5 .5-3.5 .5,2.5 .5,17 .5-9.5 .5,6 .5-3.5 .5,12.5 .5-10.5 .5-1 .5,12 .5-21.5 .5,1.5 .5,2 .5-4 .5,9 .5,3 .5,7.5 .5-21.5 .5,19 .5,4 .5-16 .5,8.5 .5,9 .5-17 .5,7 .5,.5 .5-4 .5,3 .5-5 .5-4 .5,14 .5-5 .5,7 .5-8 .5-2.5 .5-2.5 .5,0 .5,3 .5,7 .5,2.5 .5-1 .5-7.5 .5,6.5 .5,9 .5-11.5 .5,1 .5,4.5 .5,3.5 .5-15 .5,9 .5,4 .5-10.5 .5,8.5 .5-2 .5,0 .5,.5 .5,1 .5-6.5 .5-3.5 .5,12.5 .5,3.5 .5,6 .5-15 .5,5.5 .5-4 .5-3.5 .5,7 .5-4 .5,1.5 .5-4.5 .5-2.5 .5,4.5 .5,11.5 .5-5.5 .5,2 .5-8 .5-6 .5,13 .5-7.5 .5-2 .5-1 .5,12 .5,2.5 .5,.5 .5,4 .5-17.5 .5,0 .5-2 .5,18.5 .5-20 .5,9 .5,4.5 .5-18.5 .5,18.5 .5,1.5 .5-7 .5-7.5 .5,13.5 .5-4 .5,5 .5-11.5 .5-9.5 .5,12.5 .5,4.5 .5-15 .5,4 .5-3 .5,14 .5-17.5 .5,20.5 .5-16 .5,12.5 .5-7.5 .5-3 .5,2 .5,5.5 .5-7 .5,5 .5-5 .5,4.5 .5-1 .5,8 .5-18 .5,12.5 .5,0 .5-8 .5-1.5 .5,7.5 .5,5 .5-4 .5,2.5 .5-17 .5,23.5 .5-5.5 .5-10.5 .5-4.5 .5,11 .5,1.5 .5-6 .5-1.5 .5,5.5 .5-1.5 .5,4.5 .5,2 .5-10 .5,7 .5-11.5 .5,15 .5-20 .5,6 .5,1 .5,9.5 .5-12 .5,12.5 .5-4.5 .5,3 .5,5.5 .5-15.5 .5,2.5 .5,15 .5-9 .5-14.5 .5,17 .5-7 .5,2.5 .5,3.5 .5-10 .5,10.5 .5-3 .5-12 .5-1.5 .5,12 .5,2.5 .5-13.5 .5,13.5 .5-3.5 .5,6.5 .5-2 .5-15 .5,20 .5-20 .5,2.5 .5-3.5 .5,2.5 .5,2.5 .5-1 .5,0 .5-1.5 .5-5.5 .5,14 .5-4 .5,6 .5-12 .5-1 .5,1 .5,10 .5-11.5 .5,2 .5,0 .5,.5 .5-20.5 .5,10 .5-12 .5,3 .5-7.5 .5-12 .5-10.5 .5,0 .5-25.5 .5-2.5 .5-15 .5-24 .5-18.5 .5-20.5 .5-20.5 .5-5 .5-11 .5-4 .5,.5 .5,7 .5,14 .5,20.5 .5,13 .5,15 .5,24 .5,15.5 .5,8.5 .5,13 .5,5 .5,13.5 .5,3.5 .5,12.5 .5,8.5 .5,12.5 .5-10 .5,20 .5,5.5 .5,0 .5-2.5 .5,8.5 .5-7 .5,12.5 .5-17 .5,10 .5-5.5 .5,14.5 .5-1.5 .5,2.5 .5-7.5 .5,4.5 .5-4 .5-9.5 .5,14.5 .5-3.5 .5-3.5 .5-8 .5,15.5 .5-5.5 .5-9 .5,5 .5,7.5 .5,0 .5,2.5 .5,9 .5-15.5 .5-3 .5,.5 .5-4.5 .5,15.5 .5,1 .5,9.5 .5-10.5 .5,1 .5-9.5 .5,.5 .5,12.5 .5,.5 .5-6 .5-6 .5,8.5 .5,0 .5-6.5 .5,8 .5-9 .5-1 .5,1.5 .5,1.5 .5,6 .5,1 .5,8.5 .5-7 .5-17 .5,9.5 .5-4 .5,11.5 .5,0 .5-5 .5-10 .5,4.5 .5,2.5 .5,5 .5,6 .5-19 .5,6 .5-9 .5,3 .5,6.5 .5-1 .5,0 .5,4 .5-3 .5,5 .5-5.5 .5,3.5 .5,5.5 .5-9 .5-7.5 .5,20 .5-12 .5,15 .5,2.5 .5-2 .5-10.5 .5-9 .5,14.5 .5,7 .5-9 .5-5 .5,6 .5,11 .5-7 .5,1 .5,1.5 .5-9 .5,6 .5,2 .5-6.5 .5-2 .5,14.5 .5,2.5 .5-4 .5-6 .5,5.5 .5-2 .5-2.5 .5-7 .5,2 .5,11 .5-9 .5,7.5 .5-6 .5-6.5 .5,0 .5,4 .5-2 .5,3.5 .5,13 .5-1 .5-3 .5-15 .5,13.5 .5-9.5 .5,3 .5,2.5 .5,0 .5-9 .5,16.5 .5-9 .5,12 .5-12 .5,4.5 .5-5.5 .5,8 .5-15.5 .5,2.5 .5,0 .5,6 .5,7.5 .5-11.5 .5,11.5 .5-6 .5,2.5 .5,3.5 .5-10 .5-7 .5-2.5 .5,7 .5,13.5 .5-17 .5,12.5 .5-.5 .5,5.5 .5-15 .5,10.5 .5-8 .5,9 .5-4.5 .5-2 .5,11.5 .5-9.5 .5,11 .5-1 .5-5.5 .5,.5 .5-3.5 .5-4.5 .5-1.5 .5,5.5 .5-6 .5,6.5 .5,4.5 .5-1 .5-17.5 .5,8 .5,9.5 .5-9 .5,4 .5-12.5 .5,12 .5,4.5 .5-7.5 .5,4.5 .5-6 .5-3.5 .5,10.5 .5-13.5 .5,6 .5,6.5 .5,9 .5-13.5 .5,15.5 .5-18 .5-5 .5,15 .5-5.5 .5,2.5 .5,4 .5-12 .5,13 .5-12 .5,18 .5-23.5 .5,15.5 .5,7.5 .5-13 .5,1 .5,6 .5-11.5 .5,14.5 .5-22 .5,15 .5-7 .5,4.5 .5,8 .5-13 .5,12 .5-4.5 .5,2.5 .5-19.5 .5,5 .5,7 .5,0 .5,5 .5-13.5 .5,7 .5,3 .5,1 .5-2.5 .5-21.5 .5,22 .5-17.5 .5,6.5 .5-17 .5-11 .5,12 .5-16.5 .5-11 .5-14.5 .5-.5 .5-1 .5-10.5 .5-1.5 .5-.5 .5,3 .5,11.5 .5-1.5 .5,13 .5-2 .5,6 .5,15.5 .5,8 .5-3.5 .5-.5 .5,9.5 .5,20 .5-9.5 .5,6 .5,6.5 .5-7 .5,6.5 .5-6.5 .5,.5 .5,6 .5-3.5 .5-4.5 .5,13 .5-3.5 .5-9.5 .5,12.5 .5-3 .5-1.5 .5,11 .5-.5 .5-6.5 .5-10.5 .5,13 .5,2 .5-4 .5-12.5 .5,13 .5-4 .5,2.5 .5-6 .5,17 .5-8 .5-12 .5,15 .5-12.5 .5,7.5 .5-6 .5,16 .5-14.5 .5,2.5 .5,11 .5-11.5 .5,6 .5-16 .5,.5 .5,8 .5-1.5 .5-5.5 .5,9 .5-3 .5,10 .5-14 .5-2 .5,4.5 .5,1.5 .5,8 .5-1.5 .5-8.5 .5,16.5 .5-11 .5,6.5 .5-9.5 .5,9 .5-4.5 .5-6.5 .5,5.5 .5,11.5 .5-5.5 .5-11.5 .5,5 .5,5.5 .5,1 .5-14.5 .5,17.5 .5-13 .5,9 .5,0 .5-16.5 .5,10.5 .5-4.5 .5,9 .5-13 .5,18.5 .5-11 .5,9 .5-3.5 .5-3 .5-13.5 .5,15 .5,7.5 .5-8 .5,10 .5-10 .5,2 .5,.5 .5-1 .5-2 .5-8.5 .5,8.5 .5-3 .5-4.5 .5,6 .5-12.5 .5,10 .5,5.5 .5,2.5 .5-16.5 .5,10.5 .5-6 .5,3 .5,3 .5-2.5 .5-6 .5,4.5 .5,7 .5,9.5 .5-4 .5-11 .5,11 .5-10 .5-5 .5,4 .5-9.5 .5,11 .5,9 .5-12.5 .5,9.5 .5,7 .5-10 .5-11.5 .5,5.5 .5,2 .5,10 .5-20 .5,11.5 .5,.5 .5-2.5 .5,5.5 .5-5.5 .5,10 .5-3 .5,6 .5-11.5 .5,1.5 .5-6.5 .5,10 .5-5 .5,6 .5-12 .5,9 .5-4.5 .5,8 .5-9 .5,9.5 .5,8.5 .5-17.5 .5-.5 .5-4 .5,15 .5-8 .5,15 .5-12.5 .5-.5 .5,8.5 .5-5 .5-1 .5-3 .5,6 .5-10 .5,8 .5,7 .5-1.5 .5-.5 .5-5 .5,5 .5-7 .5,4.5 .5-13.5 .5,9.5 .5,1.5 .5,3 .5-13.5 .5,6 .5,13 .5-14 .5,6.5 .5-2 .5,9.5 .5-5.5 .5,5 .5-9 .5,3.5 .5,5.5 .5,2 .5,6 .5,0 .5-16 .5,14 .5-14 .5,7.5 .5-4 .5,8 .5-12.5 .5,2 .5,5 .5-13 .5,6 .5,9.5 .5-13 .5,6 .5,.5 .5,2.5 .5,13 .5-17 .5,14.5 .5-13.5 .5,14 .5-15 .5-3 .5,8.5 .5,1.5 .5,7.5 .5-4 .5-1.5 .5-3.5 .5,5.5 .5-5.5 .5,1.5 .5,2 .5-5 .5,6.5 .5-6.5 .5,13.5 .5,0 .5-2.5 .5-4.5 .5-.5 .5-1 .5-11.5 .5,9.5 .5-4.5 .5,9 .5-3 .5,12 .5,2 .5-12.5 .5,1.5 .5,2 .5-7 .5,1 .5,12.5 .5-4 .5-3.5 .5-4.5 .5,3.5 .5-11.5 .5,14 .5,1.5 .5,1 .5,8 .5-18 .5,9.5 .5,9 .5-10.5 .5,0 .5-7 .5,17.5 .5-9 .5,6.5 .5-18 .5,3.5 .5-3 .5,18 .5-13 .5,3.5 .5,3 .5-8.5 .5,6 .5-2 .5,12.5 .5-.5 .5-12 .5-9.5 .5,12 .5,5 .5,5 .5-14.5 .5,13.5 .5-4 .5-6 .5,6 .5-7 .5,5 .5-5.5 .5,15 .5-6.5 .5,1 .5-3 .5-4.5 .5,4 .5,6.5 .5-19 .5,19 .5,1.5 .5-7.5 .5-.5 .5-1.5 .5,4 .5,3 .5-18 .5-1 .5,16 .5-3.5 .5,2 .5,8.5 .5-16.5 .5,7.5 .5,6 .5-19.5 .5,7.5 .5,7 .5-7 .5,3 .5-5.5 .5,12.5 .5,3 .5-21 .5,18.5 .5-11.5 .5,1.5 .5-2 .5,6 .5-2 .5,4 .5-10.5 .5,5.5 .5,14.5 .5-15 .5,1.5 .5,.5 .5,11 .5-10.5 .5,3 .5,5 .5-9 .5-9.5 .5,15 .5-12 .5,0 .5-2 .5,5.5 .5,10 .5-3 .5,10 .5-8 .5-5.5 .5-3 .5,17 .5-7.5 .5-9 .5,7.5 .5-14.5 .5,15 .5-6 .5-3 .5,9 .5,2.5 .5,1 .5-9.5 .5-5 .5,14.5 .5-5 .5-9 .5,11.5 .5-7 .5,9 .5-6.5 .5,12.5 .5-10 .5-2.5 .5-5 .5,8 .5-2 .5,10 .5-11 .5-4 .5,12 .5,1.5 .5-2 .5-18 .5,7 .5,1.5 .5,1 .5,10 .5,1.5 .5-16 .5,5.5 .5,3.5 .5-10 .5,7.5 .5-6.5 .5,10.5 .5-6 .5,7 .5-3 .5-1 .5,0 .5,9 .5,1 .5-7.5 .5-4.5 .5,4 .5,2 .5-5.5 .5-1.5 .5-3 .5,2.5 .5,10 .5-13 .5,13.5 .5-.5 .5-2.5 .5-2 .5-2 .5-8.5 .5,15 .5-3.5 .5-3.5 .5-9 .5,10.5 .5-2 .5,9.5 .5,3.5 .5-15.5 .5,14 .5-11.5 .5-4.5 .5,8 .5-10.5 .5-2.5 .5,1.5 .5,19.5 .5-7 .5-7 .5,8.5 .5,2.5 .5-3.5 .5-7.5 .5,9 .5-1 .5-9 .5,4 .5,0 .5-5 .5,2 .5,13 .5-7.5 .5-4 .5,8 .5-1.5 .5,2.5 .5,1 .5-13.5 .5,5.5 .5-1.5 .5,6.5 .5,1 .5-3.5 .5,7 .5-8.5 .5-10.5 .5,17 .5-2.5 .5-3 .5-5.5 .5,3 .5-4.5 .5,1 .5,2.5 .5,12.5 .5-6.5 .5-8.5 .5,6.5 .5,.5 .5,1 .5,5.5 .5-8 .5,12.5 .5-4.5 .5-5 .5-2 .5,0 .5,0 .5-4 .5,3.5 .5-5.5 .5,8.5 .5-7.5 .5,6 .5,1.5 .5,0 .5,.5 .5-4 .5-2.5 .5,6.5 .5,0 .5-8 .5,11.5 .5-6 .5,4.5 .5-12 .5,5 .5,0 .5,0 .5,14 .5-13 .5,3.5 .5,1 .5-7 .5,8 .5-11.5 .5,1.5 .5,5.5 .5-6.5 .5,.5 .5,8 .5,2.5 .5-14.5 .5,5.5 .5,4 .5-6 .5,6 .5,7 .5-5 .5,2.5 .5,5.5 .5-11 .5,5.5 .5-4.5 .5,9.5 .5,4 .5-18.5 .5-2 .5,16.5 .5-11 .5,8 .5-2 .5-13.5 .5,14.5 .5-1 .5,7 .5-16.5 .5,2 .5,11.5 .5-4 .5,0 .5,8.5 .5-18 .5,9 .5,5.5 .5-7 .5,1.5 .5,3.5 .5,3.5 .5,0 .5,2.5 .5-15.5 .5,3 .5,11 .5-10 .5-4 .5,5.5 .5,2 .5-7 .5,8.5 .5-5 .5-1.5 .5-.5 .5,2 .5,12.5 .5-5.5 .5,4.5 .5-13 .5,6.5 .5-7 .5-1 .5,2 .5,7 .5-15 .5,6.5 .5,14.5 .5,0 .5-7.5 .5,7 .5,1.5 .5-19 .5,19 .5-5.5 .5-1 .5-8.5 .5-3 .5,1 .5,11.5 .5-5 .5-12 .5,5 .5,10.5 .5,0 .5-10 .5,11 .5,0 .5-2.5 .5,2 .5-1.5 .5-10.5 .5-3.5 .5,12.5 .5-1.5 .5-5 .5,4 .5,6.5 .5-11.5 .5,7.5 .5-5.5 .5,4.5 .5,0 .5-4.5 .5,4.5 .5,6 .5,.5 .5-13.5 .5,16 .5-12.5 .5,8.5 .5,2 .5-3.5 .5,3 .5-4 .5,7 .5-12 .5,.5 .5-8 .5,8.5 .5-7 .5,18 .5-14 .5,2 .5,4 .5,5.5 .5-4 .5-9 .5,13.5 .5,.5 .5-10.5 .5-1.5 .5-1.5 .5,2 .5,0 .5,15 .5-18.5 .5,15 .5-5 .5,6.5 .5-16.5 .5,18.5 .5-19 .5,6 .5,4.5 .5-4 .5-4 .5,17 .5-10 .5,2 .5-7.5 .5-1 .5,16.5 .5-19.5 .5,4.5 .5,10 .5-4.5 .5-4.5 .5,6 .5,2.5 .5,1 .5-5.5 .5-2.5 .5,9 .5-11 .5-1 .5,3.5 .5,0 .5,.5 .5-1.5 .5,7.5 .5-5 .5-8 .5-.5 .5,8.5 .5,1 .5-2.5 .5,2.5 .5,4 .5-1 .5,2 .5-15 .5,10.5 .5-10.5 .5-1 .5,12 .5-4.5 .5,5.5 .5,3 .5-10 .5,7 .5-7.5 .5,8 .5-1 .5-6 .5,12.5 .5-11 .5-10.5 .5,10.5 .5-2 .5,9 .5-2 .5,0 .5,3 .5,.5 .5-9 .5-4 .5-7 .5,5.5 .5,6.5 .5,4.5 .5,2 .5-14 .5,8.5 .5,5 .5-11 .5-1.5 .5,2 .5,5.5 .5-6.5 .5,8 .5-2 .5,4.5 .5,3.5 .5-11 .5,2 .5,7 .5-2 .5-5 .5-4.5 .5-7.5 .5,13.5 .5-6 .5-6.5 .5-2.5 .5,10.5 .5-9.5 .5,12 .5,5.5 .5-6 .5-1.5 .5,0 .5,4.5 .5,0 .5-6.5 .5-6 .5,12.5 .5-5.5 .5,11 .5-10.5 .5,5 .5,.5 .5-7 .5,.5 .5-3 .5,13.5 .5-4.5 .5-10.5 .5-2.5 .5,6 .5-6.5 .5,6.5 .5,0 .5,4.5 .5,5 .5-20 .5,8 .5-4 .5,8.5 .5-5.5 .5,9.5 .5-2 .5-14 .5,13 .5-.5 .5,4 .5-2.5 .5-1.5 .5-3 .5-9.5 .5-1.5 .5,21.5 .5-8.5 .5,1 .5-.5 .5-6 .5,7 .5,0 .5-2.5 .5-2 .5,4.5 .5-7.5 .5,10 .5-2 .5-3.5 .5-5 .5,10.5 .5-3 .5-3 .5-5.5 .5,5.5 .5-7 .5,5 .5,2 .5,4.5 .5-11 .5,6 .5-12 .5,19 .5-11.5 .5-4.5 .5,10.5 .5-8 .5-7 .5,0 .5,11.5 .5-9.5 .5-11 .5,3 .5,7 .5-13 .5,1.5 .5-3.5 .5-5 .5-7 .5,3.5 .5-5 .5,1.5 .5-.5 .5,1 .5,4 .5-2 .5,10 .5-11 .5,2.5 .5,18.5 .5-.5 .5-.5 .5-3 .5,14.5 .5,.5 .5-8 .5,6.5 .5-4 .5,11.5 .5,4.5 .5,2.5 .5-7 .5-9.5 .5,15 .5-2.5 .5-3.5 .5,4 .5-9.5 .5,6.5 .5,8 .5-3.5 .5,4 .5-15.5 .5,19 .5-2 .5-8 .5-3.5 .5,3 .5,7 .5-6.5 .5,4 .5-.5 .5-6.5 .5,0 .5,12 .5-3.5 .5,2.5 .5-6.5 .5-6 .5,13 .5,1 .5-9 .5-3.5 .5,12.5 .5-13 .5,2 .5,3 .5,0 .5,0 .5-8 .5,12 .5-2 .5,8 .5-9 .5-4.5 .5,9 .5-6.5 .5,7 .5,2.5 .5-15.5 .5,4 .5,4.5 .5-5 .5,6.5 .5,2.5 .5,1 .5,1.5 .5,.5 .5-5.5 .5-4.5 .5,1.5 .5-3 .5,11 .5-6.5 .5-4.5 .5,0 .5,9.5 .5,1.5 .5-7 .5,4.5 .5,5 .5,3.5 .5-6 .5-6.5 .5,6.5 .5,5 .5-16 .5,12 .5,1 .5-7 .5,2.5 .5,3.5 .5,4 .5-5.5 .5-11 .5,14 .5-4.5 .5-2.5 .5,4 .5-.5 .5,2 .5-.5 .5-5 .5,13 .5-8.5 .5-2.5 .5,3 .5-8.5 .5,6.5 .5,1 .5-3 .5-4 .5,7.5 .5,9.5 .5-19 .5,7.5 .5,1.5 .5-1 .5,7.5 .5-11 .5,5 .5,3.5 .5-12 .5,13.5 .5,3.5 .5-6 .5-.5 .5-10 .5,11 .5-1 .5,2.5 .5-1 .5,1.5 .5-3.5 .5-4 .5,6.5 .5-9 .5,10 .5,3 .5,1 .5-10 .5,10.5 .5-10.5 .5,4.5 .5-6 .5,12 .5-5 .5-4 .5,.5 .5-1.5 .5,4 .5-2.5 .5,2.5 .5,.5 .5,6.5 .5-6.5 .5-2 .5,6 .5-5.5 .5-6.5 .5,16.5 .5-11 .5,4 .5-6 .5,9 .5-13 .5,8.5 .5,7.5 .5-12.5 .5,6.5 .5-2 .5-5.5 .5,11 .5,0 .5-6.5 .5,1 .5-5 .5,4.5 .5,6.5 .5-5 .5,9 .5-10 .5,.5 .5,1.5 .5,0 .5-1.5 .5,5.5 .5-4.5 .5,1.5 .5-1.5 .5,8.5 .5-15.5 .5,3.5 .5,8 .5-7.5 .5,5 .5-7.5 .5,1 .5,2.5 .5,2.5 .5-3.5 .5,5.5 .5-2.5 .5-4.5 .5,5.5 .5,0 .5,1.5 .5-.5 .5,0 .5-.5 .5-5 .5,1 .5,4 .5-2 .5,8 .5-10 .5,7 .5-8.5 .5,4 .5,6 .5-7.5 .5,4.5 .5-1.5 .5,8 .5-11 .5,2.5 .5,.5 .5-5 .5,4 .5-3.5 .5,4.5 .5-3 .5,1.5 .5-4 .5,4.5 .5,6.5 .5-.5 .5-7 .5-3 .5,2 .5,2.5 .5,5 .5-1 .5-7 .5,3 .5,9 .5-6.5 .5-2 .5-3.5 .5,7 .5-1 .5,4 .5-7.5 .5,2.5 .5,2.5 .5-2.5 .5,2.5 .5,1.5 .5-1.5 .5-2.5 .5,4 .5-9.5 .5,7 .5-8 .5,9.5 .5,2 .5-9 .5,5.5 .5-1.5 .5-3 .5,0 .5,5.5 .5,3 .5-9.5 .5,3 .5-4.5 .5,4.5 .5,2 .5,1 .5-5 .5,11 .5-6.5 .5-.5 .5-1.5 .5,6.5 .5-1 .5-1 .5,1 .5-9 .5,5 .5,7.5 .5-15 .5,5.5 .5,1 .5-5.5 .5,.5 .5,2.5 .5-5.5 .5,9.5 .5-6.5 .5,11.5 .5,.5 .5-5 .5-1 .5-6 .5,5 .5,5.5 .5-1.5 .5-5.5 .5,3 .5-8.5 .5,7 .5,3 .5-7 .5,1 .5,11.5 .5-11 .5,4.5 .5,1.5 .5,4 .5-7 .5,6 .5-10 .5,0 .5,7.5 .5,4 .5-3.5 .5,3 .5-9.5 .5-1.5 .5,5.5 .5-5.5 .5,5 .5-9 .5,5.5 .5,10.5 .5-6 .5,1.5 .5-5 .5,2 .5,0 .5-.5 .5-2.5 .5-4 .5,12.5 .5-5 .5-6 .5,6.5 .5-1 .5-4.5 .5,7.5 .5,5 .5-6.5 .5-1.5 .5-1 .5,5 .5-7.5 .5,5.5 .5,2.5 .5-4 .5,1 .5-3.5 .5,5 .5,3.5 .5-9.5 .5,2 .5,4 .5-3.5 .5,5 .5,2 .5-4.5 .5,.5 .5,5 .5-6.5 .5,1 .5,6 .5-7 .5,1 .5-2 .5-4 .5,3.5 .5,10.5 .5-11 .5,4.5 .5-6 .5,9.5 .5-3 .5-4.5 .5,8 .5-2 .5-4 .5,1 .5,2.5 .5-6.5 .5,2 .5-4.5 .5,4 .5,8.5 .5-2.5 .5-5.5 .5,8.5 .5-2 .5-6.5 .5-6 .5,10 .5-1.5 .5,1.5 .5,2 .5-6 .5-1.5 .5,6 .5-1 .5-3 .5,5 .5,4 .5-6 .5-6 .5,5 .5-2 .5,5 .5-8.5 .5,4 .5,5 .5,1 .5-9.5 .5,2 .5,11 .5-7 .5-.5 .5-4.5 .5,2 .5,7.5 .5-9 .5,12.5 .5-3 .5-4.5 .5-3.5 .5,0 .5,10 .5-8 .5-2 .5-5 .5,4 .5,8 .5,.5 .5-5 .5,2.5 .5,1 .5,.5 .5-1 .5,2 .5,1.5 .5-10.5 .5,2.5 .5,1.5 .5,1 .5-6 .5,2.5 .5,4 .5,3.5 .5-2 .5-1.5 .5-8.5 .5,12 .5,1.5 .5-2.5 .5-4.5 .5,1 .5-6 .5,3.5 .5-1 .5,.5 .5,3 .5,.5 .5-1.5 .5,.5 .5,7 .5-3 .5,5 .5-8.5 .5,2.5 .5-2 .5-6 .5,2 .5,1.5 .5,2 .5-5.5 .5,8.5 .5-2.5 .5-1 .5,10 .5-1.5 .5-8 .5,0 .5,6.5 .5-10.5 .5,10 .5-2 .5-5.5 .5,5 .5-7 .5,2 .5-3 .5,8 .5,3.5 .5-10.5 .5,2.5 .5,2 .5,1.5 .5,6.5 .5-11.5 .5,9.5 .5,1.5 .5-2 .5-6 .5,6 .5-4 .5-9 .5,9 .5-6 .5-2 .5-.5 .5,7.5 .5-1 .5-5.5 .5,5 .5-2 .5,5 .5-9 .5,4.5 .5-9 .5,13.5 .5,0 .5-16 .5,.5 .5,2 .5,6.5 .5-13 .5,9 .5-15.5 .5,5 .5-9.5 .5,9 .5-10 .5,7.5 .5-8 .5,.5 .5-4 .5,1 .5,0 .5,0 .5,2.5 .5-2.5 .5,10.5 .5-4.5 .5-1 .5-1.5 .5,6.5 .5,9.5 .5-8 .5,5.5 .5,7.5 .5,.5 .5-1.5 .5-2.5 .5,6.5 .5-4 .5,3 .5,2.5 .5-5.5 .5,10 .5,2 .5-11.5 .5,3 .5-1 .5,6.5 .5-.5 .5-4 .5,9 .5,2.5 .5-13 .5,6.5 .5,6 .5-6.5 .5-6 .5,3.5 .5,1 .5-3 .5,9.5 .5-.5 .5-3 .5,1 .5,2.5 .5-2 .5-1 .5,1 .5-6.5 .5,2.5 .5,3.5 .5,4 .5-9.5 .5,4 .5,2.5 .5,1 .5,.5 .5,2.5 .5-5 .5-8 .5,4 .5-1 .5,3 .5,5 .5-6.5 .5,1.5 .5,1 .5-2 .5,0 .5-2 .5-3.5 .5,15.5 .5-7 .5-7.5 .5,11.5 .5-8.5 .5-2 .5,7 .5,3.5 .5-4.5 .5-4.5 .5,9 .5-10 .5,11 .5-8.5 .5,1 .5,4 .5,0 .5-7 .5,12 .5-12.5 .5,5.5 .5,2.5 .5,2.5 .5-1.5 .5,2 .5-1 .5-4.5 .5-2 .5,10 .5-13.5 .5,9 .5-3 .5,1.5 .5-2.5 .5,6.5 .5-13 .5,7 .5-1.5 .5,1.5 .5,8.5 .5-9 .5-1 .5,3 .5-8 .5,1 .5,7 .5,.5 .5-4.5 .5,1.5 .5-.5 .5-1.5 .5,3 .5-6 .5,6 .5,5.5 .5-7 .5,3 .5-2 .5-.5 .5-3.5 .5,11 .5-1 .5-9.5 .5,10 .5-3.5 .5-.5 .5-5 .5,7.5 .5,3.5 .5-4.5 .5-4.5 .5,1 .5-2.5 .5,1 .5,4.5 .5,2 .5-2.5 .5,.5 .5,3.5 .5-3.5 .5-6 .5,2.5 .5,5.5 .5-3 .5,3 .5-9 .5,2 .5-1 .5,8 .5-1 .5-7 .5,6 .5,1 .5-2.5 .5-4.5 .5-1.5 .5,5 .5-9.5 .5,9.5 .5-2.5 .5-2.5 .5-8.5 .5,9.5 .5-5.5 .5,.5 .5,0 .5-.5 .5-1.5 .5-.5 .5,9.5 .5-3.5 .5,8 .5-4.5 .5,.5 .5,7.5 .5-4 .5-.5 .5-3 .5,2 .5,3.5 .5-10 .5,11 .5-5.5 .5,6.5 .5-3.5 .5-3 .5,1.5 .5-3 .5-.5 .5,3.5 .5,.5 .5,7.5 .5-10.5 .5,6 .5-7.5 .5,12 .5-12 .5,13.5 .5,0 .5-2.5 .5-8.5 .5,2 .5,0 .5,1 .5,.5 .5-2 .5,8 .5-.5 .5-5 .5-.5 .5,3 .5-3.5 .5,3 .5-5 .5-5 .5,1 .5,1 .5,13 .5-6 .5,3.5 .5-5.5 .5-4.5 .5,2.5 .5-3 .5,9 .5-1.5 .5-8.5 .5,7 .5,3 .5-4 .5,.5 .5-4.5 .5,1 .5,3.5 .5-7 .5,10.5 .5-10.5 .5,6.5 .5-2 .5,1.5 .5,5.5 .5-3.5 .5-1 .5-3.5 .5,3.5 .5-3 .5,6.5 .5-1.5 .5,2 .5,1 .5-2.5 .5-2 .5,.5 .5-5 .5-1 .5,8.5 .5-5.5 .5,0 .5,.5 .5,7 .5-11.5 .5,2.5 .5,6.5 .5-3 .5,4.5 .5-5.5 .5,1.5 .5,1.5 .5,3.5 .5,2 .5-6.5 .5,4 .5-1.5 .5-3.5 .5-2.5 .5,1.5 .5,3 .5-7 .5,2 .5-.5 .5,6 .5-4.5 .5,.5 .5,1.5 .5-1 .5,6 .5,2 .5-6.5 .5-3.5 .5,6 .5-5 .5,8.5 .5,0 .5-4 .5-.5 .5,2.5 .5,3 .5-4 .5-9 .5,5.5 .5,3.5 .5-6 .5,6 .5-1 .5-.5 .5,.5 .5,5.5 .5-5 .5-8.5 .5,6 .5,5.5 .5-11.5 .5,12.5 .5-1.5 .5-3.5 .5-1.5 .5,4.5 .5,0 .5-3.5 .5,3.5 .5,0 .5-2 .5,7 .5,0 .5-15 .5,10.5 .5-3.5 .5-3.5 .5,7 .5-10.5 .5,9.5 .5-.5 .5,1 .5-4 .5-2 .5,.5 .5-1 .5,1.5 .5,6.5 .5-8 .5,1.5 .5,5 .5-4 .5,8.5 .5-5 .5,2 .5,1 .5-4.5 .5,7 .5-7 .5,1.5 .5,3.5 .5-7.5 .5,5.5 .5-10.5 .5,5 .5,3 .5-1.5 .5,4 .5,.5 .5-5.5 .5,2 .5,.5 .5,1 .5,2 .5-9 .5,10 .5-2.5 .5-3.5 .5,3 .5,1 .5-5 .5,0 .5,7.5 .5-7.5 .5,10 .5-7 .5-.5 .5,6 .5-4 .5,1.5 .5-9.5 .5,5.5 .5-6 .5,8 .5-2 .5,0 .5,7 .5-6.5 .5,1 .5,6 .5-4 .5,0 .5-2 .5-7.5 .5,6.5 .5,.5 .5,1.5 .5-1.5 .5,3 .5-6 .5,2.5 .5-6.5 .5,5.5 .5-3.5 .5-1 .5,7.5 .5-1.5 .5-2.5 .5,4.5 .5-4 .5-.5 .5,6 .5-5 .5,3 .5,6 .5-2.5 .5-3 .5,.5 .5,.5 .5-2 .5-7.5 .5,11 .5-7.5 .5,9.5 .5-6 .5,.5 .5,1.5 .5-1 .5,0 .5-4.5 .5,.5 .5,7.5 .5-5 .5-4.5 .5,7.5 .5-2.5 .5,.5 .5,2 .5,1.5 .5-4.5 .5-1 .5-5 .5,11.5 .5-7.5 .5,2.5 .5,5 .5-5.5 .5-6 .5,8 .5-2 .5-.5 .5-2 .5,1 .5,2.5 .5-5.5 .5,3 .5-4 .5,4.5 .5-5 .5,14.5 .5-11 .5,2.5 .5,1.5 .5-2 .5,4 .5-4 .5,5.5 .5-10.5 .5,7 .5-1 .5,5.5 .5-7 .5-3 .5,3.5 .5,3 .5-1.5 .5,2.5 .5,1 .5-3 .5-.5 .5,2.5 .5-7 .5,5.5 .5,0 .5,.5 .5-4.5 .5,1 .5-1.5" fill="none" stroke="#000" stroke-width="3" stroke-linejoin="miter" stroke-miterlimit="2"/>
<path d="M173,2439.5l.5-5.5 .5,15.5 .5-15 .5,2.5 .5,11 .5-18 .5,2.5 .5,5.5 .5-3.5 .5-6.5 .5,7.5 .5-1 .5,7 .5-16.5 .5,7 .5,13.5 .5,5 .5-24 .5,15.5 .5-11.5 .5,1 .5,0 .5,3.5 .5,10 .5-2 .5-4.5 .5-3 .5,3 .5-1 .5,6.5 .5-10 .5,4.5 .5-.5 .5,.5 .5,2 .5,0 .5,8 .5-10 .5,12 .5-13.5 .5-1 .5,4.5 .5,1.5 .5-.5 .5,7.5 .5-1 .5-4.5 .5-6 .5,2 .5,11 .5-8.5 .5-11 .5,4.5 .5,1 .5,12.5 .5-9 .5,14 .5-8.5 .5-3.5 .5-4 .5,10.5 .5-9 .5-4 .5,10 .5-4 .5,9 .5-9 .5-12.5 .5,18.5 .5-18.5 .5,24 .5,2 .5-16 .5-5 .5-1.5 .5,16.5 .5-8 .5-2.5 .5,2.5 .5,15 .5-10.5 .5,3 .5,.5 .5,1.5 .5,.5 .5-12.5 .5,3.5 .5-4 .5,.5 .5,13.5 .5-11.5 .5,3 .5-4.5 .5,1 .5,10 .5-9 .5,0 .5,7 .5,0 .5,2.5 .5-4.5 .5-13.5 .5,17 .5-1 .5,4 .5-13.5 .5,19.5 .5-22 .5,14.5 .5-5 .5-4 .5,9.5 .5-7.5 .5-11 .5,4.5 .5,12 .5,9.5 .5-23.5 .5,11 .5,10.5 .5-6 .5-7 .5-7.5 .5-2.5 .5,7.5 .5,3 .5-10.5 .5,1 .5,14.5 .5-5 .5-2.5 .5,2.5 .5-2.5 .5,12.5 .5,5.5 .5,1 .5-7.5 .5,0 .5,5.5 .5,2 .5-2 .5-1.5 .5-13.5 .5-6.5 .5,17.5 .5-6.5 .5,0 .5-5.5 .5-3 .5,19.5 .5-6.5 .5-11 .5,10.5 .5-.5 .5,1.5 .5,9.5 .5-13 .5-9 .5,9.5 .5-5 .5,9 .5-2.5 .5,1 .5-6.5 .5,7.5 .5-7 .5,7.5 .5-5.5 .5-6 .5,12 .5-8.5 .5,15.5 .5-7.5 .5,.5 .5-2.5 .5-1 .5-12.5 .5,22 .5-14.5 .5,12.5 .5-11.5 .5,4 .5-.5 .5-6 .5,6.5 .5,4.5 .5-6 .5-6 .5,5 .5,6 .5,6.5 .5-2 .5-4 .5-9 .5,13.5 .5-6 .5-2 .5,8.5 .5-2 .5-1 .5-11.5 .5,4 .5-8 .5,14 .5-1.5 .5,7 .5-5.5 .5-4 .5,16 .5-20.5 .5-2 .5,5 .5,8.5 .5-6 .5-1 .5-4.5 .5,18.5 .5-15 .5-3 .5,7 .5-5 .5,4.5 .5,11 .5-12.5 .5,3 .5-2.5 .5,1.5 .5,7.5 .5-2 .5-6 .5-4.5 .5,6 .5,7 .5-6 .5-1 .5-11.5 .5,20 .5-18 .5,2 .5,6.5 .5,3 .5,0 .5-5.5 .5,3 .5-2 .5-8.5 .5,11.5 .5-3.5 .5,8.5 .5-4 .5,8 .5-2 .5,1.5 .5,2.5 .5-3.5 .5-6.5 .5,11 .5-16 .5,6.5 .5,6.5 .5-8.5 .5,7.5 .5-11 .5,2 .5,8 .5,1 .5,4 .5-9.5 .5,3 .5,2.5 .5-1 .5-13 .5,5.5 .5,14.5 .5-19.5 .5,13.5 .5-7.5 .5,10.5 .5-13 .5,6 .5-13 .5,12.5 .5,8 .5-18.5 .5,19.5 .5-13.5 .5,4.5 .5-12.5 .5,21 .5-14.5 .5,2.5 .5-5 .5,2 .5,15 .5-12 .5,10.5 .5-8 .5,4 .5-6.5 .5,7 .5,9.5 .5-8 .5-1.5 .5-7 .5,10.5 .5,2.5 .5-22 .5,2.5 .5,22.5 .5-10 .5-2 .5,3 .5,3.5 .5-2 .5-7.5 .5,14.5 .5-13 .5-6.5 .5,2 .5,3 .5-2 .5,1.5 .5,3 .5-15 .5,7 .5,12 .5-3 .5-9 .5,0 .5,12.5 .5-10.5 .5-2 .5,16.5 .5-16 .5,7 .5-5.5 .5,0 .5-7.5 .5,0 .5,14.5 .5-18 .5,9.5 .5-11.5 .5,6 .5,0 .5-12.5 .5,18 .5-11 .5,7.5 .5-18.5 .5,9.5 .5,2 .5-17.5 .5-13.5 .5-1 .5-14 .5-16 .5-16 .5-22.5 .5-15.5 .5-31.5 .5-32.5 .5-19.5 .5-41 .5-21 .5-50.5 .5-38 .5-31 .5-22.5 .5-26 .5-13 .5-3.5 .5,3.5 .5,20.5 .5,17.5 .5,20 .5,51 .5,22 .5,30 .5,42.5 .5,43 .5,27 .5,30 .5,32.5 .5,11.5 .5,20.5 .5,12 .5,5 .5,20.5 .5,21.5 .5-16.5 .5,28 .5-3.5 .5-5 .5,10 .5,14.5 .5-15 .5,11 .5,3.5 .5-13.5 .5,11.5 .5,0 .5-7 .5,8.5 .5-7.5 .5-1.5 .5-5 .5,11.5 .5-6 .5-1.5 .5-5 .5-2.5 .5,2.5 .5,9.5 .5-13.5 .5,13.5 .5-11 .5-6.5 .5-15.5 .5,14.5 .5-32 .5,3.5 .5-4.5 .5-28.5 .5-20.5 .5-14.5 .5-14.5 .5-19.5 .5-29 .5-36 .5-20 .5-15.5 .5-26 .5-8 .5-6.5 .5-3.5 .5,6 .5,5.5 .5,17.5 .5,21 .5,11.5 .5,33.5 .5,34 .5,19 .5,21.5 .5,9.5 .5,23 .5,18.5 .5,17.5 .5,16.5 .5-7 .5,27.5 .5-8 .5,5.5 .5-2.5 .5,11.5 .5,1 .5-5 .5,8.5 .5,4 .5-3 .5,9.5 .5-12 .5,14 .5-7 .5,4.5 .5-15.5 .5,14 .5-1 .5,7.5 .5-15 .5,18.5 .5-17.5 .5,17.5 .5-5 .5-9.5 .5,18.5 .5-21.5 .5,7.5 .5,3 .5,2.5 .5-2 .5,4 .5-2 .5-3 .5-7 .5,4.5 .5,9 .5-14.5 .5,9 .5-13.5 .5,8 .5-6.5 .5,21 .5-22 .5,11.5 .5,7 .5-.5 .5,1 .5,2.5 .5-4 .5,2.5 .5-6 .5,0 .5-12 .5,14 .5,8 .5-14.5 .5-3 .5,9 .5,8 .5,.5 .5-19.5 .5,14.5 .5-8 .5,7 .5-15 .5,19.5 .5-9 .5,4 .5-2.5 .5-6 .5,11.5 .5-7.5 .5-1 .5,9.5 .5-5 .5-4.5 .5,12 .5-11 .5,4 .5,6 .5,1.5 .5,2 .5,3 .5-11.5 .5-5.5 .5,17.5 .5-1.5 .5-12.5 .5,7.5 .5-7.5 .5-8.5 .5,19 .5-5 .5-1.5 .5,11.5 .5-2 .5-14.5 .5-3.5 .5-5 .5,13.5 .5-3 .5,5.5 .5-2.5 .5-4.5 .5,2 .5-8.5 .5,20.5 .5-12.5 .5,8 .5-9 .5,5.5 .5,4 .5-6 .5-4 .5,19 .5-14.5 .5,6 .5-4.5 .5-5 .5,15 .5-6.5 .5,0 .5-15.5 .5,15 .5,4.5 .5-4 .5-3 .5,9.5 .5-6.5 .5,2.5 .5,3.5 .5,0 .5-17 .5,12 .5-7.5 .5-7.5 .5,15 .5-14.5 .5,9.5 .5-9.5 .5,5.5 .5,4.5 .5,3.5 .5-4 .5-2.5 .5,0 .5,18 .5-14.5 .5,3 .5,13.5 .5-25.5 .5,0 .5,5.5 .5,4.5 .5-5 .5,8 .5,0 .5-10.5 .5,12.5 .5-11.5 .5,15.5 .5-3.5 .5,11.5 .5-7 .5-7.5 .5,4.5 .5-1.5 .5-6.5 .5-5 .5,18.5 .5,3 .5-14 .5,1.5 .5-1.5 .5,11 .5,1.5 .5-15 .5,4 .5-1.5 .5,5.5 .5,4 .5,2.5 .5-10 .5-5 .5,11 .5,.5 .5-6.5 .5,3.5 .5,1.5 .5,4 .5-6 .5,3 .5-2 .5-8 .5,12 .5-4.5 .5,7 .5-16 .5,3.5 .5,7.5 .5-14.5 .5,11.5 .5-2.5 .5,.5 .5,1 .5-11 .5,13.5 .5,0 .5,7 .5,3 .5-8 .5,4.5 .5-19.5 .5,17 .5,4 .5-2 .5-4.5 .5-4 .5,0 .5,3 .5,2.5 .5,1.5 .5-5 .5-8.5 .5,22.5 .5-19.5 .5-6.5 .5,23 .5-3 .5-5.5 .5,5.5 .5-3.5 .5-9.5 .5,7 .5-9.5 .5,4 .5-1.5 .5,7.5 .5,6.5 .5-12.5 .5,8 .5-16 .5,5 .5,12 .5,3 .5,0 .5,.5 .5-19.5 .5,8.5 .5-9.5 .5,12 .5,2.5 .5-4 .5-4 .5,9.5 .5,1 .5-3 .5-5.5 .5,5 .5,0 .5,1.5 .5,2.5 .5-5 .5-10 .5,8 .5,4.5 .5-5.5 .5,4.5 .5-6.5 .5,14.5 .5-7 .5-2 .5,4 .5,0 .5-5 .5,6 .5-2.5 .5-3.5 .5-2 .5-8.5 .5,9 .5-.5 .5-8 .5,15 .5-11 .5-9 .5,3 .5,.5 .5-2.5 .5-8.5 .5,1.5 .5-16 .5,1 .5-1.5 .5-16.5 .5,0 .5-9.5 .5-21 .5-18.5 .5,7 .5-9 .5-11.5 .5,0 .5,2 .5,0 .5,11 .5,21 .5,4 .5,10 .5,18.5 .5-3 .5,0 .5,30 .5-8.5 .5,10.5 .5,13 .5-3 .5,2 .5-3.5 .5,10.5 .5,9.5 .5-15.5 .5-3 .5,11 .5-7 .5,6.5 .5,0 .5,3.5 .5-1.5 .5,1 .5,7 .5-15.5 .5,7.5 .5,2 .5-10.5 .5,2 .5,4.5 .5-1 .5,12 .5-7 .5,11.5 .5-15 .5,.5 .5,15 .5-16 .5,16.5 .5-25.5 .5,8.5 .5,15 .5,1.5 .5-8 .5-8 .5,4 .5,6.5 .5-3 .5,5 .5-12 .5,11 .5,3.5 .5,3.5 .5-7 .5,0 .5-11 .5-3.5 .5-3.5 .5,17 .5,9 .5-13 .5-12.5 .5,15 .5-2.5 .5-1 .5,15 .5-3.5 .5,2 .5-16 .5,8.5 .5-10.5 .5,16 .5-16 .5,17.5 .5-7.5 .5,0 .5-11.5 .5,15.5 .5-18 .5,4 .5,2.5 .5,19 .5-11 .5-5.5 .5,8.5 .5,8.5 .5-13 .5-6.5 .5,0 .5,7.5 .5,12.5 .5-13 .5-.5 .5-5 .5-1 .5,15.5 .5-4.5 .5,.5 .5-12.5 .5,13.5 .5-1.5 .5,9 .5-3.5 .5-9 .5,4 .5,.5 .5-3 .5-5.5 .5,13 .5,6 .5-13 .5,12.5 .5-14 .5,0 .5,2.5 .5-2 .5,9.5 .5,1.5 .5-21.5 .5,19 .5-3 .5,10 .5-18.5 .5,7 .5,8 .5-2 .5,4.5 .5-16.5 .5,1 .5,9 .5-13.5 .5,13 .5,3.5 .5-4 .5-12 .5,5.5 .5,2 .5,5.5 .5-1 .5-5 .5-8.5 .5-1 .5,5.5 .5,0 .5,3 .5-3 .5,6.5 .5-3 .5,6 .5-1.5 .5,4.5 .5-11 .5,.5 .5-1.5 .5,9 .5,4.5 .5,3 .5-7 .5-2 .5,6.5 .5-5.5 .5-6.5 .5,12.5 .5-8.5 .5-7 .5,9 .5-4.5 .5,6 .5-5 .5,3 .5-2 .5,3.5 .5,5.5 .5-2.5 .5-1.5 .5,7.5 .5-17 .5,11 .5,7 .5-4 .5,4 .5-14.5 .5,15 .5-13 .5,13 .5-6 .5,4.5 .5-11.5 .5,4 .5-11 .5,15.5 .5,2.5 .5-2.5 .5,5.5 .5-3.5 .5-3 .5,3 .5-8 .5,10.5 .5-4.5 .5,.5 .5-3 .5-3 .5-3 .5,5 .5,6.5 .5-18 .5,13 .5,10.5 .5-11.5 .5-4 .5,2.5 .5-5 .5-.5 .5-1.5 .5-2.5 .5,.5 .5,1 .5,4.5 .5-1 .5,8 .5-4.5 .5,13 .5-2 .5,2.5 .5-9 .5-9.5 .5,9 .5,6.5 .5-2.5 .5-5 .5-1 .5-3 .5,5.5 .5,7.5 .5,.5 .5,0 .5-6 .5,3 .5-1.5 .5,3 .5-.5 .5,2 .5-5 .5,.5 .5,10.5 .5-1 .5-22 .5,15.5 .5,0 .5,3.5 .5-19 .5,1.5 .5,8.5 .5,4 .5-8.5 .5,15.5 .5-.5 .5-2.5 .5,1.5 .5-14 .5,7 .5-11.5 .5,19.5 .5,1.5 .5-5.5 .5-9.5 .5,7.5 .5,6.5 .5-15.5 .5,10.5 .5,3.5 .5-10.5 .5,1.5 .5,12.5 .5-3 .5,4.5 .5-8 .5-8.5 .5,6.5 .5-4 .5,2.5 .5,5 .5,7 .5-9.5 .5,11.5 .5-21.5 .5,7.5 .5,1.5 .5-13 .5,1.5 .5,9 .5,3 .5,2 .5-2.5 .5-2.5 .5-7.5 .5,9.5 .5,11 .5-8 .5-8 .5,5.5 .5,2 .5,5.5 .5-12.5 .5,7 .5,.5 .5-6 .5,1.5 .5-2.5 .5,3.5 .5,1 .5-10.5 .5,7.5 .5,11.5 .5-10.5 .5-13 .5,23 .5-12 .5,2.5 .5,2.5 .5-6.5 .5-4.5 .5,2 .5,7 .5-2 .5-2 .5,14 .5-10.5 .5,5 .5,5.5 .5-11.5 .5-4 .5,1 .5,2.5 .5,11.5 .5-5 .5-9 .5-2.5 .5,9 .5,7 .5-16.5 .5,15 .5-8.5 .5-2.5 .5-2 .5-3 .5,1.5 .5,12 .5-18.5 .5,6.5 .5,2.5 .5-7.5 .5,4.5 .5-6.5 .5,14 .5,0 .5-14 .5,19 .5-17 .5-6 .5,.5 .5,15.5 .5-16.5 .5,12.5 .5,2 .5,5 .5-9 .5,10 .5-11 .5,9.5 .5-13.5 .5,9 .5-4.5 .5,3.5 .5,11 .5-12.5 .5,0 .5,.5 .5,1.5 .5-15.5 .5,18 .5-14.5 .5-3.5 .5,13 .5-9.5 .5,10.5 .5,5.5 .5-7.5 .5-7 .5,7.5 .5,11.5 .5-12 .5,11.5 .5-2 .5-19 .5,14.5 .5-15.5 .5,13 .5-.5 .5-5.5 .5-9.5 .5,8 .5,0 .5,5.5 .5-4 .5,3.5 .5-6 .5-9 .5,10.5 .5,9.5 .5-16 .5-1.5 .5-6 .5,25 .5-20.5 .5,14.5 .5-7 .5-2.5 .5,.5 .5,11.5 .5-1.5 .5-9.5 .5-7.5 .5,11.5 .5-7 .5-6 .5,0 .5-12 .5,7 .5-11.5 .5-5 .5-13 .5,1.5 .5-6.5 .5-23 .5,2 .5-11 .5-6.5 .5-14.5 .5-25 .5-.5 .5-16.5 .5-13 .5-6.5 .5-1.5 .5,1.5 .5,3 .5,10.5 .5,6.5 .5,9 .5,12 .5,23.5 .5,10.5 .5,12 .5,10.5 .5,8.5 .5,15 .5-10.5 .5,23.5 .5-8 .5,11.5 .5,6 .5,2 .5,5.5 .5-7 .5,19.5 .5-3 .5-3 .5,2.5 .5-7 .5-9 .5,2 .5,14 .5-15.5 .5,24 .5-8 .5-9 .5,2.5 .5-7 .5,10.5 .5,3.5 .5,5.5 .5-17 .5,16 .5-5.5 .5-2.5 .5,1 .5,2 .5,10 .5-2.5 .5-5 .5-11 .5,3.5 .5,7.5 .5-4 .5-8.5 .5,17.5 .5,0 .5-9.5 .5-7 .5,2 .5-7.5 .5-2 .5,9.5 .5-5 .5,7 .5,4.5 .5-10.5 .5-5 .5-1 .5-.5 .5,4 .5-12.5 .5,0 .5-18.5 .5-6 .5-3 .5-2 .5-24.5 .5,1 .5-31.5 .5-11.5 .5-23 .5-13.5 .5-44 .5-28.5 .5-27 .5-25 .5-32 .5-43.5 .5-24 .5-23.5 .5-8 .5-11.5 .5,1.5 .5,5.5 .5,23 .5,22 .5,36.5 .5,13.5 .5,53.5 .5,27 .5,30 .5,16.5 .5,47 .5,14 .5,22 .5,16.5 .5,14 .5,17 .5,11.5 .5,16.5 .5,4 .5-2 .5,12 .5,10 .5-7.5 .5,7 .5,11 .5-2.5 .5-4.5 .5,9.5 .5,4 .5-.5 .5-2 .5,11 .5-20 .5,13 .5,3 .5-10 .5,2 .5,1 .5,6.5 .5-1.5 .5,5 .5,5.5 .5-12.5 .5,5.5 .5,2 .5-16 .5,11.5 .5-10.5 .5,6 .5-1.5 .5,14 .5-12 .5-.5 .5,8 .5-5 .5-1.5 .5,2.5 .5,1 .5-1 .5-6.5 .5,4.5 .5-.5 .5,18 .5-15 .5,11.5 .5,4.5 .5-6 .5,1 .5,7.5 .5-3 .5-15.5 .5,18.5 .5-19.5 .5,8 .5,11 .5-18 .5,20 .5,6 .5-14 .5-10.5 .5,23.5 .5-18 .5-2 .5,1.5 .5,4 .5-1 .5,18.5 .5-20 .5-5 .5,1 .5,8 .5,15 .5-21 .5,8 .5,6.5 .5-7 .5,.5 .5-.5 .5,5 .5-7.5 .5,15.5 .5-22 .5,18.5 .5,1 .5-7 .5-2.5 .5,11 .5-15.5 .5,5 .5-4.5 .5,8 .5-8 .5,1.5 .5,9 .5-5 .5,1.5 .5,9 .5-23.5 .5,7.5 .5,3.5 .5,9 .5-18 .5,5.5 .5,4 .5-12.5 .5,3.5 .5,2.5 .5-4.5 .5,6 .5-.5 .5-3.5 .5,.5 .5,.5 .5-.5 .5-3 .5,14.5 .5-17 .5,10 .5,5.5 .5-17.5 .5,9 .5-7 .5,11.5 .5,7 .5-9 .5,6 .5,5 .5-9.5 .5,3 .5-5 .5,11 .5-5.5 .5,12 .5-1.5 .5-18 .5,10.5 .5,0 .5-1 .5,1 .5-4.5 .5,7 .5-3.5 .5-4 .5-9.5 .5,8.5 .5-22 .5,11 .5-9.5 .5-17.5 .5,.5 .5-.5 .5-18.5 .5-7.5 .5-2 .5-.5 .5,6.5 .5,1.5 .5,14 .5,4 .5,15.5 .5,2 .5-2.5 .5,17.5 .5,7.5 .5-5 .5-8.5 .5,8.5 .5,8 .5,6 .5-7.5 .5,11 .5-10 .5-5.5 .5,13 .5-8 .5,14 .5-1.5 .5-10 .5-2 .5,6 .5,6 .5-7.5 .5-2.5 .5,7.5 .5-3.5 .5-10 .5-1 .5-9.5 .5,9.5 .5-2.5 .5,4.5 .5-9 .5,.5 .5-.5 .5-1 .5,1 .5,0 .5,.5 .5,0 .5,2.5 .5,1.5 .5-8 .5-4 .5,5.5 .5,7 .5,4 .5-8 .5,15.5 .5-5.5 .5,9 .5-11 .5-5 .5,16.5 .5,0 .5,10.5 .5-12 .5,2 .5,10 .5-24 .5,2.5 .5-2 .5,14.5 .5-4.5 .5,5.5 .5-14.5 .5,6 .5,4.5 .5-1 .5-.5 .5,9 .5-12 .5,1.5 .5,0 .5,7.5 .5-11.5 .5,0 .5,.5 .5-4.5 .5,9.5 .5-3 .5-7 .5,7.5 .5,4 .5,10.5 .5-11.5 .5,10 .5-8 .5,7.5 .5-17.5 .5-1 .5,7.5 .5-.5 .5,2.5 .5,2.5 .5-11 .5,9.5 .5-5.5 .5,17.5 .5-15 .5-2 .5,15.5 .5-23.5 .5,22.5 .5-9 .5-5.5 .5,0 .5,3 .5,2 .5-7 .5,7.5 .5,2 .5-5 .5,10.5 .5-17 .5,7 .5,6 .5-3.5 .5,7 .5-3.5 .5-14.5 .5,17.5 .5-14 .5,12 .5-7.5 .5,7.5 .5-20 .5,17 .5-6 .5,11.5 .5,0 .5-1.5 .5-10 .5,1 .5-6 .5,5 .5,1.5 .5,3 .5,5.5 .5-15.5 .5,7.5 .5,3 .5-5.5 .5-10.5 .5,8.5 .5-1 .5-4 .5,9 .5-4 .5,1 .5,2.5 .5-1 .5,4 .5,0 .5-2 .5,1.5 .5,2 .5-7.5 .5,10 .5,2 .5-10 .5,10 .5-5 .5-.5 .5,9 .5-21 .5,14.5 .5-10 .5,6 .5-13.5 .5,18 .5,2 .5-15 .5,18 .5-15 .5,3 .5-6.5 .5,10.5 .5-5.5 .5,1 .5,2 .5-8 .5,11 .5-5.5 .5,11 .5-9.5 .5,4 .5-.5 .5,5.5 .5,1.5 .5-9.5 .5-7 .5,6.5 .5-2.5 .5,7 .5-6 .5,4 .5-.5 .5,.5 .5-8.5 .5,14 .5-10.5 .5-7 .5,5 .5,3 .5-.5 .5,5.5 .5-6 .5,5.5 .5,4.5 .5-12 .5,2 .5,14.5 .5-7 .5,3 .5-6.5 .5,1 .5-1 .5-4 .5,12.5 .5-15 .5,3.5 .5-3.5 .5,20.5 .5-18.5 .5,14 .5-17 .5,22.5 .5,0 .5-13.5 .5,11 .5-19 .5,5.5 .5,12 .5-8 .5-4 .5,4 .5-4.5 .5-.5 .5,11 .5-18 .5,7.5 .5,4 .5,6.5 .5-5.5 .5-3.5 .5-9 .5,25 .5-18.5 .5,10 .5-13 .5,14.5 .5-15.5 .5,5.5 .5,4.5 .5-9 .5,14 .5-5 .5,7.5 .5-2 .5-8.5 .5-5 .5,5.5 .5,9.5 .5-18 .5,18 .5-18 .5,14.5 .5-.5 .5-9 .5-4 .5,9.5 .5,4 .5-12.5 .5,12 .5-1.5 .5-10 .5-3.5 .5,11.5 .5-2 .5-7.5 .5,3.5 .5,19 .5-8.5 .5-.5 .5-9 .5,5 .5,8 .5-14 .5,2 .5,1.5 .5-1 .5,7.5 .5-9 .5,6 .5,1 .5,0 .5-.5 .5-11.5 .5,1 .5-3.5 .5,13 .5,3 .5-1 .5,7 .5-12 .5,9 .5-6.5 .5,4.5 .5-10.5 .5,4 .5-5.5 .5-2 .5-4.5 .5,18.5 .5-4.5 .5,9.5 .5-12 .5,1.5 .5-10 .5,14.5 .5-12.5 .5,16 .5-.5 .5-25 .5,6.5 .5-4.5 .5,2 .5-4 .5,10 .5,4.5 .5-9.5 .5,6.5 .5-8.5 .5,1 .5-.5 .5-20.5 .5,12.5 .5-23.5 .5-7 .5,4.5 .5-20.5 .5-11 .5,2.5 .5-19 .5-14 .5-14 .5-14.5 .5-5 .5-15 .5-14.5 .5,3 .5-14.5 .5-8 .5-.5 .5,1 .5,3.5 .5,18.5 .5,9 .5,5.5 .5,18 .5-4.5 .5,28 .5,13 .5,2 .5,5 .5,26 .5,7 .5,6.5 .5,8.5 .5,7 .5,11 .5,9 .5-9 .5,15.5 .5-9 .5,1 .5,5 .5,8 .5,.5 .5-2 .5-6 .5,14.5 .5-8 .5,2.5 .5-4.5 .5,18 .5-14 .5-6 .5,15 .5-5.5 .5,6.5 .5,.5 .5-17.5 .5,10.5 .5,14.5 .5-8.5 .5,0 .5,4 .5,1.5 .5-8 .5,6 .5-.5 .5-3 .5-1.5 .5,5 .5-2 .5-9 .5-2 .5,8.5 .5,0 .5,10.5 .5-10 .5,0 .5-2 .5,4 .5,1.5 .5,5 .5-10.5 .5,7 .5,2.5 .5-17.5 .5,13.5 .5-8 .5,2.5 .5,2 .5,0 .5-4 .5,7.5 .5,2.5 .5-5.5 .5-5.5 .5,4 .5,14 .5-7 .5-7.5 .5-4 .5,8.5 .5,0 .5,10.5 .5-23 .5,13 .5,3.5 .5,0 .5-17 .5,12 .5-2.5 .5,1 .5,0 .5-8 .5,8 .5-10 .5-4.5 .5,5.5 .5,5 .5,9.5 .5-14 .5,12 .5-15.5 .5,1 .5-5.5 .5,9 .5,.5 .5,6 .5-8 .5,4 .5-9 .5,7 .5,13.5 .5-18 .5,7.5 .5,6.5 .5-1 .5-5 .5-1.5 .5-4 .5,17.5 .5-19 .5,9.5 .5-5 .5,4.5 .5-4.5 .5,9 .5,6.5 .5-9 .5,4 .5,2 .5-3.5 .5,15 .5-18 .5,3 .5,10.5 .5-4.5 .5-2 .5,9 .5-19 .5,13.5 .5,7 .5-17 .5,21 .5-10 .5,.5 .5,1 .5-3 .5,11.5 .5-20.5 .5,2.5 .5,9.5 .5,.5 .5-11.5 .5,14.5 .5-15.5 .5,3.5 .5,.5 .5,3.5 .5-2.5 .5,3 .5,2 .5-.5 .5-12 .5,2 .5,12.5 .5-6.5 .5-.5 .5-14 .5-5.5 .5,13 .5,8 .5-25.5 .5,12 .5-3 .5-14.5 .5,19 .5-8.5 .5-8.5 .5,7.5 .5-6 .5,4.5 .5-1 .5-4 .5,0 .5,3.5 .5-8 .5,6.5 .5-6 .5,13 .5-11 .5,11.5 .5-4 .5,7 .5-3.5 .5-7 .5,2 .5,21 .5,2 .5-9.5 .5,5.5 .5-8 .5,1.5 .5-3 .5,9.5 .5,14.5 .5-19 .5,14.5 .5-2 .5,1 .5-15.5 .5,3.5 .5,15 .5-19 .5,10 .5-2 .5,.5 .5,5 .5-10.5 .5,9 .5-3 .5-18.5 .5,9.5 .5-4 .5,1 .5-2 .5,.5 .5,1 .5-.5 .5-6 .5,8 .5,4 .5-13.5 .5,8 .5,.5 .5,8.5 .5-7 .5,.5 .5,4 .5,0 .5-7.5 .5,13 .5-9.5 .5,1 .5-9.5 .5-2 .5-7 .5-5.5 .5,18 .5-8.5 .5-4 .5,2.5 .5,.5 .5,0 .5,4 .5-10.5 .5,9 .5-.5 .5,12.5 .5-4.5 .5,3 .5,6 .5-2.5 .5-13 .5,21.5 .5-3.5 .5-3.5 .5,5 .5,10 .5-4.5 .5-5 .5,6 .5-8.5 .5,9.5 .5-2.5 .5,3 .5-14 .5,3 .5,22 .5-13 .5,1 .5,4.5 .5-5 .5,4.5 .5-14 .5,12 .5,0 .5-12 .5,2.5 .5,15.5 .5-11.5 .5,1 .5,7.5 .5-5 .5-9.5 .5,9.5 .5,.5 .5,0 .5,10 .5-5 .5-7.5 .5,17 .5-12.5 .5-9.5 .5,6.5 .5-4.5 .5,2.5 .5,5.5 .5-6.5 .5,14 .5-5.5 .5-4.5 .5,.5 .5,2 .5,.5 .5-5 .5,10.5 .5-16.5 .5,13 .5,1 .5-.5 .5,5 .5-12 .5,10 .5-16 .5,5.5 .5-2.5 .5,13.5 .5-16.5 .5,17.5 .5-5.5 .5-4 .5-5 .5,7 .5,14.5 .5-23.5 .5,7.5 .5,7 .5-1 .5,0 .5-5 .5,2.5 .5-7 .5,14 .5-11 .5,.5 .5,9 .5-6.5 .5,8 .5-10 .5-1.5 .5,3 .5-.5 .5-.5 .5,5.5 .5-.5 .5-2.5 .5,5 .5-1.5 .5,3 .5-7.5 .5-.5 .5,2 .5,12 .5-2 .5-8.5 .5-7 .5,10 .5,4.5 .5,2.5 .5-7.5 .5-12 .5,.5 .5,2.5 .5,11.5 .5-10.5 .5,6.5 .5-13.5 .5,14.5 .5-2 .5-8 .5,3 .5-2 .5,4.5 .5-4 .5-3 .5,3.5 .5-3 .5,6.5 .5-5 .5-2.5 .5-.5 .5,2 .5,2.5 .5-.5 .5-6 .5,3.5 .5,2.5 .5,5 .5,3.5 .5-7.5 .5,7.5 .5,2 .5-7 .5,8 .5-21.5 .5,11 .5-3 .5-1.5 .5-3 .5-.5 .5,7 .5-6.5 .5,4.5 .5-5.5 .5,17.5 .5-11 .5-8 .5-5 .5-1 .5,4.5 .5,11 .5-10 .5-.5 .5,9 .5-9.5 .5,1.5 .5-4 .5,3.5 .5-6 .5-7.5 .5-1.5 .5,7 .5-5.5 .5-4.5 .5,3 .5-18.5 .5,4.5 .5-21 .5,8.5 .5-9 .5-1 .5-6 .5,7.5 .5-9.5 .5-1 .5-.5 .5,1 .5,0 .5-.5 .5,5.5 .5,8 .5,9 .5-6 .5-6 .5,18 .5-8 .5,8.5 .5-10 .5,8 .5,2 .5-2.5 .5,5.5 .5-12 .5,12 .5-14 .5,10.5 .5-3.5 .5-.5 .5,0 .5,5 .5-2 .5,2 .5,6.5 .5,13.5 .5-9 .5-5 .5,6.5 .5,13 .5-4.5 .5,4.5 .5,15.5 .5-10 .5,.5 .5-5.5 .5,.5 .5,2 .5,7.5 .5,8 .5-16 .5,3.5 .5,.5 .5-15 .5,2.5 .5-8 .5,2 .5-10.5 .5-4.5 .5-9.5 .5,5 .5-2 .5-2 .5,0 .5,4 .5-5.5 .5,6.5 .5-.5 .5,17 .5,10 .5-2.5 .5,10.5 .5,3 .5-10 .5,6 .5,4.5 .5,.5 .5-4.5 .5,2.5 .5,20 .5-.5 .5-10 .5,1.5 .5-11 .5,1.5 .5,.5 .5,6 .5,4.5 .5,6 .5-13 .5,4 .5-7 .5,7 .5-7.5 .5,15.5 .5-3.5 .5-3 .5-2.5 .5,4.5 .5-1.5 .5-5.5 .5,1.5 .5,8.5 .5-7 .5-6.5 .5,13 .5,7 .5-8 .5-8 .5,3 .5,6.5 .5,.5 .5-2 .5-1 .5,2.5 .5-1 .5-8 .5-5 .5,10 .5,2.5 .5,5 .5-12 .5,.5 .5-5 .5,1.5 .5,11 .5,4.5 .5-10 .5,2 .5,2 .5-11 .5,5.5 .5,5 .5-17.5 .5,14.5 .5,1.5 .5-2.5 .5-3 .5-11 .5,7.5 .5-16.5 .5,2 .5,8.5 .5-3 .5-.5 .5-2 .5,0 .5-9.5 .5,14 .5-8.5 .5-3.5 .5,3.5 .5-3.5 .5,4.5 .5-7.5 .5,.5 .5-4.5 .5,3.5 .5,4 .5,1 .5,15 .5-7.5 .5-2 .5,7.5 .5,4 .5-3 .5-8 .5,3.5 .5,10 .5-12.5 .5,5.5 .5-2.5 .5,6 .5-2 .5,4 .5,6.5 .5-10.5 .5,20.5 .5-7 .5-4 .5,9.5 .5-3.5 .5,0 .5-.5 .5-.5 .5-2 .5,2.5 .5,3.5 .5-1.5 .5,2.5 .5-3.5 .5,4 .5,1 .5-6.5 .5-2 .5,11 .5-8 .5,4 .5-3 .5-5 .5-.5 .5,6.5 .5-4 .5,.5 .5,1.5 .5,11 .5-4.5 .5,.5 .5-4 .5-11 .5,14 .5,5.5 .5-6.5 .5,3.5 .5-14 .5,9 .5,0 .5,3.5 .5-6.5 .5,3.5 .5-11 .5,3.5 .5,2 .5,4 .5,.5 .5-10.5 .5,9.5 .5,7 .5-9 .5,6.5 .5-1.5 .5-1 .5-5 .5-7.5 .5,2 .5,7.5 .5,2.5 .5-9 .5,6.5 .5-17 .5,7.5 .5,4 .5-1.5 .5-4.5 .5-3 .5,1 .5,2.5 .5,5 .5-8 .5-2.5 .5,5 .5,8 .5-12 .5-4 .5,7 .5,2.5 .5-3 .5,4 .5-1.5 .5-.5 .5,7 .5,.5 .5-1 .5-2 .5-4 .5,2 .5,0 .5-2.5 .5,4.5 .5-5 .5,7 .5-3 .5,0 .5-1.5 .5-5 .5,4.5 .5-6 .5,9 .5-3.5 .5,2 .5,1 .5,2.5 .5-16.5 .5,5 .5-2.5 .5,.5 .5,1.5 .5-10.5 .5,6 .5-6.5 .5-17.5 .5-2.5 .5,2.5 .5-.5 .5-1 .5-.5 .5-3.5 .5-4.5 .5-5 .5,.5 .5,.5 .5,1.5 .5,3.5 .5-2 .5,9.5 .5,0 .5-2 .5,9 .5,.5 .5,5.5 .5,12 .5-2.5 .5,7 .5-1 .5-9.5 .5,20 .5-6.5 .5-.5 .5-6 .5,12 .5-10 .5,16.5 .5-9.5 .5,5.5 .5-2 .5-.5 .5,2.5 .5,9.5 .5-12.5 .5,2.5 .5,9 .5-11.5 .5,2 .5-1 .5-.5 .5,8.5 .5,.5 .5-4 .5-1 .5-6 .5-.5 .5,3.5 .5,5.5 .5,5 .5-.5 .5-14 .5,8.5 .5,3.5 .5-7.5 .5,8 .5-11.5 .5,5 .5-.5 .5,7 .5,1.5 .5-10 .5,8.5 .5,2 .5-3.5 .5-2 .5-5 .5,6.5 .5-1 .5,10.5 .5-10 .5,1.5 .5-7.5 .5,13 .5-8.5 .5,13.5 .5-10 .5,7 .5,1 .5-.5 .5-6.5 .5,4 .5-1 .5-4.5 .5-4 .5,1.5 .5,3 .5,6.5 .5-6.5 .5,5.5 .5,.5 .5-3.5 .5,4.5 .5-2.5 .5-1.5 .5,2.5 .5,0 .5-7 .5,12.5 .5-14 .5,11 .5,2 .5,3.5 .5-3.5 .5,3 .5-2.5 .5-9 .5,14.5 .5-5.5 .5-12.5 .5,6.5 .5,8 .5-8.5 .5,3.5 .5-8 .5,9 .5,7.5 .5,0 .5,0 .5-9 .5,3.5 .5-9 .5,6 .5,4 .5-6 .5,.5 .5-6 .5,9 .5,0 .5-10.5 .5,12 .5-4.5 .5-4 .5,10 .5-6 .5,7 .5-12 .5,2 .5,.5 .5-9 .5,14.5 .5-7 .5-2 .5,4 .5-.5 .5-2.5 .5-4 .5,6.5 .5-1.5 .5,1.5 .5-2.5 .5-9 .5,7.5 .5-3.5 .5-4 .5,5 .5,8 .5-12 .5,2 .5,7.5 .5-10 .5,11.5 .5-.5 .5-10.5 .5,11.5 .5-5 .5-4.5 .5,16.5 .5-14 .5-1 .5,8.5 .5,4.5 .5-8.5 .5,4.5 .5,6 .5-4.5 .5,3 .5-12 .5,6 .5,6 .5-9 .5,3 .5,.5 .5,11 .5-8.5 .5,0 .5,4 .5-9 .5,0 .5,3.5 .5,10.5 .5-5 .5,0 .5-.5 .5-2.5 .5-2 .5,7 .5-2 .5-2 .5-2 .5,1.5 .5,6 .5-4.5 .5-4 .5,11 .5-16 .5,13.5 .5-11.5 .5,13 .5-1 .5-9 .5,5.5 .5,3.5 .5-12 .5-2 .5,14.5 .5-10.5 .5,2.5 .5,7 .5-11 .5,6 .5,4.5 .5-10 .5,6.5 .5,0 .5-1.5 .5-2 .5,3 .5-2 .5,5.5 .5-8 .5,11 .5-8 .5,9 .5-.5 .5-10 .5,7 .5-2.5 .5-.5 .5,2.5 .5-3 .5-6.5 .5,2.5 .5,3.5 .5,5.5 .5-10.5 .5,8.5 .5,3 .5-13.5 .5,1 .5,10 .5-3.5 .5-10 .5,17.5 .5-6.5 .5-11 .5,4.5 .5,4.5 .5-1.5 .5,4 .5-3.5 .5,0 .5-2 .5,.5 .5,3 .5-4.5 .5,7.5 .5-4 .5-8.5 .5,11 .5,1 .5,5 .5-6.5 .5-4.5 .5-4.5 .5,5 .5,4.5 .5,2 .5-9.5 .5-2 .5,9 .5-9.5 .5,.5 .5,8.5 .5-1 .5-1 .5,.5 .5-9.5 .5,7 .5-.5 .5,3.5 .5-7 .5,4.5 .5-1 .5-7.5 .5,0 .5,11.5 .5-1 .5,.5 .5-1.5 .5-4 .5,4 .5-6 .5,1 .5-4 .5-6.5 .5,0 .5,5.5 .5,3.5 .5-9 .5,.5 .5-6 .5-8 .5,4.5 .5-1 .5-4.5 .5-4 .5,1 .5-3 .5-.5 .5-3 .5-2.5 .5-1 .5-.5 .5-1 .5,3.5 .5-2.5 .5,7 .5-.5 .5,1 .5-2.5 .5-2 .5,19 .5-12.5 .5,6 .5,1.5 .5,.5 .5-.5 .5-1 .5,6.5 .5-1.5 .5-2.5 .5-.5 .5-5 .5,3 .5-6.5 .5,7 .5-2 .5-6 .5-8 .5-1 .5,3 .5,0 .5-1 .5,.5 .5,3.5 .5-5 .5,10 .5,5 .5-5.5 .5-1.5 .5,1.5 .5,11.5 .5-2 .5,10 .5,2 .5,.5 .5-.5 .5,1.5 .5,3 .5,7.5 .5-11.5 .5,11 .5-6 .5,5.5 .5-9 .5,13.5 .5-10 .5,3 .5-5 .5,6 .5-2.5 .5,4 .5,7.5 .5-6 .5-9.5 .5,0 .5,7.5 .5-5.5 .5,10 .5-5 .5,3.5 .5,5.5 .5-2.5 .5-5.5 .5-2.5 .5,10.5 .5-6 .5,2 .5-2 .5,5 .5-5 .5-2 .5,7 .5-5 .5,4.5 .5,.5 .5-7.5 .5,7.5 .5-1.5 .5,3 .5-7 .5,2.5 .5-.5 .5,4.5 .5-12.5 .5,4 .5,3 .5,1.5 .5,2.5 .5-.5 .5-10.5 .5,6 .5,8.5 .5-16.5 .5,12.5 .5-7 .5,2.5 .5,3.5 .5,4.5 .5-5 .5,6.5 .5-4 .5-2.5 .5,5.5 .5,.5 .5-6 .5-10.5 .5,14.5 .5-14.5 .5,1 .5,4 .5,0 .5,11 .5-.5 .5-2.5 .5-1 .5-11 .5,1 .5,9 .5,1.5 .5-4 .5-3.5 .5,4.5 .5,0 .5-.5 .5-4 .5,3 .5,3.5 .5,.5 .5-13.5 .5,7 .5,2.5 .5,1.5 .5-10.5 .5-2.5 .5,0 .5,1 .5-1.5 .5-2.5 .5,5 .5,3.5 .5-7.5 .5-2 .5,9.5 .5-8.5 .5,1.5 .5,.5 .5,0 .5,1 .5-6 .5,4.5 .5-2 .5-3 .5,16 .5-8 .5,3 .5-1.5 .5-3 .5,1 .5,10 .5-8 .5,0 .5,1.5 .5-4 .5-.5 .5-6 .5,12.5 .5-8.5 .5,2 .5,.5 .5-4 .5,.5 .5,.5 .5,0 .5,2.5 .5-6.5 .5-1.5 .5,7.5 .5,0 .5,2.5 .5-5 .5,4.5 .5,12.5 .5-7.5 .5-2.5 .5,6 .5,1.5 .5-8 .5,7.5 .5,4 .5-10 .5-.5 .5,8.5 .5,4.5 .5,5 .5-2.5 .5,3 .5-11 .5,5 .5-8.5 .5,6.5 .5,7.5 .5-7.5 .5-1 .5,5.5 .5-6.5 .5,3.5 .5,2.5 .5-9.5 .5,13 .5-1 .5-4 .5,0 .5-1.5 .5-.5 .5,1 .5,7.5 .5-3 .5-1 .5-10 .5,11 .5-2.5 .5-10.5 .5,0 .5,8 .5-1 .5-3 .5,12 .5-8 .5,4 .5-8.5 .5,8 .5,2 .5-9.5 .5,11.5 .5-8 .5,3.5 .5,1 .5-8.5 .5,12 .5-15.5 .5,12 .5-5.5 .5,0 .5-4 .5,5.5 .5,8.5 .5,0 .5-7 .5-9.5 .5,4 .5-1 .5-3 .5,8 .5-3.5 .5,2.5 .5,5.5 .5,0 .5-13 .5,4 .5,5.5 .5,6.5 .5-3.5 .5-.5 .5,.5 .5,2.5 .5-7 .5,1.5 .5-4.5 .5-4.5 .5,2 .5,5.5 .5-8.5 .5,5 .5-5 .5,3.5 .5,7.5 .5-8.5 .5-6 .5,13 .5-6 .5,1.5 .5-7.5 .5,11.5 .5-12 .5,.5 .5,10 .5-10 .5,0 .5,8 .5-9 .5,9 .5,5 .5-5.5 .5,2.5 .5-5 .5,8 .5-6 .5-6.5 .5,13 .5-3.5 .5,3.5 .5-14 .5,5.5 .5,8.5 .5-10 .5-.5 .5,2 .5,7.5 .5-2.5 .5,0 .5-8 .5,7.5 .5,3.5 .5-3.5 .5,3 .5,0 .5-3 .5-1.5 .5,1.5 .5,8.5 .5-2.5 .5-1 .5-8 .5,1.5 .5,4 .5-3 .5-4 .5,2.5 .5,2 .5,3.5 .5,.5 .5-6 .5,7.5 .5-10.5 .5,9.5 .5-1 .5-1 .5-3 .5,2 .5,1.5 .5,1 .5-2.5 .5-1 .5-5 .5,8 .5,5 .5,0 .5-2.5 .5,.5 .5-1 .5,2.5 .5-2.5 .5-5.5 .5,5 .5,3.5 .5-12 .5,5.5 .5,3.5 .5,0 .5,0 .5-2.5 .5-1.5 .5,6.5 .5-3 .5,.5 .5-6.5 .5,8.5 .5-.5 .5-9.5 .5,2 .5,1.5 .5,.5 .5,4.5 .5,5.5 .5-3.5 .5-9 .5,2.5 .5-2 .5,1 .5-1 .5,1.5 .5-1 .5,2 .5-.5 .5,8.5 .5-8.5 .5,5.5 .5,1.5 .5-13.5 .5,7.5 .5-4 .5,4 .5-13 .5,3.5 .5,3 .5-9 .5,9.5 .5,4.5 .5-9.5 .5,5 .5-10 .5,5.5 .5,1.5 .5-3 .5-1.5 .5-2.5 .5,.5 .5-.5 .5-.5 .5,1.5 .5,1 .5,4.5 .5-6.5 .5,11 .5-2 .5-2 .5-4.5 .5,0 .5,8.5 .5-8.5 .5,7 .5,1.5 .5,1.5 .5-1.5 .5,7.5 .5-9.5 .5,13.5 .5-.5 .5-.5 .5-9.5 .5,6 .5,3.5 .5-2.5 .5-1.5 .5-1.5 .5-3 .5,2.5 .5,7.5 .5-1.5 .5-5 .5-5 .5,3.5 .5,.5 .5-1 .5,12 .5-2.5 .5-3.5 .5-2 .5,1 .5,.5 .5,1.5 .5-8 .5,13.5 .5-16 .5,6.5 .5,5 .5-8 .5-3.5 .5,2.5 .5,3.5 .5,2 .5,8 .5-4 .5,1 .5-2 .5-5 .5,6 .5,.5 .5-5 .5,4 .5,2 .5-13 .5,4 .5,3 .5-7 .5,8.5 .5,5.5 .5-8 .5-4.5 .5,5 .5,9 .5-9.5 .5,0 .5,3 .5,3 .5-7 .5,2.5 .5,4.5 .5-1.5 .5,4 .5-9.5 .5,10" fill="none" stroke="#f00" stroke-width="3" stroke-linejoin="miter" stroke-miterlimit="2"/>
<path d="M173,2092.5l.5,3 .5-11 .5,13 .5-8.5 .5-8.5 .5,7 .5,9.5 .5-2 .5-11 .5,13.5 .5-5.5 .5,4 .5-.5 .5-11 .5,11.5 .5-7 .5,16 .5-6 .5-5 .5-7.5 .5,8 .5,1 .5-10.5 .5,23 .5-10.5 .5,10 .5-21 .5,20.5 .5-22.5 .5,5.5 .5,9.5 .5-4 .5-13.5 .5,5.5 .5,14.5 .5,7.5 .5-6.5 .5-9 .5,8 .5-14.5 .5,12.5 .5-13.5 .5,10 .5-.5 .5,7 .5-8.5 .5,11.5 .5-10 .5,7.5 .5,0 .5-19.5 .5,14 .5,0 .5-6 .5,7.5 .5-12 .5,15 .5-.5 .5-1 .5,11 .5-10.5 .5-2 .5-6 .5,7.5 .5-9 .5,17 .5-14.5 .5,6 .5,12.5 .5-4.5 .5-7 .5,8.5 .5-10.5 .5,6.5 .5-6 .5-7 .5,10.5 .5,3.5 .5-9.5 .5-5.5 .5,4.5 .5-9.5 .5,9 .5-3.5 .5,21.5 .5-17.5 .5-7.5 .5,18.5 .5-8 .5,2 .5,1 .5,0 .5-4 .5,10 .5-3.5 .5-7.5 .5,2.5 .5-5.5 .5,9 .5,3.5 .5-.5 .5-.5 .5-5.5 .5,13 .5-13.5 .5,2 .5-2.5 .5,3 .5-2.5 .5,15.5 .5-10.5 .5-15.5 .5,9.5 .5-7.5 .5,17.5 .5,3.5 .5-13.5 .5,8 .5-6 .5,4.5 .5,10 .5-15.5 .5-7 .5,15 .5-1.5 .5,1 .5,3 .5-13 .5-8.5 .5,21.5 .5-11 .5-6 .5,.5 .5,17 .5-7 .5,.5 .5,4.5 .5-12 .5-3.5 .5,2 .5-2 .5,6 .5-4.5 .5,6.5 .5-4 .5,2.5 .5,5.5 .5,5 .5,1 .5-11.5 .5,.5 .5-6 .5,10.5 .5,3.5 .5-16.5 .5,9.5 .5-9 .5,0 .5,2 .5-5.5 .5,9 .5-19 .5,5 .5,3 .5-8 .5,9.5 .5-15 .5,10.5 .5-12.5 .5,8.5 .5,3.5 .5,8.5 .5-6.5 .5,3 .5-12.5 .5,12 .5-16 .5-1 .5-8.5 .5,11 .5,5.5 .5-12.5 .5,1.5 .5-.5 .5,1 .5-1.5 .5-5.5 .5,21 .5-23 .5,7.5 .5,10.5 .5,6 .5-8 .5,.5 .5,3.5 .5-1 .5,10 .5-9 .5-2.5 .5,5.5 .5,5.5 .5,10 .5,4 .5-13.5 .5-7 .5,2 .5,25 .5-15.5 .5,7.5 .5,11 .5-17.5 .5,4.5 .5-2 .5-3 .5,15 .5,3 .5-21 .5,21.5 .5-8.5 .5,3.5 .5,1 .5-11 .5,8 .5-4.5 .5,21 .5,.5 .5-12.5 .5-9.5 .5,18 .5-10 .5,15 .5,.5 .5-.5 .5-15.5 .5-4.5 .5,3 .5,4 .5-6 .5,16 .5-3.5 .5-5.5 .5-2.5 .5,8 .5,5.5 .5-23.5 .5,15.5 .5-4 .5-3.5 .5,3 .5,4 .5,12.5 .5-13 .5-3.5 .5-6 .5,15 .5-11.5 .5,5 .5,6.5 .5-5 .5-3.5 .5,2 .5,8 .5-7 .5,2 .5,1.5 .5-5.5 .5,5 .5-4.5 .5,10.5 .5-4.5 .5-17 .5,11.5 .5,10 .5-9.5 .5-1.5 .5,10.5 .5-15.5 .5,8.5 .5,4 .5,2 .5-14 .5-1.5 .5,20.5 .5-17 .5,5.5 .5,14 .5-17 .5-10 .5,27 .5-5.5 .5-5 .5,11 .5-14 .5,11 .5-10.5 .5-2 .5,7 .5,1.5 .5,3.5 .5-1 .5-12.5 .5,3 .5,14.5 .5-9 .5-4 .5,9.5 .5,.5 .5-1 .5-13.5 .5,1 .5,9 .5,3 .5-17.5 .5,5.5 .5,1.5 .5,9.5 .5-16 .5,22 .5-13 .5,4 .5,9 .5-9 .5,1 .5-7 .5,5 .5-11.5 .5,7.5 .5,1 .5-8 .5,15 .5-4 .5-17 .5,19.5 .5-13 .5,11.5 .5-10.5 .5,3 .5,6 .5,10 .5-24.5 .5,8.5 .5,0 .5,10.5 .5-10 .5,5 .5,6.5 .5-4.5 .5-9 .5-.5 .5,.5 .5,3 .5-8.5 .5,4.5 .5,3.5 .5-9.5 .5-2.5 .5,2.5 .5,.5 .5-20 .5-1.5 .5,12 .5-14.5 .5-12.5 .5,4.5 .5,1.5 .5-9.5 .5,0 .5,0 .5,7 .5-5 .5,11 .5,8.5 .5,2 .5-2 .5,12 .5,0 .5,8.5 .5,0 .5,1 .5-12 .5,19 .5-4 .5-12 .5,14 .5,3 .5-2.5 .5-12.5 .5,8.5 .5-2 .5,5 .5-11 .5,16 .5,2 .5,0 .5-4.5 .5-.5 .5,8.5 .5-4 .5-6.5 .5,5 .5,3 .5,4 .5-5.5 .5-9.5 .5,2.5 .5,5 .5,.5 .5,5.5 .5-21.5 .5,8.5 .5-3.5 .5,16.5 .5-2.5 .5-3.5 .5,3.5 .5-11 .5,8 .5-4 .5-.5 .5-3 .5,7 .5-1 .5-20.5 .5,4 .5,2 .5,.5 .5-20 .5,2 .5,1 .5,9.5 .5-16.5 .5,1 .5,0 .5,0 .5,2 .5,1.5 .5,2 .5,6.5 .5,3.5 .5,4 .5,3.5 .5-8.5 .5,12.5 .5,2 .5,6.5 .5,.5 .5,7.5 .5-16.5 .5,5.5 .5,3 .5-6 .5,3 .5-.5 .5-.5 .5,17 .5-14 .5,11.5 .5-17 .5,8.5 .5-7 .5,7.5 .5,10 .5,1 .5-7.5 .5-2.5 .5-3.5 .5,3 .5,7 .5-22 .5,9.5 .5-4.5 .5,14.5 .5-16.5 .5,15 .5-14.5 .5,.5 .5,19 .5-3.5 .5-14.5 .5-6 .5,5.5 .5,11.5 .5-4.5 .5-7 .5,11 .5,6 .5-18.5 .5,8 .5-5.5 .5,14 .5-7.5 .5-5.5 .5-7.5 .5,17.5 .5-7.5 .5,3 .5-2.5 .5,4.5 .5-16 .5,6.5 .5,8.5 .5,11 .5-11 .5-3 .5-4 .5-.5 .5,3.5 .5-4.5 .5,6.5 .5-.5 .5,13 .5-14 .5,9 .5-11.5 .5,10 .5,6.5 .5-18 .5-4 .5,16.5 .5-7.5 .5-2.5 .5,5 .5-1 .5,7 .5-6 .5-7.5 .5-4 .5-5 .5,5 .5,16 .5-19 .5,11 .5,9 .5-5 .5,7 .5-6 .5,6 .5-16 .5-2 .5,19.5 .5-10.5 .5-2 .5-5 .5,16 .5-8.5 .5,0 .5-8.5 .5,5.5 .5-4 .5,2.5 .5,3 .5-6 .5-2.5 .5,12 .5-13.5 .5,18 .5,.5 .5-21.5 .5,22 .5-18 .5,16 .5-14 .5,9.5 .5-13.5 .5,12.5 .5-4 .5,11 .5-6 .5-12.5 .5,9 .5-7.5 .5,6.5 .5,10 .5,0 .5-10.5 .5-7 .5,6.5 .5,12.5 .5-14 .5-10 .5,.5 .5,1.5 .5,16.5 .5-10.5 .5-3 .5,8 .5,4.5 .5-8 .5-5 .5,7.5 .5,4.5 .5-18.5 .5,2 .5,23.5 .5-10 .5-.5 .5-13 .5,3 .5,5.5 .5,11 .5-8.5 .5-13 .5,23.5 .5,.5 .5-5.5 .5-14.5 .5,3.5 .5,2.5 .5,3 .5,12.5 .5-23.5 .5,4.5 .5,5.5 .5-4.5 .5,.5 .5-7 .5,11 .5-2.5 .5,3.5 .5,5.5 .5-8.5 .5,1 .5,2.5 .5-5 .5,4.5 .5-14.5 .5,7 .5,10 .5-2.5 .5,4.5 .5-16 .5,6 .5,3.5 .5,0 .5-1 .5,12 .5-14 .5,1 .5,6 .5,0 .5-2.5 .5,11 .5-8 .5-6 .5-5.5 .5,16.5 .5-14 .5,7.5 .5-6.5 .5,17 .5-8 .5-18.5 .5,15.5 .5-12.5 .5,6 .5,10 .5-15.5 .5,12 .5-3 .5,6 .5-13 .5,12 .5-7.5 .5,10.5 .5-7.5 .5,4.5 .5,5 .5-1.5 .5-8.5 .5,5.5 .5-5.5 .5,3 .5,9 .5-18.5 .5-2.5 .5,12.5 .5-8 .5,13.5 .5-3 .5-1.5 .5-5 .5-3.5 .5-3 .5,2.5 .5,4 .5-7 .5,14.5 .5-3 .5-14.5 .5-3.5 .5,21.5 .5-17.5 .5-4 .5,1 .5,13.5 .5,8.5 .5-3 .5,3.5 .5,2.5 .5,.5 .5-21 .5,5.5 .5-3 .5,5 .5-3.5 .5,4.5 .5,11.5 .5-19 .5,10.5 .5-12.5 .5-3 .5,17 .5-8.5 .5,1 .5,10 .5-21 .5,10 .5,10 .5-18.5 .5,9 .5,4.5 .5-.5 .5-2.5 .5,1.5 .5-4 .5,1.5 .5-3.5 .5-10.5 .5,7 .5-2.5 .5,8.5 .5-6 .5-.5 .5-3.5 .5,2.5 .5-10 .5,5 .5-8.5 .5,1.5 .5-7 .5,20.5 .5-10 .5-12.5 .5,3 .5,4 .5-6.5 .5,7.5 .5-3 .5,4.5 .5-23 .5,18.5 .5-4 .5,5 .5-11.5 .5-1.5 .5-3 .5,12.5 .5-2 .5-13.5 .5,9 .5,5 .5-8 .5,7 .5,3 .5-2 .5-7 .5,22 .5-5.5 .5,2 .5-6 .5,7 .5-5 .5,5 .5,3 .5,4.5 .5-7.5 .5-.5 .5,16 .5-18.5 .5,12.5 .5-1.5 .5,7 .5-7.5 .5-4 .5,9.5 .5-10.5 .5,3 .5,8 .5,1.5 .5-11 .5,20.5 .5-9 .5,9.5 .5-.5 .5-7.5 .5-3 .5-7 .5,18 .5,4.5 .5-10 .5-.5 .5-7 .5-.5 .5,6.5 .5,10 .5-10.5 .5,8.5 .5-3.5 .5-3.5 .5-5 .5,3.5 .5-6 .5,15.5 .5-2.5 .5-11 .5,2.5 .5-4.5 .5,11 .5,3.5 .5-11 .5,4 .5,6 .5-15 .5,14.5 .5,10 .5,.5 .5-12.5 .5,.5 .5,6 .5,0 .5,6 .5-8.5 .5,.5 .5,.5 .5,10 .5-19 .5,16.5 .5-7 .5,.5 .5-8 .5,6 .5-6 .5-7.5 .5,16.5 .5-11.5 .5,10.5 .5-9.5 .5,7 .5,0 .5-9.5 .5,12.5 .5-4 .5-9.5 .5,27 .5-9 .5-.5 .5-2.5 .5,6.5 .5-9.5 .5,9 .5,1.5 .5-10 .5,4 .5,1 .5-11.5 .5,13.5 .5-3 .5,9.5 .5-7.5 .5-7 .5,7 .5-4.5 .5-10 .5,12.5 .5-7.5 .5,19 .5-7 .5,4.5 .5-4 .5-3.5 .5,6.5 .5-16 .5,17 .5-6.5 .5-13 .5,13 .5,5.5 .5-7.5 .5,13.5 .5-.5 .5-13.5 .5-1 .5,4 .5-1.5 .5,9 .5,2.5 .5-3 .5,.5 .5-5.5 .5,0 .5-4 .5,18 .5-6 .5-2.5 .5-9 .5-6 .5,5.5 .5,2.5 .5,.5 .5,7.5 .5-7 .5,7.5 .5-1 .5,1.5 .5-5.5 .5,6.5 .5-4.5 .5,.5 .5-2.5 .5,.5 .5,2.5 .5,3.5 .5-10 .5,3 .5,3 .5,7.5 .5-8 .5,5 .5,2 .5-6 .5,11 .5-18.5 .5-2.5 .5,1.5 .5,2.5 .5,2 .5,2.5 .5,4.5 .5-6 .5-.5 .5,8.5 .5-5.5 .5,3 .5-4.5 .5-6 .5,9 .5-.5 .5,4 .5-3 .5-5.5 .5,16.5 .5-19.5 .5-4.5 .5,9 .5,1 .5,7.5 .5-7.5 .5,4 .5,2 .5,3.5 .5-17 .5,14 .5-11 .5,17.5 .5-13.5 .5,.5 .5,9 .5-4 .5-.5 .5,6 .5-8.5 .5-1 .5,12 .5-11 .5,5.5 .5-10.5 .5,9 .5-2 .5,5.5 .5,10.5 .5-26.5 .5,6.5 .5,4.5 .5,3.5 .5-11.5 .5,10.5 .5-5.5 .5,6.5 .5-7 .5,20 .5-11.5 .5,4 .5-18.5 .5,7.5 .5,5 .5,13.5 .5-18.5 .5,9 .5-9 .5,5.5 .5-12 .5,0 .5,8 .5,11.5 .5,.5 .5-7.5 .5-8 .5,17.5 .5-10.5 .5-4 .5,4 .5,1 .5,14.5 .5-12.5 .5-3.5 .5,.5 .5-8 .5,21 .5-16.5 .5,8.5 .5-8 .5,1.5 .5-7.5 .5,14 .5,13 .5,0 .5-10 .5,7.5 .5-16 .5-3 .5,17 .5-13 .5,18 .5-2.5 .5-18.5 .5,5.5 .5,.5 .5,8 .5-8 .5,2.5 .5-11 .5,23.5 .5-5.5 .5-6 .5-12 .5,13 .5,12.5 .5-10.5 .5,6.5 .5-22.5 .5,11 .5,1 .5,9.5 .5-15 .5,13.5 .5,2 .5-7.5 .5-2 .5,5 .5-11 .5-4 .5-1 .5,14 .5-3.5 .5,1 .5-3 .5,3.5 .5,14.5 .5-16 .5-4.5 .5-2 .5,2 .5,11 .5-5.5 .5-1.5 .5,1.5 .5-9 .5,4 .5,4 .5-.5 .5,5 .5,5 .5-11.5 .5,7 .5,1 .5-7.5 .5,8.5 .5,3 .5-19 .5,15.5 .5-.5 .5-.5 .5-13.5 .5,18.5 .5-8 .5-5 .5-5.5 .5,14.5 .5-4 .5-9 .5,22 .5-21 .5,14 .5-12 .5,6 .5,6.5 .5-7 .5,6 .5-3.5 .5,11 .5-6 .5-1.5 .5-9 .5,2.5 .5,4.5 .5,11 .5-1.5 .5-9.5 .5,7.5 .5-7.5 .5,.5 .5-1 .5-3 .5,6 .5,9.5 .5-15 .5,10.5 .5-2 .5-6 .5,5 .5-9 .5,4.5 .5,9.5 .5,1 .5-12 .5-1 .5-8.5 .5,15 .5-9.5 .5-2.5 .5,8 .5-2 .5-10.5 .5,19 .5-21.5 .5,.5 .5,18.5 .5-9.5 .5-10.5 .5,20 .5-1.5 .5-8 .5,.5 .5,1.5 .5,4.5 .5-7 .5-7.5 .5,7 .5-3.5 .5-8.5 .5,7.5 .5-4.5 .5,8 .5,7.5 .5-5.5 .5,9 .5-10.5 .5-3 .5-8.5 .5,12 .5-4.5 .5-16 .5,6 .5,8 .5-9.5 .5,4 .5-3.5 .5,9 .5-27.5 .5,6 .5-13 .5-2 .5,14 .5-13.5 .5-11 .5-14 .5-10.5 .5,1 .5-34.5 .5,2 .5-18 .5-32.5 .5-10.5 .5-27 .5-14.5 .5-14 .5-24 .5-12 .5-20.5 .5-27 .5,1 .5-8 .5-.5 .5,4.5 .5,7 .5,26 .5,12.5 .5,17 .5,14 .5,26.5 .5,9 .5,33 .5,7.5 .5,20 .5,20.5 .5,8 .5,32 .5,1.5 .5,6.5 .5,5.5 .5,11 .5,11.5 .5,11 .5-9.5 .5,12 .5,20 .5-7 .5,.5 .5-.5 .5,3 .5,4.5 .5,11 .5,1 .5-13 .5-1 .5,10.5 .5-6.5 .5,12 .5,1.5 .5-13 .5-7 .5,3.5 .5,10 .5-7.5 .5,11 .5,0 .5-1 .5-1 .5-3.5 .5,9.5 .5-17 .5,16.5 .5,10.5 .5-3.5 .5-9 .5-2 .5,5 .5-3.5 .5,13 .5-16 .5,3 .5-7 .5,13 .5-16 .5,18 .5-2 .5-13.5 .5,12.5 .5-5 .5-2.5 .5-6 .5-2.5 .5,1 .5-2 .5,11.5 .5-8.5 .5,19.5 .5-12 .5,3.5 .5-15.5 .5,14 .5-17.5 .5,7.5 .5-8 .5-1 .5-17.5 .5-2 .5,9.5 .5-7 .5-9 .5,3 .5-3 .5-.5 .5,3.5 .5-7.5 .5,8 .5,11 .5,.5 .5,14.5 .5-5 .5,3.5 .5-4.5 .5,20 .5-13 .5,5 .5,2.5 .5,9.5 .5-7 .5,5.5 .5-2 .5-8 .5,9 .5,19 .5-15.5 .5,4.5 .5,12.5 .5-18.5 .5,11.5 .5,4 .5-15.5 .5,18.5 .5-4.5 .5-15 .5,9 .5-9 .5,22 .5,0 .5-12.5 .5-5 .5,8.5 .5-11.5 .5,6.5 .5-6 .5,6 .5,5 .5-.5 .5,3 .5-9 .5,10.5 .5-5.5 .5,1.5 .5,8.5 .5-10.5 .5-7 .5,12 .5-12.5 .5,8 .5-1 .5-12.5 .5,2.5 .5,4 .5,9 .5,4 .5-6 .5,12.5 .5-7 .5-17 .5,16 .5-12 .5,1.5 .5,3.5 .5,.5 .5,4.5 .5,3 .5,2.5 .5-12 .5,4.5 .5,8 .5-16.5 .5,15 .5-2 .5-7.5 .5,11 .5-5.5 .5,2 .5,6.5 .5-12.5 .5-7.5 .5,5 .5-4.5 .5,15 .5-10 .5-1 .5-1.5 .5,12.5 .5-6 .5,3 .5-4.5 .5-7.5 .5-1.5 .5,14.5 .5-12 .5,6 .5-14 .5,4.5 .5-3.5 .5-4 .5,9 .5,0 .5-9.5 .5,13 .5-15 .5-9.5 .5,9.5 .5-4 .5,1 .5,.5 .5,4.5 .5,0 .5-6.5 .5,15 .5-5.5 .5,9 .5,2 .5-7.5 .5-4 .5,12 .5-3.5 .5,0 .5,2.5 .5-6 .5-1 .5,4.5 .5,5 .5-3 .5,7 .5,1 .5-2.5 .5-10.5 .5-3 .5,3.5 .5-2 .5,14.5 .5-.5 .5-18 .5,8.5 .5,2 .5-6 .5,4 .5-4.5 .5,2.5 .5,2.5 .5,1.5 .5-9 .5,10 .5-12.5 .5,2 .5-.5 .5-7.5 .5,7.5 .5-11 .5-5.5 .5,15 .5-18.5 .5-6.5 .5-15.5 .5,5 .5,5 .5-21 .5-7.5 .5-1 .5-7.5 .5-6.5 .5-11.5 .5-13 .5-7.5 .5,0 .5-3 .5-.5 .5,.5 .5,3 .5,17 .5-5 .5,14.5 .5,4 .5-3.5 .5,24.5 .5-3.5 .5,27 .5-7 .5,4.5 .5,9 .5,6.5 .5,2 .5,4.5 .5,14 .5-3.5 .5,6.5 .5-2.5 .5,5.5 .5-7 .5,16.5 .5-16 .5-5 .5,3.5 .5,3 .5,5.5 .5,15 .5-20.5 .5,14 .5-11.5 .5,17 .5-5.5 .5,9.5 .5-15 .5,8 .5,.5 .5-9 .5,3 .5-4 .5-1 .5,1.5 .5-4 .5,14.5 .5-6.5 .5-5.5 .5,6.5 .5,2 .5-4 .5,9.5 .5-9 .5,3 .5,12.5 .5-17 .5,4 .5,2 .5-11 .5,6 .5,8.5 .5,6 .5-16 .5,8 .5-5 .5-1 .5-5.5 .5,11.5 .5-15.5 .5,17.5 .5-3 .5,.5 .5-3.5 .5-8 .5-1.5 .5,12 .5,2.5 .5-2 .5-8 .5,13 .5,7 .5-16 .5-4 .5,4 .5,15.5 .5-18.5 .5,2.5 .5,2.5 .5-1 .5,7 .5-8 .5-5.5 .5,10 .5-1 .5,12.5 .5-4 .5,4 .5-12.5 .5,3 .5,.5 .5-3.5 .5-11.5 .5,15.5 .5-2.5 .5,10 .5-4 .5-11 .5,6 .5-10.5 .5,16.5 .5-10 .5-8 .5-3.5 .5,18.5 .5-1.5 .5-11 .5,19.5 .5-17.5 .5,15.5 .5-16.5 .5,7 .5-6 .5,16.5 .5-6 .5-5 .5,.5 .5-1.5 .5,0 .5-11.5 .5,12.5 .5,6.5 .5-15.5 .5-4.5 .5-1 .5,2.5 .5,13.5 .5-4.5 .5-13 .5,19 .5-13.5 .5,6.5 .5-8 .5-5.5 .5,7.5 .5-4.5 .5,3.5 .5-2.5 .5-10 .5,10.5 .5-7 .5,5 .5,2 .5-4.5 .5,2 .5,4.5 .5-16 .5-3.5 .5-4.5 .5,13.5 .5-15 .5,9.5 .5,4 .5-17.5 .5,15.5 .5-19 .5,11.5 .5-6.5 .5-12 .5,10 .5,10.5 .5-13 .5-8 .5,15.5 .5-.5 .5-14.5 .5,9 .5-10 .5-.5 .5,16 .5,1 .5,6.5 .5-4.5 .5-6 .5,10.5 .5-13 .5,4.5 .5,5.5 .5-3 .5,3.5 .5-3 .5,14 .5,5 .5-1 .5,6.5 .5-4.5 .5,.5 .5-14 .5,12 .5-10.5 .5,19.5 .5-5 .5-1.5 .5-1 .5-.5 .5,5 .5-.5 .5,5.5 .5-11 .5,7 .5,14.5 .5-22.5 .5,10 .5-5 .5,12 .5,3 .5-7.5 .5-2 .5,4 .5,8.5 .5-11.5 .5,4 .5,10 .5-15 .5-1.5 .5,14.5 .5,4.5 .5-3.5 .5,7.5 .5-20 .5,3.5 .5,7 .5-15 .5,9 .5,16.5 .5-3.5 .5-16 .5,20 .5-2 .5-8.5 .5-5.5 .5,9 .5,5.5 .5-9.5 .5-6.5 .5,10 .5-1 .5-13.5 .5,1 .5,3 .5,12.5 .5-13.5 .5,6.5 .5,3.5 .5-8.5 .5,0 .5,1 .5,4 .5-4.5 .5,20 .5-9.5 .5,4 .5-14.5 .5,.5 .5-1.5 .5,2 .5,11.5 .5,3.5 .5,0 .5-2 .5-18 .5,9 .5,6 .5,2.5 .5-6 .5,4 .5-3.5 .5-.5 .5,5.5 .5-9.5 .5,1.5 .5,6.5 .5,0 .5-1.5 .5,5.5 .5-9.5 .5,6 .5,6 .5-12.5 .5,2 .5,12 .5-11 .5,7 .5-10.5 .5,1 .5-3.5 .5-1 .5,17.5 .5-8.5 .5-4 .5,11.5 .5-5 .5,1.5 .5-2 .5,5 .5-15.5 .5-.5 .5,7.5 .5,4 .5-.5 .5-5 .5,8.5 .5-1.5 .5-2.5 .5,0 .5,9.5 .5-10.5 .5-7 .5,1.5 .5,14.5 .5-8.5 .5,3.5 .5,1 .5-3 .5-5 .5,4.5 .5,5.5 .5-11 .5,6.5 .5,.5 .5-9.5 .5,6.5 .5,5 .5-2.5 .5-6 .5,15 .5-13.5 .5,10 .5-2 .5-3.5 .5,9 .5,3 .5-6.5 .5-3 .5-2.5 .5-2 .5-11 .5,14 .5-12.5 .5-8.5 .5,11.5 .5-5 .5-10 .5,13.5 .5-6 .5,2.5 .5-8.5 .5,0 .5,0 .5,1.5 .5,.5 .5,9.5 .5-9 .5,2.5 .5-.5 .5,1 .5-1 .5,0 .5,9 .5,7.5 .5,8.5 .5-10 .5-11 .5,18 .5-11 .5,11 .5-3.5 .5-4.5 .5,1 .5-1 .5,8 .5-9.5 .5,3 .5-2 .5,0 .5,9.5 .5,3.5 .5-11 .5,3.5 .5,6 .5-1.5 .5-9 .5,9.5 .5-5 .5-9.5 .5,6 .5-4 .5,10.5 .5,1.5 .5,1.5 .5-8.5 .5-2 .5,2 .5,2 .5-5 .5,7 .5,4.5 .5-19 .5,18 .5,.5 .5-15 .5,21.5 .5-6.5 .5-4 .5-13 .5,12 .5-.5 .5,3 .5-7 .5-4 .5-.5 .5,9.5 .5-7 .5,7 .5,10 .5-23 .5,9.5 .5,14.5 .5-9.5 .5,9 .5-11 .5,10 .5-4 .5,1 .5-16 .5,17.5 .5-9 .5-3.5 .5,9 .5-10 .5-4 .5,9 .5,6.5 .5-10 .5,7 .5,5.5 .5-10 .5-.5 .5-4.5 .5,1 .5,3.5 .5-12 .5,14 .5,11 .5-11.5 .5-.5 .5-5 .5,9 .5-6.5 .5,14.5 .5-9 .5,.5 .5-1 .5-5.5 .5-10 .5,9.5 .5,8 .5-17.5 .5,16 .5-.5 .5,1 .5-2.5 .5,.5 .5-4.5 .5,11 .5-18 .5,2 .5,1 .5,.5 .5,11 .5-6.5 .5,7.5 .5-15 .5,6 .5-2.5 .5,6 .5,1 .5,0 .5-6 .5,13.5 .5-11 .5,8 .5,6 .5-2.5 .5-18 .5,21 .5-13.5 .5,6 .5-4 .5-.5 .5,.5 .5,3 .5,2.5 .5-12.5 .5-5.5 .5,9 .5-6.5 .5,3 .5,14.5 .5-4 .5-9.5 .5,1 .5,.5 .5,1 .5,1.5 .5,2 .5,6 .5-8 .5-10.5 .5,12.5 .5-1.5 .5-2.5 .5,9 .5-17.5 .5,4.5 .5,2 .5,16.5 .5-17.5 .5,4 .5,5.5 .5-2 .5-13 .5,13 .5-4.5 .5,6.5 .5,3.5 .5-5 .5-6 .5-7 .5,13.5 .5,2 .5-1.5 .5-13 .5,6 .5-7 .5,13 .5-6.5 .5,7.5 .5-6 .5-5.5 .5,0 .5,14 .5,0 .5-7.5 .5-7 .5,4 .5,9 .5-6 .5-3 .5,12.5 .5-4.5 .5-8 .5-4.5 .5,21.5 .5-6.5 .5-10.5 .5,8 .5-3.5 .5-8 .5,9.5 .5-2.5 .5,4.5 .5-8 .5,9 .5-1 .5,3 .5-8.5 .5,13.5 .5-10 .5,13.5 .5-10.5 .5-1.5 .5-5.5 .5,12.5 .5,5.5 .5-9 .5-5.5 .5,2.5 .5,9.5 .5-12.5 .5,3 .5-4 .5,8 .5-2 .5,0 .5-.5 .5-4 .5,5 .5-4.5 .5-9 .5,16.5 .5-12 .5,12.5 .5-4 .5,3 .5-6 .5-11.5 .5,11 .5-9 .5,18 .5-4 .5-16 .5,16.5 .5-4.5 .5-12 .5,7.5 .5,1 .5,6.5 .5-2 .5-12.5 .5,18.5 .5-11 .5,7.5 .5-8.5 .5,11 .5-5.5 .5-7.5 .5-.5 .5,12.5 .5-1 .5-6.5 .5,7 .5,6 .5-10.5 .5-8 .5,17.5 .5-12 .5,2 .5-8.5 .5,13.5 .5-1 .5-7 .5,7 .5-5 .5-1.5 .5-7 .5,17.5 .5-5 .5,10.5 .5-3.5 .5-11 .5,7.5 .5-10.5 .5,7 .5,10.5 .5-10 .5,1.5 .5-9.5 .5,5 .5,0 .5,5.5 .5-10 .5,1.5 .5,17 .5-.5 .5-5 .5-10 .5-2 .5,3.5 .5,11 .5-3.5 .5-.5 .5-1.5 .5,4 .5-9.5 .5,6 .5-15 .5,2.5 .5,5 .5,7 .5-7 .5,7.5 .5-.5 .5,1 .5-8.5 .5,9 .5-8 .5,4.5 .5-15 .5,16 .5-4 .5,5 .5-5.5 .5,5 .5,.5 .5-10 .5,3 .5-10.5 .5,13 .5-2.5 .5,9.5 .5-6 .5-4 .5-7 .5,13.5 .5-7 .5,2 .5-1.5 .5-2.5 .5,6.5 .5,5.5 .5-12.5 .5,5.5 .5,2 .5-6 .5,10 .5-3 .5-3.5 .5-1.5 .5-3.5 .5-3 .5,11.5 .5-6.5 .5,6 .5-12 .5,4.5 .5,15.5 .5-5 .5-6.5 .5,6 .5-3 .5,3 .5-9.5 .5-10 .5,9.5 .5,2.5 .5-.5 .5,8.5 .5-12.5 .5,6 .5-9.5 .5,15 .5-15 .5,17.5 .5-4.5 .5-14.5 .5,14 .5,7.5 .5-13.5 .5,6.5 .5-5.5 .5,2.5 .5,3 .5,5.5 .5,1 .5-21 .5,2.5 .5,5 .5,3.5 .5-6.5 .5,13 .5-17 .5-3.5 .5,13 .5-14 .5,15 .5-3.5 .5-11 .5,7.5 .5,6.5 .5,4 .5-1 .5-9.5 .5,3 .5-6.5 .5,19 .5-15 .5,8 .5,1.5 .5-13.5 .5,10 .5,2.5 .5,3 .5-5 .5,7 .5-4.5 .5-12 .5,7.5 .5-12 .5-5 .5,24 .5-11 .5-4 .5,3.5 .5,3 .5-15.5 .5,17 .5-6.5 .5,.5 .5,2.5 .5-4.5 .5-7.5 .5-2 .5,16 .5-8 .5-6 .5-2 .5,8 .5,5.5 .5-5 .5-5.5 .5-2 .5,14 .5-24 .5,8 .5,2.5 .5-4.5 .5,8 .5,8.5 .5-7 .5-12 .5,1.5 .5,8.5 .5,6.5 .5,1.5 .5-10.5 .5,10 .5-8 .5-7 .5,15 .5-4 .5,9 .5-15.5 .5,10 .5-.5 .5-5 .5-5 .5,12.5 .5-4.5 .5,10.5 .5-16.5 .5,12 .5-19 .5,17.5 .5-12.5 .5,4.5 .5,0 .5-2.5 .5-11 .5,8 .5-3.5 .5-6 .5-2 .5-11.5 .5,1.5 .5-3 .5-14 .5,3 .5,3.5 .5-8.5 .5-2 .5-6 .5,3 .5-1 .5,0 .5-2 .5,8 .5,0 .5-2.5 .5,16 .5-1 .5,2.5 .5,12 .5-5.5 .5,1.5 .5,20 .5-7.5 .5,9.5 .5,.5 .5-13 .5,10.5 .5,3.5 .5-2.5 .5,7 .5,7 .5-10 .5,4 .5,.5 .5,1.5 .5-3 .5,8 .5-13 .5,3.5 .5-1.5 .5,9 .5,4 .5,1.5 .5,1.5 .5-15 .5,7.5 .5,6 .5-6 .5,4.5 .5,1 .5-5 .5-3 .5,1 .5,11.5 .5-7.5 .5-4 .5-1 .5,10.5 .5-13 .5,10.5 .5,8 .5-11 .5-6.5 .5-4.5 .5,16 .5-12 .5,9 .5,9.5 .5-8.5 .5-3.5 .5,.5 .5,6 .5-9 .5,2 .5,7.5 .5,2.5 .5-10.5 .5,9.5 .5-5 .5-10.5 .5,10 .5-.5 .5-1 .5,1.5 .5,9.5 .5-10.5 .5,4 .5,6.5 .5-12.5 .5-7 .5,2 .5-1 .5,14.5 .5,4 .5-10.5 .5,11 .5-12 .5,7 .5-1.5 .5-7.5 .5,3.5 .5,6 .5-13 .5,7.5 .5-4 .5,0 .5,8.5 .5-9.5 .5,13.5 .5-5.5 .5-6 .5-4 .5,12.5 .5-2 .5-8.5 .5,9.5 .5-5 .5,11.5 .5-6 .5-8 .5,4 .5,9.5 .5-1.5 .5-9.5 .5-6 .5,15 .5-11 .5,15.5 .5-18 .5,5 .5,12 .5-8 .5,5 .5,1 .5-18 .5,6 .5,9 .5-1.5 .5-5.5 .5-3 .5,7 .5,3.5 .5-.5 .5-10.5 .5,3.5 .5,9.5 .5-.5 .5-3 .5-5 .5,7.5 .5-6.5 .5-8.5 .5,1.5 .5-1.5 .5,11.5 .5,5 .5-3 .5-.5 .5-8 .5,9.5 .5-10 .5,2.5 .5,7.5 .5-.5 .5-10.5 .5,7 .5-1.5 .5,.5 .5-2.5 .5,1.5 .5,1 .5,8 .5,1.5 .5-7.5 .5,2.5 .5,1.5 .5-8 .5,8.5 .5-3.5 .5-8.5 .5,9 .5-.5 .5-4 .5-3 .5,1 .5,1 .5,14.5 .5-16.5 .5,4.5 .5,3 .5,4 .5-10.5 .5-4.5 .5,8.5 .5-9 .5,1 .5,15 .5-5 .5,8 .5-15.5 .5,4 .5,5 .5,4 .5-5 .5-3 .5-5 .5,9 .5-12.5 .5,13.5 .5-2.5 .5,.5 .5-1.5 .5,9.5 .5-3 .5,1.5 .5-14.5 .5,8.5 .5-9.5 .5,6.5 .5,0 .5,1 .5,1.5 .5,.5 .5-3.5 .5,3 .5-9.5 .5,9 .5,4.5 .5-13.5 .5,9.5 .5-8.5 .5,7 .5-9.5 .5,10 .5-8 .5,8 .5-4.5 .5-1 .5,2 .5-7 .5-1 .5,4 .5,1.5 .5-2.5 .5,0 .5-5 .5,9 .5-3.5 .5-3.5 .5,3.5 .5,2.5 .5-3.5 .5,2.5 .5,2 .5-1 .5-5 .5-10 .5,12.5 .5-12 .5,7.5 .5,0 .5,6.5 .5-3.5 .5-4.5 .5,1 .5,4.5 .5-11.5 .5,18 .5-15 .5-.5 .5-.5 .5,15.5 .5-15.5 .5,6 .5-8 .5,13.5 .5-8 .5,.5 .5-1.5 .5,5.5 .5,2.5 .5,1 .5-3 .5-7 .5,6.5 .5-8.5 .5,3 .5,6 .5-.5 .5-1 .5-2.5 .5-3 .5,4 .5,3.5 .5-3 .5,4 .5-2 .5,.5 .5,2.5 .5-6.5 .5,2 .5-1.5 .5,17 .5-7 .5-1 .5-10.5 .5,6.5 .5,12.5 .5-8 .5-4.5 .5,8 .5,7 .5-11.5 .5,2.5 .5-3 .5,2 .5-7 .5-1 .5,11.5 .5-7 .5,1.5 .5,1 .5,.5 .5-.5 .5-1.5 .5,10 .5-7 .5,5 .5,8.5 .5-15.5 .5,14 .5-10.5 .5,5.5 .5-4.5 .5,8.5 .5,3.5 .5-8 .5,1.5 .5-3 .5,10 .5-19 .5,7 .5,2.5 .5,.5 .5,8.5 .5-4 .5-8.5 .5,11 .5-11 .5-5 .5,8.5 .5-5.5 .5,6.5 .5-2 .5-2 .5,5.5 .5-.5 .5-.5 .5,1 .5-.5 .5-4 .5,6.5 .5-8.5 .5,3.5 .5,6 .5-9.5 .5,8 .5,1 .5-.5 .5-4.5 .5,6.5 .5-2.5 .5-11 .5,6 .5,2.5 .5-6 .5,2 .5,9.5 .5-6.5 .5,3 .5,8.5 .5-16 .5,4.5 .5-4 .5,0 .5,9.5 .5-1.5 .5-10.5 .5,15.5 .5-4 .5,0 .5-.5 .5-1 .5-1 .5-1 .5,5 .5,5.5 .5-14 .5,6.5 .5,.5 .5,0 .5-9.5 .5,6.5 .5,1.5 .5-2.5 .5,5.5 .5,3.5 .5-7 .5,.5 .5-4 .5,4.5 .5-4 .5,9 .5-8.5 .5,0 .5,8.5 .5-3 .5,7 .5-8.5 .5-5 .5,8 .5-9 .5,2.5 .5,0 .5-.5 .5-6 .5,12 .5-2 .5,3 .5-6.5 .5,8 .5-9.5 .5,12 .5-1 .5-15.5 .5,18.5 .5-4.5 .5-4.5 .5-.5 .5-2.5 .5,12 .5-2.5 .5-13 .5,6.5 .5,2.5 .5,0 .5-8.5 .5,7 .5,3 .5-9.5 .5,6.5 .5-8.5 .5,8 .5,3.5 .5,.5 .5-2 .5,0 .5-.5 .5,8 .5-5.5 .5-2 .5,7.5 .5-15 .5,10 .5-1.5 .5-5.5 .5,2.5 .5-9 .5,15 .5-13 .5,5.5 .5,.5 .5,10.5 .5-3.5 .5,1.5 .5-10 .5,.5 .5,11.5 .5-12 .5,2.5 .5-2 .5,12 .5-12 .5,3.5 .5-2.5 .5-1.5 .5-5.5 .5,8.5 .5-1 .5,10.5 .5-8 .5,8 .5-1.5 .5-6.5 .5,1.5 .5,3.5 .5,.5 .5-8.5 .5,5 .5-7 .5,8 .5-4.5 .5-1.5 .5,2.5 .5-8 .5,9.5 .5-9.5 .5,2 .5-.5 .5,6 .5,9 .5-3 .5-4 .5-9 .5,9 .5-.5 .5-1.5 .5,3 .5-1 .5,2.5 .5-6.5 .5,0 .5-4.5 .5,4 .5-6 .5,6.5 .5-3.5 .5-3.5 .5-1 .5,4 .5,5.5 .5,3.5 .5,.5 .5-1 .5-6 .5,5.5 .5-4 .5,1.5 .5-5.5 .5-4.5 .5,5 .5-3 .5-2.5 .5,2 .5,1.5 .5,4.5 .5-4 .5-1.5 .5-1 .5-1.5 .5,1 .5-8 .5,6 .5-10 .5-1 .5-12.5 .5,14 .5-18 .5,4 .5,1 .5-3.5 .5-7 .5-1 .5,0 .5-5.5 .5,.5 .5-.5 .5-1 .5,5.5 .5,0 .5,7.5 .5,4 .5,0 .5,1 .5-4 .5,4.5 .5,3.5 .5,8.5 .5,7.5 .5-10.5 .5-1.5 .5,8.5 .5,3 .5,5.5 .5,.5 .5,8 .5-7.5 .5-8.5 .5,6.5 .5,5 .5-9.5 .5,5.5 .5,3 .5-2.5 .5,4.5 .5,6.5 .5-15 .5,6.5 .5,11 .5-13.5 .5-.5 .5,1.5 .5,11 .5-13 .5,12 .5-2.5 .5-1.5 .5,5 .5-2 .5,5.5 .5-9 .5,2 .5-4.5 .5,9 .5-7 .5,3 .5-4 .5-2 .5,2.5 .5,0 .5,7.5 .5-6.5 .5,4 .5-2 .5-8 .5,2 .5,4 .5,4 .5,2 .5-3.5 .5,5.5 .5-10 .5,7.5 .5-12.5 .5,8 .5-.5 .5,1 .5,3.5 .5-7.5 .5,9.5 .5-6.5 .5-4 .5,5.5 .5,1.5 .5,3.5 .5,1.5 .5-14.5 .5,6.5 .5-1 .5,11.5 .5-8 .5-2.5 .5-3.5 .5,3.5 .5,2 .5,1 .5,0 .5,4 .5-2.5 .5,0 .5-1 .5,2.5 .5-2 .5-2 .5-.5 .5-7 .5,7 .5-2.5 .5,2.5 .5,0 .5-4 .5,4 .5-3.5 .5,2 .5,1 .5,11.5 .5-12 .5-5 .5,4 .5,8.5 .5,4 .5-11 .5,1.5 .5-2 .5,3.5 .5-3 .5,1 .5-2.5 .5,3 .5,4 .5-2.5 .5-3.5 .5-4.5 .5,3 .5,10 .5-13 .5,14 .5-10 .5,4.5 .5-8.5 .5,9.5 .5-2.5 .5,1 .5,9 .5-14.5 .5,6.5 .5-6.5 .5,5 .5,1.5 .5-6 .5,4 .5-3 .5,1.5 .5,10.5 .5-16.5 .5,4.5 .5,1 .5-6 .5,15.5 .5-9 .5,6 .5,1 .5-3 .5-.5 .5-.5 .5-12 .5,12 .5-4.5 .5-3 .5,2.5 .5-5 .5-2.5 .5,9.5 .5-5.5 .5-10.5 .5,1 .5,0 .5-6 .5,12.5 .5-1 .5-.5 .5,3.5 .5-5.5 .5-5.5 .5,6.5 .5,0 .5-3 .5-1 .5,0 .5-4 .5,5 .5,10 .5,1 .5-15.5 .5,2 .5,4.5 .5-1.5 .5,12.5 .5-8 .5,2 .5,6.5 .5-7 .5,2.5 .5-2 .5,9 .5,5 .5-2.5 .5-7 .5-.5 .5,2.5 .5-5.5 .5,11 .5-10.5 .5,5 .5,3 .5,2.5 .5,4.5 .5-1.5 .5,1 .5-10 .5,9 .5-3 .5-2 .5,2 .5-7.5 .5,2.5 .5,.5 .5,6 .5,3 .5-.5 .5-7.5 .5,3 .5,2.5 .5,.5 .5-9 .5,7 .5,1.5 .5-2 .5,5.5 .5,1 .5-14 .5,9.5 .5,0 .5-5.5 .5,10.5 .5-6.5 .5-2.5 .5-2.5 .5,13.5 .5-10 .5,6 .5-1.5 .5-6 .5,4 .5-8 .5,8 .5,1.5 .5-9.5 .5,6.5 .5-5.5 .5,9 .5-6 .5,7.5 .5-8 .5-2 .5,5.5 .5,5 .5-4.5 .5,7 .5-5.5 .5,0 .5-3 .5,3.5 .5-7 .5,10 .5-14 .5,4.5 .5,.5 .5,11 .5-7.5 .5,0 .5,3 .5-11.5 .5,14.5 .5-15.5 .5,5 .5,1.5 .5-.5 .5,6 .5-13 .5,7 .5,3.5 .5-2 .5-6 .5-2 .5,9.5 .5,2.5 .5-15.5 .5-1.5 .5,8 .5,2 .5-10.5 .5,10 .5,3.5 .5-8.5 .5,9 .5-7 .5,3 .5,5.5 .5-10 .5,3 .5-5 .5,5 .5,6.5 .5,1 .5-9.5 .5,5 .5,.5 .5-5.5 .5,6 .5-3 .5,5 .5,1.5 .5-1.5 .5-2 .5-2.5 .5-4 .5,14.5 .5-3 .5,3.5 .5-14.5 .5,9.5 .5,4 .5,1 .5-2 .5-.5 .5-7 .5,6 .5,1 .5-3 .5,8.5 .5-11 .5-2.5 .5,5 .5,3 .5,3 .5-6.5 .5,1.5 .5,2.5 .5-8.5 .5,7 .5,5 .5-3.5 .5,3 .5-6.5 .5,4 .5-5.5 .5-1 .5,5 .5-10 .5,6.5 .5-1.5 .5,6 .5-1.5 .5-2 .5,6 .5-10 .5,4.5 .5-2 .5,10 .5-8.5 .5-1 .5-2.5 .5,3.5 .5,2 .5-4.5 .5,5.5 .5-2.5 .5-2.5 .5,5.5 .5-2.5 .5-3 .5,3.5 .5,6 .5-3.5 .5-6 .5,.5 .5,0 .5,9.5 .5-10.5 .5,1 .5-1.5 .5,6 .5-2.5 .5-1.5 .5,9.5 .5-11 .5,9.5 .5-9.5 .5,7 .5,1.5 .5-7 .5,.5 .5,5 .5-4 .5-4 .5,10.5 .5-13.5 .5,4 .5,9 .5-4.5 .5-6 .5,8 .5-2.5 .5,.5 .5-2.5 .5-3.5 .5,10.5 .5-5 .5-2 .5,8 .5-9.5 .5,7.5 .5-8.5 .5,3 .5-3 .5,4.5 .5-4.5 .5,8 .5,3.5 .5-5.5 .5-.5 .5-1 .5-4.5 .5,8.5 .5,.5 .5-11.5 .5,4.5 .5-.5 .5,2.5 .5,5.5 .5-5.5 .5,2.5 .5-9 .5,2.5 .5,2.5 .5-4 .5,1 .5,7 .5-4 .5,.5 .5,8 .5-10 .5,1 .5,8 .5-6 .5,2.5 .5-3 .5,2 .5-1.5 .5-5.5 .5,3.5 .5,1 .5,5 .5-3.5 .5-2 .5-2 .5,2.5 .5,0 .5-3.5 .5,8.5 .5-3.5 .5-8.5 .5,4.5 .5,2.5 .5,0 .5-3 .5,8 .5-7.5 .5,5 .5-8 .5,6 .5-7 .5,8 .5-.5 .5,1.5 .5-7.5 .5,10 .5-7 .5,6 .5,4.5 .5-8.5 .5,0 .5,1 .5-4.5 .5,4 .5,0 .5-6 .5,13.5 .5-3 .5-7 .5,2 .5,.5 .5-3 .5,7" fill="none" stroke="#00f" stroke-width="3" stroke-linejoin="miter" stroke-miterlimit="2"/>
</g>
<g shape-rendering="crispEdges">
<rect x="120.1" y="30.0" width="1778.7" height="1316.0" fill="none" stroke="#000" stroke-width="7.5"/>
<rect x="131.3" y="1587.0" width="1776.5" height="1276.1999999999998" fill="none" stroke="#000" stroke-width="7.8"/>
<path d="M162.7,1344.5V1319.3 M205.0,1344.5V1332.3 M247.4,1344.5V1332.3 M289.7,1344.5V1332.3 M332.1,1344.5V1332.3 M374.4,1344.5V1319.3 M416.8,1344.5V1332.3 M459.1,1344.5V1332.3 M501.4,1344.5V1332.3 M543.8,1344.5V1332.3 M586.1,1344.5V1319.3 M628.5,1344.5V1332.3 M670.8,1344.5V1332.3 M713.1,1344.5V1332.3 M755.5,1344.5V1332.3 M797.8,1344.5V1319.3 M840.2,1344.5V1332.3 M882.5,1344.5V1332.3 M924.9,1344.5V1332.3 M967.2,1344.5V1332.3 M1009.5,1344.5V1319.3 M1051.9,1344.5V1332.3 M1094.2,1344.5V1332.3 M1136.6,1344.5V1332.3 M1178.9,1344.5V1332.3 M1221.2,1344.5V1319.3 M1263.6,1344.5V1332.3 M1305.9,1344.5V1332.3 M1348.3,1344.5V1332.3 M1390.6,1344.5V1332.3 M1433.0,1344.5V1319.3 M1475.3,1344.5V1332.3 M1517.6,1344.5V1332.3 M1560.0,1344.5V1332.3 M1602.3,1344.5V1332.3 M1644.7,1344.5V1319.3 M1687.0,1344.5V1332.3 M1729.4,1344.5V1332.3 M1771.7,1344.5V1332.3 M1814.0,1344.5V1332.3 M1856.4,1344.5V1319.3" stroke="#000" stroke-width="6.6" stroke-linecap="round" fill="none"/>
<path d="M173.0,2861.3V2837.6 M215.3,2861.3V2851.0 M257.6,2861.3V2851.0 M299.9,2861.3V2851.0 M342.3,2861.3V2851.0 M384.6,2861.3V2837.6 M426.9,2861.3V2851.0 M469.2,2861.3V2851.0 M511.5,2861.3V2851.0 M553.8,2861.3V2851.0 M596.1,2861.3V2837.6 M638.5,2861.3V2851.0 M680.8,2861.3V2851.0 M723.1,2861.3V2851.0 M765.4,2861.3V2851.0 M807.7,2861.3V2837.6 M850.0,2861.3V2851.0 M892.4,2861.3V2851.0 M934.7,2861.3V2851.0 M977.0,2861.3V2851.0 M1019.3,2861.3V2837.6 M1061.6,2861.3V2851.0 M1103.9,2861.3V2851.0 M1146.2,2861.3V2851.0 M1188.6,2861.3V2851.0 M1230.9,2861.3V2837.6 M1273.2,2861.3V2851.0 M1315.5,2861.3V2851.0 M1357.8,2861.3V2851.0 M1400.1,2861.3V2851.0 M1442.4,2861.3V2837.6 M1484.8,2861.3V2851.0 M1527.1,2861.3V2851.0 M1569.4,2861.3V2851.0 M1611.7,2861.3V2851.0 M1654.0,2861.3V2837.6 M1696.3,2861.3V2851.0 M1738.7,2861.3V2851.0 M1781.0,2861.3V2851.0 M1823.3,2861.3V2851.0 M1865.6,2861.3V2837.6" stroke="#000" stroke-width="7.4" stroke-linecap="round" fill="none"/>
</g>
<g shape-rendering="crispEdges">
<clipPath id="c260_26"><rect x="250.5" y="26" width="20" height="1330.5"/></clipPath>
<path d="M260.5,-34.5V1332.8" stroke="#000" stroke-width="7.4" stroke-linecap="round" stroke-dasharray="22.60 17.99 0.01 17.99" fill="none" clip-path="url(#c260_26)"/>
<clipPath id="c989_26"><rect x="979.2" y="26" width="20" height="1343"/></clipPath>
<path d="M989.2,-87.9V1346.0" stroke="#000" stroke-width="6" stroke-linecap="round" stroke-dasharray="24.00 17.32 0.01 17.32" fill="none" clip-path="url(#c989_26)"/>
<clipPath id="c267_1590"><rect x="257.1" y="1590" width="20" height="1293"/></clipPath>
<path d="M267.1,1530.0V2859.7" stroke="#000" stroke-width="6.6" stroke-linecap="round" stroke-dasharray="22.40 17.25 0.01 17.25" fill="none" clip-path="url(#c267_1590)"/>
<clipPath id="c994_1590"><rect x="984.1" y="1590" width="20" height="1302"/></clipPath>
<path d="M994.1,1479.8V2868.8" stroke="#000" stroke-width="6.4" stroke-linecap="round" stroke-dasharray="22.60 17.17 0.01 17.17" fill="none" clip-path="url(#c994_1590)"/>
</g>
<text x="323.4" y="210.7" font-family='"Liberation Serif", serif' font-size="61.5" fill="#000" filter="url(#bs)" >D</text>
<text x="323.8" y="273.4" font-family='"Liberation Serif", serif' font-size="56.9" fill="#000" filter="url(#bs)" >A</text>
<text x="363.8" y="442.4" font-family='"Liberation Serif", serif' font-size="54.0" fill="#000" filter="url(#bs)" >A</text>
<text x="230.7" y="563.4" font-family='"Liberation Sans", sans-serif' font-size="69.7" fill="#000" stroke="#000" stroke-width="0.5" filter="url(#ba)" >C</text>
<text x="516.3" y="426.4" font-family='"Liberation Serif", serif' font-size="62.2" fill="#000" filter="url(#bs)" >E</text>
<text x="520.9" y="499.8" font-family='"Liberation Serif", serif' font-size="54.6" fill="#000" filter="url(#bs)" >A</text>
<text x="511.0" y="573.3" font-family='"Liberation Sans", sans-serif' font-size="72.1" fill="#000" stroke="#000" stroke-width="0.5" filter="url(#ba)" >C</text>
<text x="742.3" y="164.3" font-family='"Liberation Serif", serif' font-size="60.3" fill="#000" filter="url(#bs)" >D</text>
<text x="750.7" y="243.8" font-family='"Liberation Sans", sans-serif' font-size="59.2" fill="#000" stroke="#000" stroke-width="0.5" filter="url(#ba)" >B</text>
<text x="741.1" y="309.6" font-family='"Liberation Sans", sans-serif' font-size="65.9" fill="#000" stroke="#000" stroke-width="0.5" filter="url(#ba)" >C</text>
<text x="793.8" y="438.5" font-family='"Liberation Serif", serif' font-size="55.6" fill="#000" filter="url(#bs)" >A</text>
<text x="879.9" y="532.0" font-family='"Liberation Serif", serif' font-size="62.5" fill="#000" filter="url(#bs)" >E</text>
<text x="875.7" y="600.4" font-family='"Liberation Sans", sans-serif' font-size="57.2" fill="#000" stroke="#000" stroke-width="0.5" filter="url(#ba)" >B</text>
<text x="968.6" y="703.4" font-family='"Liberation Sans", sans-serif' font-size="64.7" fill="#000" stroke="#000" stroke-width="0.5" filter="url(#ba)" >C</text>
<text x="1059.7" y="661.8" font-family='"Liberation Serif", serif' font-size="52.9" fill="#000" filter="url(#bs)" >A</text>
<text x="1293.7" y="553.7" font-family='"Liberation Serif", serif' font-size="60.8" fill="#000" filter="url(#bs)" >D</text>
<text x="1294.2" y="631.1" font-family='"Liberation Sans", sans-serif' font-size="61.4" fill="#000" stroke="#000" stroke-width="0.5" filter="url(#ba)" >B</text>
<text x="1286.1" y="702.8" font-family='"Liberation Sans", sans-serif' font-size="64.3" fill="#000" stroke="#000" stroke-width="0.5" filter="url(#ba)" >C</text>
<text x="1422.9" y="750.0" font-family='"Liberation Serif", serif' font-size="55.6" fill="#000" filter="url(#bs)" >A</text>
<text x="1588.1" y="655.3" font-family='"Liberation Serif", serif' font-size="64.9" fill="#000" filter="url(#bs)" >E</text>
<text x="1589.4" y="739.5" font-family='"Liberation Sans", sans-serif' font-size="60.2" fill="#000" stroke="#000" stroke-width="0.5" filter="url(#ba)" >B</text>
<text x="270.2" y="1074.9" font-family='"Liberation Sans", sans-serif' font-size="61.3" fill="#000" stroke="#000" stroke-width="0.5" filter="url(#ba)" >B</text>
<text x="606.2" y="1173.3" font-family='"Liberation Sans", sans-serif' font-size="62.8" fill="#000" stroke="#000" stroke-width="0.5" filter="url(#ba)" >B</text>
<text x="339.0" y="1898.0" font-family='"Liberation Serif", serif' font-size="57.8" fill="#000" filter="url(#bs)" >D</text>
<text x="342.2" y="1958.9" font-family='"Liberation Serif", serif' font-size="52.4" fill="#000" filter="url(#bs)" >A</text>
<text x="241.1" y="2034.4" font-family='"Liberation Sans", sans-serif' font-size="63.7" fill="#000" stroke="#000" stroke-width="0.5" filter="url(#ba)" >C</text>
<text x="380.7" y="2039.8" font-family='"Liberation Serif", serif' font-size="51.5" fill="#000" filter="url(#bs)" >A</text>
<text x="537.8" y="1887.3" font-family='"Liberation Serif", serif' font-size="62.4" fill="#000" filter="url(#bs)" >E</text>
<text x="537.3" y="1955.8" font-family='"Liberation Serif", serif' font-size="51.4" fill="#000" filter="url(#bs)" >A</text>
<text x="527.7" y="2029.6" font-family='"Liberation Sans", sans-serif' font-size="64.9" fill="#000" stroke="#000" stroke-width="0.5" filter="url(#ba)" >C</text>
<text x="756.8" y="1659.6" font-family='"Liberation Serif", serif' font-size="60.0" fill="#000" filter="url(#bs)" >D</text>
<text x="760.6" y="1734.3" font-family='"Liberation Sans", sans-serif' font-size="60.6" fill="#000" stroke="#000" stroke-width="0.5" filter="url(#ba)" >B</text>
<text x="750.8" y="1797.6" font-family='"Liberation Sans", sans-serif' font-size="61.5" fill="#000" stroke="#000" stroke-width="0.5" filter="url(#ba)" >C</text>
<text x="898.0" y="1939.4" font-family='"Liberation Serif", serif' font-size="65.9" fill="#000" filter="url(#bs)" >E</text>
<text x="891.5" y="2000.4" font-family='"Liberation Sans", sans-serif' font-size="60.9" fill="#000" stroke="#000" stroke-width="0.5" filter="url(#ba)" >B</text>
<text x="805.8" y="2001.1" font-family='"Liberation Serif", serif' font-size="52.8" fill="#000" filter="url(#bs)" >A</text>
<text x="967.8" y="2066.2" font-family='"Liberation Sans", sans-serif' font-size="60.3" fill="#000" stroke="#000" stroke-width="0.5" filter="url(#ba)" >C</text>
<text x="1071.8" y="2119.1" font-family='"Liberation Serif", serif' font-size="52.8" fill="#000" filter="url(#bs)" >A</text>
<text x="1319.3" y="1889.3" font-family='"Liberation Serif", serif' font-size="58.6" fill="#000" filter="url(#bs)" >D</text>
<text x="1319.2" y="1980.0" font-family='"Liberation Sans", sans-serif' font-size="60.9" fill="#000" stroke="#000" stroke-width="0.5" filter="url(#ba)" >B</text>
<text x="1313.0" y="2063.2" font-family='"Liberation Sans", sans-serif' font-size="61.1" fill="#000" stroke="#000" stroke-width="0.5" filter="url(#ba)" >C</text>
<text x="1446.3" y="2124.4" font-family='"Liberation Serif", serif' font-size="53.3" fill="#000" filter="url(#bs)" >A</text>
<text x="1600.6" y="2051.6" font-family='"Liberation Serif", serif' font-size="62.8" fill="#000" filter="url(#bs)" >E</text>
<text x="1595.7" y="2126.2" font-family='"Liberation Sans", sans-serif' font-size="60.6" fill="#000" stroke="#000" stroke-width="0.5" filter="url(#ba)" >B</text>
<text x="1517.0" y="107.7" font-family='"Liberation Serif", serif' font-size="57.6" fill="#f00" filter="url(#bs)" >A</text>
<text x="1518.7" y="214.0" font-family='"Liberation Serif", serif' font-size="53.6" fill="#f00" filter="url(#bs)" >B</text>
<text x="1517.4" y="299.3" font-family='"Liberation Serif", serif' font-size="64.7" fill="#f00" filter="url(#bs)" >C</text>
<text x="1517.6" y="378.4" font-family='"Liberation Serif", serif' font-size="64.4" fill="#f00" filter="url(#bs)" >D</text>
<text x="1517.4" y="486.9" font-family='"Liberation Serif", serif' font-size="65.1" fill="#f00" filter="url(#bs)" >E</text>
<text x="1585.7" y="1655.1" font-family='"Liberation Serif", serif' font-size="47.7" fill="#f00" filter="url(#bs)" >A</text>
<text x="1587.3" y="1749.0" font-family='"Liberation Serif", serif' font-size="45.3" fill="#f00" filter="url(#bs)" >B</text>
<text x="1587.3" y="1824.2" font-family='"Liberation Serif", serif' font-size="52.4" fill="#f00" filter="url(#bs)" >C</text>
<text x="1587.4" y="1892.8" font-family='"Liberation Serif", serif' font-size="52.2" fill="#f00" filter="url(#bs)" >D</text>
<text x="1586.9" y="1985.1" font-family='"Liberation Serif", serif' font-size="54.0" fill="#f00" filter="url(#bs)" >E</text>
<text x="126.0" y="1429.2" font-family='"Liberation Sans", sans-serif' font-size="70.3" fill="#000" stroke="#000" stroke-width="0.5" filter="url(#ba)" textLength="75.8" lengthAdjust="spacingAndGlyphs">10</text>
<text x="138.0" y="2944.5" font-family='"Liberation Sans", sans-serif' font-size="68.6" fill="#000" stroke="#000" stroke-width="0.5" filter="url(#ba)" textLength="72.5" lengthAdjust="spacingAndGlyphs">10</text>
<text x="335.7" y="1429.2" font-family='"Liberation Sans", sans-serif' font-size="70.3" fill="#000" stroke="#000" stroke-width="0.5" filter="url(#ba)" textLength="75.8" lengthAdjust="spacingAndGlyphs">20</text>
<text x="347.6" y="2944.5" font-family='"Liberation Sans", sans-serif' font-size="68.6" fill="#000" stroke="#000" stroke-width="0.5" filter="url(#ba)" textLength="72.5" lengthAdjust="spacingAndGlyphs">20</text>
<text x="548.0" y="1429.2" font-family='"Liberation Sans", sans-serif' font-size="70.3" fill="#000" stroke="#000" stroke-width="0.5" filter="url(#ba)" textLength="75.8" lengthAdjust="spacingAndGlyphs">30</text>
<text x="559.7" y="2944.5" font-family='"Liberation Sans", sans-serif' font-size="68.6" fill="#000" stroke="#000" stroke-width="0.5" filter="url(#ba)" textLength="72.5" lengthAdjust="spacingAndGlyphs">30</text>
<text x="760.2" y="1429.2" font-family='"Liberation Sans", sans-serif' font-size="70.3" fill="#000" stroke="#000" stroke-width="0.5" filter="url(#ba)" textLength="75.8" lengthAdjust="spacingAndGlyphs">40</text>
<text x="771.8" y="2944.5" font-family='"Liberation Sans", sans-serif' font-size="68.6" fill="#000" stroke="#000" stroke-width="0.5" filter="url(#ba)" textLength="72.5" lengthAdjust="spacingAndGlyphs">40</text>
<text x="971.4" y="1429.2" font-family='"Liberation Sans", sans-serif' font-size="70.3" fill="#000" stroke="#000" stroke-width="0.5" filter="url(#ba)" textLength="75.8" lengthAdjust="spacingAndGlyphs">50</text>
<text x="982.8" y="2944.5" font-family='"Liberation Sans", sans-serif' font-size="68.6" fill="#000" stroke="#000" stroke-width="0.5" filter="url(#ba)" textLength="72.5" lengthAdjust="spacingAndGlyphs">50</text>
<text x="1182.6" y="1429.2" font-family='"Liberation Sans", sans-serif' font-size="70.3" fill="#000" stroke="#000" stroke-width="0.5" filter="url(#ba)" textLength="75.8" lengthAdjust="spacingAndGlyphs">60</text>
<text x="1193.9" y="2944.5" font-family='"Liberation Sans", sans-serif' font-size="68.6" fill="#000" stroke="#000" stroke-width="0.5" filter="url(#ba)" textLength="72.5" lengthAdjust="spacingAndGlyphs">60</text>
<text x="1394.3" y="1429.2" font-family='"Liberation Sans", sans-serif' font-size="70.3" fill="#000" stroke="#000" stroke-width="0.5" filter="url(#ba)" textLength="75.8" lengthAdjust="spacingAndGlyphs">70</text>
<text x="1405.5" y="2944.5" font-family='"Liberation Sans", sans-serif' font-size="68.6" fill="#000" stroke="#000" stroke-width="0.5" filter="url(#ba)" textLength="72.5" lengthAdjust="spacingAndGlyphs">70</text>
<text x="1606.5" y="1429.2" font-family='"Liberation Sans", sans-serif' font-size="70.3" fill="#000" stroke="#000" stroke-width="0.5" filter="url(#ba)" textLength="75.8" lengthAdjust="spacingAndGlyphs">80</text>
<text x="1617.6" y="2944.5" font-family='"Liberation Sans", sans-serif' font-size="68.6" fill="#000" stroke="#000" stroke-width="0.5" filter="url(#ba)" textLength="72.5" lengthAdjust="spacingAndGlyphs">80</text>
<text x="1817.7" y="1429.2" font-family='"Liberation Sans", sans-serif' font-size="70.3" fill="#000" stroke="#000" stroke-width="0.5" filter="url(#ba)" textLength="75.8" lengthAdjust="spacingAndGlyphs">90</text>
<text x="1828.6" y="2944.5" font-family='"Liberation Sans", sans-serif' font-size="68.6" fill="#000" stroke="#000" stroke-width="0.5" filter="url(#ba)" textLength="72.5" lengthAdjust="spacingAndGlyphs">90</text>
<text x="145.0" y="127.0" font-family='"Liberation Sans", sans-serif' font-size="84" fill="#000" stroke="#000" stroke-width="0.5" filter="url(#ba)" >(a)</text>
<text x="147.6" y="1669.4" font-family='"Liberation Sans", sans-serif' font-size="78" fill="#000" stroke="#000" stroke-width="0.5" filter="url(#ba)" >(b)</text>
<text transform="translate(77,946.7) rotate(-90)" font-family='"Liberation Serif", serif' font-size="84.1" filter="url(#bs)">Intensity (a.u)</text>
<text transform="translate(80.5,2488.7) rotate(-90)" font-family='"Liberation Serif", serif' font-size="81" filter="url(#bs)">Intensity (a.u)</text>
<text x="890.8" y="1536.4" font-family='"Liberation Serif", serif' font-size="82" filter="url(#bs)">2θ</text>
<text font-family='"Liberation Sans", sans-serif' font-size="81" stroke="#000" stroke-width="0.3" filter="url(#ba)"><tspan x="972.6" y="1535">(</tspan><tspan x="999.4" y="1490.2" font-size="46.5">o</tspan><tspan x="1026" y="1535">)</tspan></text>
<text x="905.2" y="3049.8" font-family='"Liberation Serif", serif' font-size="80" filter="url(#bs)">2θ</text>
<text font-family='"Liberation Sans", sans-serif' font-size="72" stroke="#000" stroke-width="0.3" filter="url(#ba)"><tspan x="982.3" y="3043.2">(</tspan><tspan x="1006.3" y="3006" font-size="45">o</tspan><tspan x="1033.7" y="3043.2">)</tspan></text>
<text x="1715" y="765.3" font-family='"Liberation Sans", sans-serif' font-size="65" stroke="#000" stroke-width="0.5" filter="url(#ba)">80<tspan font-size="39.0" dy="-35.8">o</tspan><tspan dy="35.8">C</tspan></text>
<text x="1725" y="975" font-family='"Liberation Sans", sans-serif' font-size="66" stroke="#000" stroke-width="0.5" filter="url(#ba)">60<tspan font-size="39.6" dy="-36.3">o</tspan><tspan dy="36.3">C</tspan></text>
<text x="1723" y="1266" font-family='"Liberation Sans", sans-serif' font-size="65" stroke="#000" stroke-width="0.5" filter="url(#ba)">30<tspan font-size="39.0" dy="-35.8">o</tspan><tspan dy="35.8">C</tspan></text>
<text x="1739.5" y="2160" font-family='"Liberation Sans", sans-serif' font-size="61.3" stroke="#000" stroke-width="0.5" filter="url(#ba)">80<tspan font-size="36.8" dy="-33.7">o</tspan><tspan dy="33.7">C</tspan></text>
<text x="1744" y="2499.5" font-family='"Liberation Sans", sans-serif' font-size="61.3" stroke="#000" stroke-width="0.5" filter="url(#ba)">60<tspan font-size="36.8" dy="-33.7">o</tspan><tspan dy="33.7">C</tspan></text>
<text x="1747" y="2792.5" font-family='"Liberation Sans", sans-serif' font-size="61.3" stroke="#000" stroke-width="0.5" filter="url(#ba)">30<tspan font-size="36.8" dy="-33.7">o</tspan><tspan dy="33.7">C</tspan></text>
<text x="1634.5" y="107.4" font-family='"Liberation Serif", serif' font-size="66" fill="#f00" filter="url(#bs)" textLength="232" lengthAdjust="spacing">Al(OH)<tspan dy="23">3</tspan></text>
<text x="1630" y="215.8" font-family='"Liberation Serif", serif' font-size="66" fill="#f00" filter="url(#bs)" textLength="64" lengthAdjust="spacing">Al</text>
<text x="1623.7" y="300" font-family='"Liberation Serif", serif' font-size="66" fill="#f00" filter="url(#bs)" textLength="246" lengthAdjust="spacing">AlO(OH)</text>
<text x="1630" y="378" font-family='"Liberation Serif", serif' font-size="66" fill="#f00" filter="url(#bs)" textLength="173" lengthAdjust="spacing">Al<tspan dy="24">2</tspan><tspan dy="-24">O</tspan><tspan dy="24">3</tspan></text>
<text x="1639.7" y="485" font-family='"Liberation Serif", serif' font-size="66" fill="#f00" filter="url(#bs)" textLength="153" lengthAdjust="spacing">AlCl<tspan dy="22">3</tspan></text>
<text x="1685.5" y="1656.8" font-family='"Liberation Serif", serif' font-size="59" fill="#f00" filter="url(#bs)" textLength="194" lengthAdjust="spacing">Al(OH)<tspan dy="18.5">3</tspan></text>
<text x="1682.8" y="1750.8" font-family='"Liberation Serif", serif' font-size="59" fill="#f00" filter="url(#bs)" textLength="52" lengthAdjust="spacing">Al</text>
<text x="1677.2" y="1823.7" font-family='"Liberation Serif", serif' font-size="59" fill="#f00" filter="url(#bs)" textLength="206.5" lengthAdjust="spacing">AlO(OH)</text>
<text x="1681.4" y="1893.8" font-family='"Liberation Serif", serif' font-size="59" fill="#f00" filter="url(#bs)" textLength="145" lengthAdjust="spacing">Al<tspan dy="20">2</tspan><tspan dy="-20">O</tspan><tspan dy="20">3</tspan></text>
<text x="1688.9" y="1985.8" font-family='"Liberation Serif", serif' font-size="59" fill="#f00" filter="url(#bs)" textLength="129.5" lengthAdjust="spacing">AlCl<tspan dy="19">3</tspan></text>
</svg>
</body></html>
